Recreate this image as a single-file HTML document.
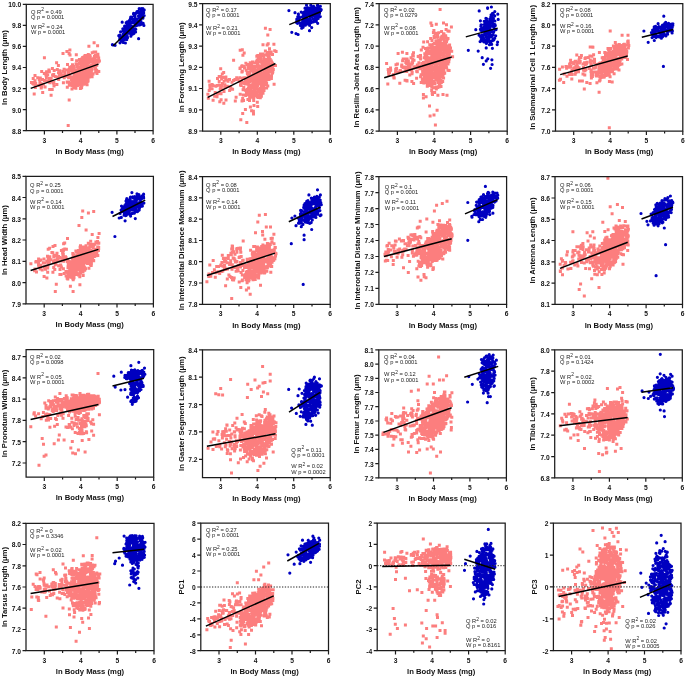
<!DOCTYPE html>
<html><head><meta charset="utf-8"><style>
html,body{margin:0;padding:0;background:#fff;}
svg{display:block;}
text{font-family:"Liberation Sans",sans-serif;}
svg{will-change:transform;}
.tk{font-size:6.7px;font-weight:bold;fill:#111;}
.tt{font-size:7.7px;font-weight:bold;fill:#111;}
.st{font-size:5.75px;fill:#222;}
</style></head><body>
<svg width="685" height="677" viewBox="0 0 685 677">
<path d="M82.3 58.8h0M82.5 73h0M74.8 75.7h0M87.5 55.6h0M84.2 67h0M88.5 62.4h0M79.3 62.8h0M81.3 75.8h0M79.8 79.1h0M79.3 74.7h0M86.1 73h0M72 89h0M96.8 65.2h0M79 66.8h0M91.6 69.9h0M77.8 79h0M87.9 76.6h0M95.2 58.1h0M84.1 67.1h0M82.4 77.2h0M81.5 78h0M74.1 87.7h0M71.8 80.8h0M84.4 65.8h0M84.2 56.8h0M91.8 59.6h0M74 73.1h0M84.9 71.8h0M93.2 62.8h0M93 73.9h0M93.2 61.3h0M95 68.7h0M91.3 71h0M86.8 66.7h0M74.8 81.7h0M85.3 72.3h0M84.7 66.1h0M76.9 66.7h0M75.4 84.7h0M95.8 69.6h0M78.5 69.3h0M76 63.9h0M82 65.8h0M75.7 79.9h0M90.3 57h0M75.9 88.2h0M72.4 72.2h0M86.3 82.1h0M73.9 84.5h0M91.9 64.7h0M83 60h0M81.2 72.7h0M71.5 79.6h0M78.7 70h0M88.5 71.7h0M81.9 58.9h0M72.2 77.7h0M83.1 80.1h0M72.4 85.5h0M95.6 66.3h0M83.2 69.3h0M78.5 72h0M75 70.8h0M83.4 61.1h0M84.1 62.6h0M81 60.7h0M82.1 83.6h0M88.7 55.6h0M93.3 66h0M88.1 81.1h0M90 72.2h0M71 76.9h0M94 52h0M75 85.5h0M84.9 74.1h0M92.9 61.5h0M81.3 66.8h0M92.8 60.8h0M82 83.2h0M88.9 61.8h0M96.5 63h0M91.6 66.4h0M95.4 55.2h0M72.8 79.7h0M74.8 85.4h0M81.9 85.4h0M85.1 55.6h0M90.9 60.8h0M76 69.9h0M67.2 82h0M81.1 77.3h0M94.7 61.9h0M88.1 58.9h0M80.1 85.2h0M81.6 71.2h0M74.3 79.2h0M82.7 57.4h0M81 73.2h0M85.8 79.1h0M74.7 70.2h0M87.1 64.8h0M84 74.6h0M86.9 61.4h0M86.8 59.1h0M94.4 62.6h0M84.9 82.6h0M87.3 63.7h0M81 78.5h0M82.4 71.3h0M94.6 64.7h0M81.2 65.4h0M84.3 60.3h0M77 82.7h0M76.7 72.7h0M81.2 66.7h0M89.3 59h0M91.1 72.8h0M91.6 65.4h0M83.4 74.8h0M95.6 63.4h0M89.1 58h0M67.4 82.3h0M69 75.6h0M78.8 80.4h0M85 63.5h0M72.3 83.1h0M85.5 61.6h0M69.8 74.9h0M88 59h0M85 65.6h0M73.8 77.9h0M86.8 78.4h0M89.9 55.5h0M93.1 73.7h0M76.8 83.9h0M80.9 59.8h0M74.1 75.4h0M87.3 81.5h0M83.1 80.9h0M80.8 59.5h0M78.9 77.1h0M67.3 87.3h0M85.3 68.4h0M80.9 60.7h0M90.7 74.3h0M92.1 76.8h0M80.5 61.4h0M89.7 68.6h0M90.2 65.8h0M90.2 72.2h0M86.1 71.9h0M80.3 71.1h0M78.4 79.1h0M70.7 68.6h0M83.9 66.8h0M88.1 78.3h0M77.4 85.1h0M81.5 84.3h0M79.1 85h0M69.4 84.1h0M94.2 64.6h0M77.3 65.7h0M79.9 63.5h0M92.2 61.5h0M84.4 68.9h0M96.5 55.5h0M93.9 62.9h0M83.7 82.2h0M73.4 79.3h0M79.4 67.4h0M73.3 78.8h0M84.4 84h0M74.8 85.1h0M85.9 74.5h0M80.3 82.2h0M83.1 74.3h0M84.1 57.9h0M95.7 71.2h0M71.8 70.4h0M80 67h0M75.2 84.8h0M89.3 57.3h0M87.3 57.8h0M85.5 76.5h0M85.9 71.2h0M76.7 80.1h0M74.8 73.8h0M89.2 71.6h0M89.3 77h0M78.9 78.7h0M83.4 67.8h0M73.7 86.4h0M94.2 66.6h0M82.2 69.6h0M77.7 77.6h0M84.4 77.2h0M80.4 88.6h0M81.6 79.5h0M89.3 55.9h0M82 58.7h0M69.3 70.8h0M82.4 72.8h0M98 56.5h0M81.6 80.8h0M86.2 71.3h0M85.7 57.7h0M81.3 65.4h0M88.3 71.4h0M84.5 64.3h0M83.7 61.1h0M77.3 64.5h0M87.4 70h0M89.2 61.9h0M80.9 72.8h0M90.6 73.1h0M83.4 84.3h0M94.3 62.1h0M80.7 75.3h0M89.1 61.3h0M73.5 71.7h0M69.3 84.4h0M89.4 77.1h0M91.7 59.3h0M94.3 60.6h0M87 56.5h0M93.8 58.3h0M71.7 66.4h0M88.8 74.2h0M91.8 69.9h0M73.8 68.5h0M83.1 83.5h0M77.6 81.9h0M94.5 56.6h0M82.5 68.2h0M91.7 69.6h0M96.1 72h0M90.4 68.1h0M82.7 70.5h0M84 67.6h0M99.4 61.1h0M84.4 60.8h0M89 70.6h0M82.3 79.1h0M81.1 70.9h0M77.8 81.6h0M81 78.3h0M72.4 84.1h0M88.3 54.6h0M84.6 72.4h0M92.2 52.7h0M81 80.1h0M84.1 82h0M90.8 72.1h0M85.7 74.9h0M76.5 77.1h0M80.3 70.2h0M73.7 66.4h0M88.1 65.7h0M90.8 66.2h0M72 59.4h0M82.9 73.6h0M98.6 59.4h0M77.5 73.1h0M68.5 82.1h0M88.9 59.8h0M81.7 62.6h0M81.4 65.9h0M75.8 80.2h0M76.3 54.8h0M98.3 61.9h0M93.1 60.5h0M97.9 54.3h0M83.2 71.2h0M83.7 75.8h0M82.8 76.9h0M83.2 65.5h0M71.6 78.7h0M75.2 80.2h0M95.7 52.1h0M70.7 70.1h0M97.6 45.8h0M79.4 59.5h0M85.3 64.6h0M73.1 69.3h0M83.8 76.3h0M76.1 75.4h0M86.8 72.6h0M79.2 79.9h0M83.1 68.7h0M71.7 85.2h0M77.3 85.4h0M82.3 76.8h0M81.6 74.9h0M70.4 83.1h0M77.3 74.4h0M62.3 75.3h0M72.5 64.8h0M79.3 68.2h0M74.1 74.1h0M79.3 78.9h0M81.6 87.8h0M92.1 75.3h0M74.3 73.8h0M77.7 72.4h0M96.7 70.5h0M97 73.6h0M98.8 71.6h0M96.4 60.3h0M87.1 84.8h0M79.6 73.8h0M80 70.6h0M79.7 67.5h0M80.1 75.5h0M80.4 78.2h0M87.1 65.6h0M64.3 76.7h0M83.5 71.7h0M82.9 76.7h0M86.5 75.5h0M85.2 73.9h0M80.4 81.9h0M81.1 77.2h0M80.3 84.4h0M87.4 74.6h0M84.9 80.5h0M76.6 60.8h0M98.7 58.1h0M42.7 92.4h0M58.7 79.4h0M66.4 69.9h0M44.3 80.6h0M62.9 71.2h0M49.7 89.6h0M69.7 67.2h0M49.4 71.8h0M41.7 86.7h0M50.1 80.5h0M66.7 76.3h0M40.3 77.9h0M46 75h0M51.2 78.3h0M53.8 82.5h0M35.7 83.6h0M59.5 75.8h0M37.7 77.8h0M68.5 72.7h0M57.3 69.4h0M47.7 75h0M64.8 72.6h0M63.4 82.8h0M45.1 86.9h0M35.1 84.7h0M64.2 77.8h0M40 83.4h0M53.3 83.1h0M40.2 83.5h0M42.5 79.6h0M34.4 82.4h0M66.9 51.5h0M52.6 74.9h0M46.8 80.7h0M54 85.9h0M69.4 85.3h0M32.6 83.2h0M63 53.6h0M34.2 93.9h0M48.9 82.1h0M56.9 84.4h0M35 80.7h0M31.5 82.6h0M58.5 72.7h0M39.9 82h0M69.1 69.5h0M41.2 88h0M63.6 76h0M54.2 70.4h0M61.2 73.8h0M65 73.5h0M39.3 79.6h0M68.4 72h0M40.6 84.1h0M53.7 74.4h0M46.4 77.5h0M48.9 69.9h0M52.4 68.4h0M67.5 64.6h0M59.7 70.7h0M69.1 53.6h0M33.4 84.1h0M56.6 62.8h0M33.2 78.5h0M51.1 95.3h0M49.5 78.4h0M38.8 85.5h0M41.7 71.4h0M47.7 81.3h0M58.4 65.4h0M46.2 73.1h0M49 70.6h0M44.3 73.6h0M46.6 71.8h0M55.2 76.5h0M43.4 84h0M61 75.6h0M53.7 75.5h0M58.1 76.9h0M52.2 89.6h0M49.9 82.8h0M70 54.9h0M69.9 50h0M35.4 87.6h0M68.8 72.2h0M68.6 77.8h0M35 75.4h0M64.1 69.2h0M50.3 81.3h0M45.9 74.9h0M68.2 125.6h0M69.2 100h0M44.4 57.8h0M94.1 42.8h0M88.9 46.2h0" stroke="#fc7e7e" stroke-width="3" stroke-linecap="square" fill="none"/>
<path d="M125.1 37.6h0M140.8 21.5h0M126.8 36.5h0M141.1 13h0M125.6 37.8h0M122.8 28.8h0M141 22.6h0M127.9 26.8h0M135.4 25.5h0M130.1 29.6h0M122.8 31h0M137 11.6h0M140.6 12.9h0M120 42.8h0M119.7 39.2h0M142 16.2h0M131.2 27.6h0M126.8 39.6h0M134.9 29.8h0M135 16.2h0M141.1 13.5h0M130.7 17.2h0M125.9 25.9h0M137.8 24.7h0M119.7 35h0M140.2 14.8h0M135.8 29.3h0M134.8 26.2h0M130.7 23h0M126.4 28.2h0M124.6 26.2h0M122.1 36.6h0M140.8 8.8h0M128.8 33.2h0M128.6 22.7h0M134.6 29.6h0M120.5 39.3h0M133.7 22.8h0M123.4 39.5h0M124.5 35.6h0M121.1 37.2h0M129.4 20.6h0M125.1 33.3h0M128.4 26.3h0M128.9 31.4h0M134 21.7h0M128.9 31.8h0M132.3 22.6h0M140.9 10.3h0M130.7 30.4h0M140.3 18.3h0M127.2 21.8h0M129.2 30h0M131.7 17h0M134.4 30.8h0M131.6 27.4h0M141.1 24.3h0M143.8 10.4h0M131.4 28.1h0M133.9 33.5h0M120.6 31.8h0M142 11.3h0M135.5 24.3h0M124.7 32.7h0M131.9 32.4h0M125.9 36.6h0M136.4 21.1h0M128.5 25.3h0M131 34.6h0M125.5 35.3h0M125.8 34.5h0M139.8 12h0M132.9 33.9h0M134.4 22.3h0M143.7 12.9h0M132.7 28.2h0M126.2 22.7h0M137 19.7h0M140.8 16.3h0M121.8 37.4h0M126.5 35.8h0M123.2 42.4h0M128.4 29.7h0M127.5 30.6h0M123.7 29.2h0M123 34.3h0M142.3 13.7h0M127.4 28.7h0M135.4 14.1h0M125 31.9h0M142.1 14.8h0M140.9 11.1h0M127.7 22.3h0M130.9 36.2h0M131.6 26h0M129.3 20.6h0M133.5 14h0M131.7 26.8h0M130.8 22.9h0M132.3 22.3h0M127.8 22.1h0M130.1 27.5h0M124.8 29.5h0M128.6 30h0M136 13.2h0M137.7 12.4h0M134.6 29.8h0M119.8 37.6h0M140.7 22.9h0M135.2 14.5h0M127.9 27.4h0M131.8 21.9h0M137.5 21.7h0M142.3 13.1h0M131.9 32.1h0M123.3 39.2h0M128.4 30.4h0M120.4 38.9h0M138.5 15.9h0M139.8 18.2h0M135.6 32h0M139.4 22.7h0M134.8 25.5h0M127.7 28.5h0M140.9 17.6h0M136 25.8h0M140 12.7h0M129.9 33h0M139.8 23.5h0M139.2 23.4h0M121.2 41h0M123.9 30.9h0M142.9 8.7h0M142.4 17.4h0M137.6 25.1h0M127.5 37.7h0M125.7 37h0M133.6 13.3h0M139 17.5h0M126.5 23h0M126.9 36.8h0M130 32.8h0M129.5 27.7h0M126.7 30.6h0M140.2 21.1h0M130 22.8h0M127.6 24h0M131.4 35h0M128 24.9h0M128.1 23h0M124.9 39h0M128 23.3h0M134.6 23h0M144.2 9.9h0M134.9 18.2h0M132.9 19.3h0M137 19h0M141 13.8h0M141.3 8.5h0M138.4 21.3h0M128.6 32.6h0M140.9 17.4h0M139.8 15.2h0M134.2 19.8h0M143 17.5h0M121.8 37.4h0M141.4 9.3h0M130.4 18.8h0M140.6 21.8h0M139.6 25h0M135 20.8h0M127.8 30.2h0M125.3 27.4h0M122.8 36.8h0M134.3 15.4h0M143.5 11.6h0M140.1 19.8h0M127.3 36.3h0M136.1 20.6h0M144.2 15.5h0M126.4 33.3h0M123.9 31.8h0M124 28.5h0M142.9 18.2h0M130.4 18.9h0M118.8 35.7h0M134.8 21.5h0M132.8 31.4h0M143.9 25.4h0M129.2 21h0M132.6 30.8h0M141.2 15.8h0M124.3 39.7h0M137.9 11.4h0M129.8 24.9h0M134.6 23.2h0M124.3 29.2h0M125.9 33.8h0M143.2 23.3h0M141 21.3h0M139.2 8.6h0M112.4 44.7h0M136.2 25.7h0M140.4 21.5h0M127 28.5h0M123 35.5h0M112.7 44.9h0M115.1 45.3h0M122.2 22.2h0M125.4 43h0M138.6 38.7h0" stroke="#0000c0" stroke-width="3.2" stroke-linecap="round" fill="none"/>
<line x1="30.7" y1="88.4" x2="98.5" y2="64.1" stroke="#000" stroke-width="1.5"/>
<line x1="113.1" y1="45.7" x2="143.7" y2="16.6" stroke="#000" stroke-width="1.5"/>
<path d="M26.3 4.3H153.1V130.7H26.3Z" fill="none" stroke="#1c1c1c" stroke-width="1.25"/>
<text x="21.3" y="133.6" text-anchor="end" class="tk">8.8</text>
<text x="21.3" y="112.5" text-anchor="end" class="tk">9.0</text>
<text x="21.3" y="91.5" text-anchor="end" class="tk">9.2</text>
<text x="21.3" y="70.4" text-anchor="end" class="tk">9.4</text>
<text x="21.3" y="49.3" text-anchor="end" class="tk">9.6</text>
<text x="21.3" y="28.3" text-anchor="end" class="tk">9.8</text>
<text x="21.3" y="7.2" text-anchor="end" class="tk">10.0</text>
<text x="44.4" y="142.6" text-anchor="middle" class="tk">3</text>
<text x="80.6" y="142.6" text-anchor="middle" class="tk">4</text>
<text x="116.9" y="142.6" text-anchor="middle" class="tk">5</text>
<text x="153.1" y="142.6" text-anchor="middle" class="tk">6</text>
<path d="M22.8 130.7H26.3M22.8 109.6H26.3M22.8 88.6H26.3M22.8 67.5H26.3M22.8 46.4H26.3M22.8 25.4H26.3M22.8 4.3H26.3M44.4 130.7V134.5M80.6 130.7V134.5M116.9 130.7V134.5M153.1 130.7V134.5M62.5 130.7V132.9M98.8 130.7V132.9M135 130.7V132.9" stroke="#1c1c1c" stroke-width="1.2" fill="none"/>
<text x="89.7" y="153.9" text-anchor="middle" class="tt">ln Body Mass (mg)</text>
<text transform="translate(7.2 67.5) rotate(-90)" text-anchor="middle" class="tt">ln Body Length (μm)</text>
<text x="30.9" y="13.5" class="st">Q R<tspan dy="-2.2" font-size="4.9">2</tspan><tspan dy="2.2"> = 0.49</tspan></text>
<text x="30.9" y="18.7" class="st">Q p = 0.0001</text>
<text x="30.9" y="29" class="st">W R<tspan dy="-2.2" font-size="4.9">2</tspan><tspan dy="2.2"> = 0.24</tspan></text>
<text x="30.9" y="34.2" class="st">W p = 0.0001</text>
<path d="M249.1 79.6h0M252.1 87.5h0M261.2 88.1h0M253.4 69h0M256.2 88.4h0M249.9 76.9h0M258.3 66.8h0M253.3 80.6h0M268.2 54.9h0M263.3 83.1h0M268.8 79.1h0M266.9 61.6h0M249.2 77.2h0M252.5 61.9h0M253.6 78.6h0M260.7 72.4h0M259.5 75.2h0M256 94h0M258 69.2h0M258.1 67.4h0M253.7 75.1h0M257.1 60.1h0M264.4 77.3h0M259.6 73.8h0M258.9 69.6h0M254.9 92.9h0M261.7 73.7h0M265.7 81h0M254.8 83.6h0M253.2 82.8h0M270.6 77.3h0M272.5 72.9h0M255.1 74.1h0M263.9 81h0M256.4 93.4h0M265.2 75.4h0M253.5 71.9h0M263 93.3h0M264.5 60.2h0M263.3 84.1h0M260.8 59.4h0M260.3 62.1h0M250.7 67h0M270.2 59.6h0M269.3 57.8h0M262.8 82.8h0M258.7 82.8h0M269.2 58.6h0M266.4 66.9h0M256.2 74.3h0M254.4 84.2h0M257.7 91.2h0M262.2 88.4h0M265.5 79.5h0M253 69h0M260.8 70.5h0M253.7 86.1h0M252.4 77.6h0M258.6 71.4h0M267.1 63.9h0M255.2 95.4h0M271.2 52.1h0M253.7 100.4h0M258.6 78.2h0M243.8 87.6h0M248.1 68.8h0M253 71h0M252.6 97h0M248.9 79.3h0M249.8 86.9h0M262.7 54h0M260.9 55.4h0M248.3 88.3h0M250 86.1h0M266.6 77.3h0M253.6 98.3h0M259.7 88.9h0M250.6 87.9h0M257.5 60.4h0M253.5 66.5h0M258.4 97.5h0M265.3 55.1h0M272.5 54.4h0M244.6 83.5h0M257.4 63.6h0M245.2 83.9h0M257.9 74.6h0M267.9 73.4h0M264.1 71.8h0M255.2 92.7h0M272.4 66.4h0M249.4 88.6h0M252.4 69.2h0M273 65.7h0M256.4 70.7h0M254.9 94.2h0M267.1 68.1h0M253.8 91.1h0M264.4 63.6h0M258.4 74.5h0M269.1 66.3h0M249.6 96.9h0M267.9 63.7h0M259.3 70.4h0M271.3 60.9h0M263.5 79.9h0M268.1 72.2h0M253.4 78.4h0M267.4 75.8h0M256 66.5h0M257.7 60.1h0M258.9 81.7h0M255.7 82.2h0M254.8 79.2h0M254.8 63h0M260.5 66.7h0M268.1 55.5h0M264.7 73.1h0M265.1 63.4h0M263.9 65.4h0M257 94.3h0M264.1 62.9h0M257.5 64.1h0M256 82.3h0M262.9 79.2h0M263.1 81.6h0M251.8 93h0M255.3 94.7h0M268.2 66.9h0M256.8 78.6h0M260.1 93.4h0M264 90.4h0M257.5 77.3h0M265.2 84.6h0M271.3 68.7h0M249.4 93h0M260.1 70.5h0M260.5 67.8h0M261.4 79.5h0M263.6 61.3h0M250.6 77.9h0M262 80.2h0M249.9 65.6h0M263.6 85.7h0M255.5 85.9h0M257.3 94.9h0M258.7 82.7h0M272.2 68.5h0M266.6 83h0M263.5 79.8h0M263.5 88.3h0M261.4 61.3h0M248.9 85.6h0M271.5 76h0M257.3 63h0M260.5 58.3h0M256.1 72.6h0M264 88h0M249.5 100.6h0M261.4 69.1h0M254.8 84.7h0M257 97h0M261.3 75.2h0M253.9 71.9h0M261 75.6h0M256.5 76.5h0M266.6 88.1h0M247.8 78.3h0M247.4 90.7h0M269.7 79.1h0M260.5 54h0M264.7 81.2h0M262.3 65h0M256.7 87.3h0M260.3 93.1h0M260.6 65.9h0M261.8 89.4h0M268.4 58.6h0M253.6 66.5h0M263.7 56.4h0M268.9 75.2h0M258.6 58.1h0M263.4 88h0M256.6 81.2h0M261.6 68.7h0M251.1 95.3h0M265.4 68.2h0M271.9 67.1h0M251.7 64.6h0M254.7 83.2h0M265 81.9h0M272 66.9h0M255.6 84.9h0M262.6 92.1h0M253.9 66.8h0M249.7 97.9h0M265.8 80h0M269 69.4h0M265.3 62.9h0M265.5 59.2h0M252.1 77.8h0M248.2 77.5h0M265.8 67.2h0M271.9 70.6h0M251.3 88.6h0M249.7 90h0M261.2 88.6h0M260.5 92.2h0M270.2 77.5h0M261.2 68.7h0M267.8 68.7h0M266 79.4h0M245.9 95.4h0M270.3 66.5h0M260 95.6h0M246.1 81.8h0M265.1 62.6h0M252.2 77.4h0M271.8 66.9h0M267.1 69.8h0M273.3 69.4h0M256.1 91.7h0M263.3 64h0M268.6 62h0M272.1 71.1h0M247.3 89.4h0M267.8 85.9h0M271.5 65.2h0M266.2 54.7h0M262.1 68.1h0M262.7 92.8h0M245.8 79.6h0M260.3 57.2h0M268.4 71h0M263.5 86.4h0M258.4 58.5h0M263.6 64.9h0M269 55.9h0M271.9 62.4h0M261.5 69.3h0M256.8 56.3h0M254.5 90h0M247.3 72.9h0M264.1 81.4h0M247 81.6h0M269.2 55.7h0M252.8 91h0M260.1 89.2h0M250.7 92.3h0M251.6 78.5h0M248.6 79.4h0M260.6 83.9h0M249.4 82.1h0M252.5 69.3h0M248.1 84.2h0M252.3 84.7h0M252.9 75.7h0M247.3 79.1h0M272.4 63.4h0M267.9 60.4h0M247.5 73.7h0M265.1 82.3h0M262.6 66.3h0M251.6 78.3h0M263.3 90.6h0M249.5 90.6h0M254.4 68h0M261.5 85h0M261.5 81.5h0M258 65.6h0M248.8 94.4h0M250.2 77.2h0M248.5 74.3h0M262.9 76.7h0M275.5 65.6h0M250.2 62.8h0M254.9 94.2h0M243.5 100.5h0M267.9 76.1h0M248.2 74.2h0M240.8 119.8h0M269.6 72h0M262.5 62.7h0M250.8 85.6h0M261.4 61.3h0M259.5 82.3h0M253.8 83.3h0M248.5 72.5h0M271.4 78.4h0M257.1 79.2h0M257.9 70.3h0M257.3 84h0M255.6 86.3h0M262.1 65.4h0M266.1 77.2h0M268.6 78.8h0M250.7 91.5h0M271.5 70.8h0M245.9 63.2h0M254.3 69.3h0M265.5 69.6h0M249.6 88.3h0M248.9 77.5h0M267 61.3h0M263 44.7h0M256.1 87.8h0M251.3 70.8h0M257.7 85.5h0M254 105.6h0M254.1 74.4h0M242.3 71.3h0M267.2 44.9h0M254.6 87.2h0M261.6 62.2h0M250.4 107h0M271.4 67.6h0M253.6 77.4h0M253.5 114.1h0M268 64.9h0M267.7 55.3h0M254.1 70.3h0M252.2 87.4h0M257.8 55.4h0M253.5 82.2h0M260.2 79.5h0M254.5 75.4h0M257.7 106.4h0M242.7 98.5h0M257.8 89.8h0M251.6 110.8h0M261.4 96.2h0M261.6 92.2h0M269.8 66.2h0M235.3 100.9h0M254.3 83.5h0M257 69.9h0M254.6 79.5h0M257.3 102.3h0M262.6 73.1h0M260.2 62h0M248.4 83.6h0M267.3 52.4h0M266 63.7h0M250.3 96h0M246.2 70.3h0M260.5 96.2h0M243.3 94.9h0M254.5 88h0M257.3 76.6h0M250.6 85.4h0M256 78.9h0M265.4 51.1h0M247.9 99.4h0M254.4 82.1h0M260.8 75.9h0M274.7 50.8h0M250.1 97.7h0M260 81.4h0M269.5 51.9h0M258.3 65.9h0M272.8 71.7h0M263.8 75.6h0M252.1 81.3h0M274.1 84.3h0M249.9 73.6h0M252 95.9h0M246.4 92.7h0M255 74.9h0M249.9 69.3h0M254.7 67.6h0M263.9 59.4h0M267.8 35h0M265.1 72.6h0M265.7 65.7h0M260.3 97.7h0M268.9 67.8h0M253.6 78h0M264.5 70.8h0M266.3 67.9h0M261.7 67.1h0M250.1 78.7h0M260 88.4h0M251.5 86.4h0M257.8 74.1h0M259.2 76.6h0M259.9 89.7h0M247.3 64.5h0M253.4 93h0M265.8 82.8h0M265.4 76.3h0M260.8 79.1h0M257.7 75.7h0M255.2 82.5h0M244.7 77.8h0M270.7 64.5h0M266.7 73.8h0M268.6 79.5h0M276.1 51.6h0M248 66.5h0M265.2 69.8h0M270 53.7h0M269.5 48.8h0M269 75.3h0M253.9 84.2h0M263.8 78.1h0M256.1 61.8h0M262 74.1h0M248.6 75.6h0M209.1 81.2h0M223.8 103.2h0M242 101.1h0M226.7 80h0M243.1 89.8h0M230.6 86.9h0M229.6 90.4h0M221.4 88.7h0M238.1 79.2h0M228 81.3h0M209.2 90.5h0M225.7 79.4h0M219.2 81.4h0M213.1 100.2h0M224.8 87.6h0M240.2 94.3h0M240.5 81.7h0M220.7 68.7h0M242.9 55.2h0M217.6 93.8h0M221.1 85.7h0M234.8 79.7h0M221.1 99.7h0M227.4 86.3h0M241.3 81.6h0M215.2 92.6h0M239.9 77.7h0M232 82.3h0M243 82.4h0M241.7 66.6h0M222.3 73.9h0M221.7 85.5h0M241.5 82.5h0M223.6 77.6h0M240 68.5h0M240.5 85.1h0M220.7 85.9h0M229.5 79.5h0M208.3 98.3h0M244.2 66.6h0M242.1 65.7h0M245.4 109.6h0M217 96.7h0M212.1 84.6h0M225.9 77.1h0M240.2 68h0M207.9 94.3h0M243.3 77.9h0M212.1 88.8h0M224.9 84.7h0M209.8 84.9h0M219.3 84.9h0M222.5 83.4h0M224 91.4h0M230.9 88.2h0M225.2 87.5h0M241.2 85.5h0M217.5 78.4h0M245.4 90.3h0M245.5 81.4h0M233.5 80.6h0M240.2 50.2h0M221 93.7h0M220.7 76.8h0M214.7 96.3h0M239.2 81.5h0M242.2 78.4h0M210 87.7h0M223.7 72.5h0M224.1 81.3h0M242 82.7h0M236.7 77.7h0M226 100h0M232.6 89.2h0M236.1 97.3h0M242.3 49.7h0M219.9 93.6h0M215.9 86.2h0M244.5 68.1h0M244.2 52.9h0M221.6 79h0M235.5 79.4h0M231 88.9h0M233.6 60.3h0M213 85.6h0M217.1 85.4h0M241.9 72h0M219.2 76.5h0M220.2 89.1h0M219.8 101.8h0M265.4 28.2h0M270.1 29.5h0M246.8 122.5h0M242.7 113.6h0M253.4 111.2h0M268.2 43.7h0M273.9 44.2h0" stroke="#fc7e7e" stroke-width="3" stroke-linecap="square" fill="none"/>
<path d="M298.3 14.1h0M303.4 19.9h0M313.2 19h0M297.8 16.7h0M305.4 25.2h0M316.7 8.2h0M304.3 23.5h0M310.8 5.2h0M305.1 8.4h0M309 23.3h0M303.2 22.7h0M305 12.3h0M319.5 13.2h0M313.3 6.8h0M310.7 21.2h0M319.4 13.7h0M316.4 9.2h0M304.8 23.8h0M310.4 19h0M317.8 14.7h0M317.7 9.4h0M317.7 5.2h0M306.6 18.2h0M305.9 17.7h0M296.7 22.7h0M313 10h0M310.2 20h0M317.8 17.1h0M306.6 10.4h0M296.7 21.2h0M312.9 7.9h0M315.2 12.1h0M307.9 20.5h0M308.1 14.1h0M309.7 19.9h0M307.8 7.9h0M303.1 27.3h0M320.5 9.9h0M313.3 6.5h0M307 8.7h0M320.4 6.3h0M313.6 15.7h0M309.5 19.4h0M317.6 8h0M302.5 22.8h0M314.9 9.4h0M306.2 11.6h0M302.3 25.7h0M304 14.7h0M306.8 14.2h0M302.3 23.5h0M304.1 12.1h0M298.9 18.7h0M304.6 15.9h0M317.2 11.4h0M298.4 17h0M304.9 21.1h0M312.3 12.9h0M316.9 14.2h0M319.9 6.5h0M304.1 16h0M320.3 16.6h0M315.3 15.6h0M315.5 8.3h0M303.5 24.7h0M304.2 25.3h0M310.4 16.7h0M304.3 18.9h0M299.9 22.9h0M316 9.3h0M298.8 19.8h0M316.4 19.9h0M313.2 12.6h0M312.1 9.6h0M318.2 18.5h0M298.6 17.7h0M311.3 22.3h0M309.5 25.3h0M315.7 12.1h0M310.7 17h0M307.3 9.4h0M318.3 14.2h0M302.4 24.9h0M311.4 22.6h0M300.4 25.5h0M312.2 10.1h0M307.4 11.1h0M304.7 16.3h0M302.7 21.4h0M300.2 17.5h0M299.2 16.8h0M319 7.5h0M309.4 24.5h0M313.6 21.8h0M319.9 9.5h0M313.1 21.7h0M319.2 7.5h0M318.6 13h0M311.1 22.4h0M314.9 7.8h0M307.4 11.5h0M304.9 18.5h0M316.4 20h0M311.6 7.4h0M319 15.5h0M317.1 15.5h0M305.9 22h0M320.7 10.7h0M313.7 13.9h0M312.3 16.5h0M308.8 22.4h0M316.2 17h0M311.6 22.3h0M309.3 22.8h0M315.5 12.3h0M302.5 16.8h0M313.2 6.7h0M317.5 13.1h0M310.7 12.7h0M319.1 8.7h0M305.7 9.8h0M303.3 15h0M300.1 23.2h0M303.9 18.2h0M315.8 11.5h0M299.4 22.8h0M314.6 10.8h0M306.9 12.6h0M306.6 13.1h0M313.6 6.4h0M307.9 21.5h0M309.2 20.9h0M298.4 14.2h0M309.1 23.5h0M305 12.5h0M309.4 20.9h0M296.8 21.4h0M321.2 9.7h0M306.9 24h0M310.5 8.4h0M306 17.5h0M298.4 17.3h0M308.6 14.9h0M307.6 8.2h0M305.3 19.4h0M309.7 9.8h0M311.4 14.3h0M304.4 21.1h0M307.2 23.1h0M306.3 16h0M304 22h0M306.7 10.4h0M315.4 18h0M308.3 22.6h0M302.6 23.3h0M313.3 21.7h0M319.5 10.7h0M316.3 21.6h0M307.7 8.5h0M313.2 9.7h0M296.8 19.2h0M302.6 21h0M298.4 16.5h0M306 14.5h0M318 9.8h0M310.4 9.3h0M308.2 8.4h0M301.2 12.1h0M308.7 24.2h0M317.4 5.3h0M298.3 20.6h0M308 10h0M309.5 30.7h0M297.5 23.3h0M311.1 12.2h0M295 12.7h0M307 19.6h0M318.9 14h0M310 12.1h0M305 8.2h0M315.2 19.6h0M309 14.5h0M316.3 12.5h0M304.3 20.8h0M306.5 5.1h0M317.7 23.3h0M309.4 10.5h0M311.6 14.9h0M310.7 15.5h0M311.2 11h0M303 12.9h0M309.4 18.9h0M298.1 34.5h0M309.8 20.7h0M310.1 9.8h0M314.4 7.8h0M309 8.1h0M288.9 10.6h0M291.8 32.3h0M296 33.6h0M301.7 28.2h0M311.7 27.6h0" stroke="#0000c0" stroke-width="3.2" stroke-linecap="round" fill="none"/>
<line x1="207.7" y1="97.4" x2="275.4" y2="63.5" stroke="#000" stroke-width="1.5"/>
<line x1="289.3" y1="24.6" x2="320.6" y2="11.8" stroke="#000" stroke-width="1.5"/>
<path d="M202.6 3.6H330.3V131H202.6Z" fill="none" stroke="#1c1c1c" stroke-width="1.25"/>
<text x="197.6" y="133.9" text-anchor="end" class="tk">8.9</text>
<text x="197.6" y="112.7" text-anchor="end" class="tk">9.0</text>
<text x="197.6" y="91.4" text-anchor="end" class="tk">9.1</text>
<text x="197.6" y="70.2" text-anchor="end" class="tk">9.2</text>
<text x="197.6" y="49" text-anchor="end" class="tk">9.3</text>
<text x="197.6" y="27.7" text-anchor="end" class="tk">9.4</text>
<text x="197.6" y="6.5" text-anchor="end" class="tk">9.5</text>
<text x="220.8" y="142.9" text-anchor="middle" class="tk">3</text>
<text x="257.3" y="142.9" text-anchor="middle" class="tk">4</text>
<text x="293.8" y="142.9" text-anchor="middle" class="tk">5</text>
<text x="330.3" y="142.9" text-anchor="middle" class="tk">6</text>
<path d="M199.1 131H202.6M199.1 109.8H202.6M199.1 88.5H202.6M199.1 67.3H202.6M199.1 46.1H202.6M199.1 24.8H202.6M199.1 3.6H202.6M220.8 131V134.8M257.3 131V134.8M293.8 131V134.8M330.3 131V134.8M239.1 131V133.2M275.6 131V133.2M312.1 131V133.2" stroke="#1c1c1c" stroke-width="1.2" fill="none"/>
<text x="266.4" y="154.2" text-anchor="middle" class="tt">ln Body Mass (mg)</text>
<text transform="translate(183.8 67.3) rotate(-90)" text-anchor="middle" class="tt">ln Forewing Length (μm)</text>
<text x="206.1" y="12" class="st">Q R<tspan dy="-2.2" font-size="4.9">2</tspan><tspan dy="2.2"> = 0.17</tspan></text>
<text x="206.1" y="17.2" class="st">Q p = 0.0001</text>
<text x="206.1" y="29.8" class="st">W R<tspan dy="-2.2" font-size="4.9">2</tspan><tspan dy="2.2"> = 0.21</tspan></text>
<text x="206.1" y="35" class="st">W p = 0.0001</text>
<path d="M431.3 64.1h0M437 76.6h0M428.8 76.9h0M425.4 69.4h0M427.5 84.6h0M443.3 73.8h0M443.4 65.4h0M431.6 48.5h0M447.9 70.2h0M426.5 59.9h0M435 50.1h0M431.7 69.4h0M423.9 62.7h0M424 68.7h0M441.7 45.6h0M437.6 54.5h0M444.8 62.5h0M427.5 72.1h0M449.4 54.3h0M440.8 60h0M424.8 53.7h0M446.6 67.8h0M439.5 62.1h0M448.6 45.9h0M445.2 62.7h0M424.1 78h0M443 73.9h0M439.9 67.5h0M449.3 59h0M430.9 71.2h0M443.4 53.7h0M445.5 48.1h0M434.5 77.4h0M447 48.2h0M439.7 84h0M435.6 53.7h0M424.4 66.9h0M431 57.9h0M428.1 47.9h0M442.7 76.4h0M441 70.2h0M434.6 75.8h0M444.4 66.4h0M439.4 84.6h0M432.1 72.4h0M441 86.5h0M435.8 80.1h0M439.8 63.3h0M434.7 36.8h0M439.1 86.7h0M440.9 37.8h0M429.4 70.1h0M436.3 73.8h0M427.6 62.7h0M430.7 38.6h0M438.7 54.8h0M422.6 70.9h0M437.4 63.4h0M432 40.5h0M432.3 51.4h0M441.2 48.1h0M427.3 52.5h0M443.2 73.3h0M427.5 67.5h0M440.7 50.8h0M430.7 83.4h0M442.4 74.1h0M433.4 87.7h0M438.9 51h0M436.5 80.3h0M429 59.6h0M443.2 58.7h0M435.3 58.7h0M439.8 41.3h0M439.1 74.7h0M441 58.4h0M436.8 72.8h0M437.2 44.2h0M443.1 43.4h0M426.7 55.2h0M428.1 49.3h0M437.3 59.9h0M437.4 61.8h0M424.2 57.7h0M440.1 69.3h0M427.9 80.1h0M437.7 42h0M433 44.3h0M439 53.6h0M445.1 50.8h0M434.1 36.2h0M425.2 65.4h0M427.8 77.1h0M445.7 35.7h0M425.8 54.6h0M434.6 54.4h0M443.9 48.8h0M430.3 58h0M428.2 67h0M425.7 55.2h0M439.6 86.7h0M432.1 76.5h0M428.2 49.8h0M422.3 79.6h0M444.6 63.3h0M439.6 55.6h0M429.5 78.5h0M427.1 81.8h0M432.5 48.9h0M450.5 47.9h0M443.5 73.7h0M440.2 60.4h0M441.4 76.6h0M451.7 51.3h0M436.7 70.7h0M444.4 56.7h0M442.8 66.2h0M444 57.4h0M436.8 45.5h0M436.4 74.4h0M434.1 37.8h0M440.9 80h0M443.8 52.1h0M433.9 83.3h0M439.9 72.6h0M443.7 53.7h0M444.6 58.2h0M433.4 73.4h0M430.5 77.1h0M443 46.4h0M440.6 47.9h0M440.5 39.7h0M425 69.9h0M440.5 47.1h0M427.6 41.8h0M437.7 71.4h0M434 51.1h0M437.3 44.9h0M449 48.1h0M425 75.1h0M439.9 83.1h0M439.9 68.2h0M431.8 52.2h0M440.4 49.6h0M438.4 78.3h0M436.8 63.6h0M440.6 43.4h0M436.4 78.2h0M441 73.4h0M428.8 63.6h0M438.8 40.3h0M439 79.6h0M447.1 54.9h0M435.3 33.2h0M439.5 63.4h0M445.9 43.8h0M430.5 74.7h0M437.7 87.4h0M441.7 76.7h0M441.9 36.3h0M431.8 52.9h0M443.6 57.2h0M440.1 76.7h0M437.8 63.5h0M431.6 84.8h0M423.4 62.4h0M426.4 51.9h0M437.3 52.2h0M440.7 52.6h0M427.3 76h0M447.5 54.8h0M442.2 37.2h0M431.9 45.8h0M444.1 63.4h0M430.8 70.8h0M439.6 57.6h0M440.7 82.7h0M443.5 38.4h0M425.3 66.7h0M431.4 80.8h0M447.1 39.7h0M432.4 52.3h0M424.8 76.3h0M432.8 60.6h0M434.4 43.4h0M428.4 75.4h0M438.9 47.5h0M432.3 64h0M429.1 53.7h0M437.2 46.4h0M435.2 62.4h0M428.9 77.8h0M435.1 53.8h0M427.6 73.6h0M426 72.6h0M446.5 63.6h0M434.2 63.6h0M437.2 37.3h0M448.7 48.8h0M431.1 52.3h0M431 53.3h0M448.2 61.4h0M441.8 59.1h0M424 74.7h0M444 39.9h0M430.5 52.6h0M430.9 57.8h0M430.3 84.8h0M448.8 61.7h0M441.3 82.5h0M430.2 52.2h0M423.9 83h0M438.3 42.5h0M448.9 51.7h0M438.7 45.5h0M440.2 51.6h0M425.7 63.9h0M448.9 52.1h0M428.7 52.7h0M437 66.3h0M432.4 62.1h0M424.3 74.4h0M439.4 82.1h0M437.2 40.8h0M441 73h0M444.5 53h0M437.5 40.7h0M436.4 64h0M427.3 57.6h0M440.6 45.8h0M435.7 66.1h0M425.4 65.1h0M448.2 47.7h0M440.7 48.7h0M436.8 68.2h0M433.8 62.5h0M424.9 67h0M444.4 41.8h0M448.9 58h0M430.9 66.7h0M437.6 62h0M441.1 59.3h0M437.2 33.5h0M440.2 71.6h0M428 67.9h0M421.8 67.8h0M444 34.1h0M435.9 41.3h0M442.2 68h0M434.5 61.4h0M434.4 48.3h0M433.8 82.2h0M442.7 57.5h0M438.7 57.7h0M426.9 58.5h0M443.8 55.9h0M439.2 74.7h0M433.1 50.5h0M430 73.4h0M432.3 56.9h0M449.8 50.5h0M438.7 45h0M424.2 78.5h0M423.2 65.2h0M440.2 41.7h0M432.1 69.2h0M431.1 68.4h0M440.5 66.4h0M441.9 73.7h0M425.9 78.1h0M449.1 70.6h0M437.5 71.6h0M431.2 45.5h0M436.6 41h0M423.6 66.7h0M431.6 74.8h0M444 72.2h0M444.8 38h0M427 67.3h0M436.3 73.4h0M437.8 76.4h0M448.4 57.2h0M439.9 49.7h0M431.3 71.6h0M442 73.2h0M437.1 67.5h0M429 60.6h0M441.4 50.1h0M427 50.4h0M430.6 73.3h0M440 76.6h0M445.3 44.2h0M425.5 48.5h0M448 64h0M434.9 73.1h0M427.5 50.5h0M442.8 60.3h0M432.4 92.5h0M431.8 54.8h0M435.8 86.9h0M440.8 62.2h0M428.2 72.6h0M443.7 36.4h0M440 58.6h0M424.1 69.7h0M437.9 54.9h0M435.3 48.3h0M436.8 49.4h0M439.4 73.8h0M436.4 87.7h0M427.1 67.7h0M425 78.8h0M445.8 44.6h0M440.3 63h0M443.8 38.9h0M431.8 87.2h0M440.7 49.8h0M438.6 73.9h0M442.7 70.8h0M425.1 56.2h0M426.5 53.7h0M448.1 47.1h0M446.6 50.1h0M432.2 70.1h0M424.1 63.6h0M448.2 61.4h0M442.7 76.8h0M436.3 61.4h0M426.7 81.8h0M445.3 44h0M431.6 58.1h0M429.9 82.8h0M429 58.2h0M440.7 40.1h0M444.9 61h0M424.2 73.7h0M427.3 86.2h0M433.6 81.6h0M436.7 37.3h0M426.3 79.3h0M430 74.9h0M437.7 72.8h0M446.1 65.7h0M437.4 65.2h0M445.1 44.6h0M445.3 49.3h0M445.4 46h0M437.4 44.6h0M444.7 73.2h0M443.8 70h0M428 81.8h0M429.8 44.8h0M444.4 66.6h0M424.5 76h0M436.1 72.2h0M425.8 58.7h0M448 38.5h0M433.8 57.3h0M440.5 59.3h0M436.3 48.7h0M447.5 59.3h0M430.3 85.6h0M432.2 52.8h0M441.6 61.8h0M440.4 53.5h0M443 53.9h0M422.8 82.3h0M438.5 51.7h0M420.6 76.8h0M434.2 47.6h0M423.7 42h0M441.2 63.5h0M422.8 78.9h0M442.6 54.5h0M434 115.1h0M447.1 59.3h0M439 45.9h0M440.4 54.5h0M440.1 9.6h0M441.4 44.4h0M445.5 61h0M446.5 41.6h0M436.9 64h0M441.2 47.4h0M435.3 71.1h0M436.2 53.1h0M436.3 89.1h0M443.8 51.9h0M429.3 77.1h0M430.9 47.9h0M426.1 96.7h0M435.2 63.5h0M428.6 64.7h0M431.9 81.3h0M438.6 62.4h0M442.7 81.6h0M435.6 74.9h0M426.2 60.3h0M444.4 63.9h0M425.9 54.8h0M438.2 86.9h0M423.4 94.4h0M435.2 66.4h0M428.3 67.3h0M426.5 56.3h0M442.1 37.9h0M434.4 69.5h0M441.1 43.9h0M431.7 78.7h0M430 75.8h0M440.8 71.7h0M439 86.3h0M449.6 45.1h0M444.6 60h0M444.3 57.7h0M439.4 78.5h0M438.2 82.4h0M442 70.9h0M438.7 32.8h0M422.7 71.7h0M445.3 50.3h0M439.5 60h0M439.8 54.7h0M439.4 69.4h0M426.5 82.8h0M427.7 69.3h0M438.9 60.6h0M437.7 53.8h0M433.9 72.9h0M440.5 71.4h0M421.2 82.4h0M447.6 57.4h0M438.6 74.2h0M446.4 51.8h0M439.3 48.8h0M446.5 24.8h0M426.8 73.9h0M440.5 76.8h0M429.7 70.2h0M443.7 65h0M443.5 23.1h0M430 63.8h0M434.9 83.4h0M432.2 93.3h0M438.5 68.4h0M438.5 57h0M426 72.4h0M421.1 74.8h0M426.7 58.1h0M432.7 80.9h0M423 47.2h0M424.3 79.7h0M439.5 60.9h0M429.2 85h0M429.3 70.4h0M428.4 82.5h0M437.8 56h0M437.9 95.2h0M432.8 67.3h0M433.4 32.5h0M437.7 36.6h0M430.9 22.9h0M444.9 52.1h0M440.3 69.4h0M451.4 27h0M424.8 81.4h0M445.1 56.3h0M435.4 68.3h0M417.3 71.7h0M430.6 72.9h0M432.9 52.3h0M425.5 72.5h0M431.1 70.3h0M433.7 58.4h0M447.9 31h0M432.5 94.4h0M431.6 66.9h0M442.2 49.1h0M435.5 53.8h0M441.6 31.5h0M443 94.4h0M445.9 37.5h0M436 79.8h0M416.7 71.3h0M430.9 79.8h0M424.4 62.3h0M447 95.2h0M432.2 85.3h0M441.4 69.6h0M430.5 53.2h0M431.8 25.6h0M446 37.9h0M439 48h0M449.1 31.3h0M430.6 51.5h0M442.5 47.8h0M436.7 77.8h0M428.8 77.4h0M434 62.9h0M435.4 74.1h0M431.7 90.4h0M436.4 65.2h0M443.6 78h0M428.7 63.5h0M430.7 60.9h0M433.1 58.4h0M437.6 69.1h0M437.1 79.6h0M428.6 65.4h0M427.3 59.8h0M436.3 24.3h0M427.1 77.5h0M425.3 55.8h0M425.6 77.3h0M445 65.7h0M452.6 56.7h0M443.4 33.8h0M434.7 92.4h0M434.5 68.5h0M444.4 67.3h0M435.8 57.2h0M430.9 68.3h0M438.3 56.1h0M437.5 34.2h0M411.9 81.5h0M402.6 60.7h0M403.2 58.9h0M418.2 56.6h0M409.8 69.7h0M390.7 70.3h0M406.7 63.4h0M403.5 67.5h0M408.4 61h0M400.2 70.5h0M398.4 72.2h0M388.8 74.5h0M393.2 75.7h0M387.8 83.9h0M399.8 83.3h0M419.9 56.7h0M406.9 53.5h0M402.3 67h0M411.5 69.9h0M417.3 64.9h0M407.3 68.6h0M395.6 71.8h0M405.8 62.6h0M420.4 68.2h0M405 67.4h0M396 64.7h0M413.5 52.7h0M410.2 66.9h0M393.6 74.6h0M422.1 63.4h0M404.9 70.9h0M386.6 63.5h0M388.2 69.4h0M406.8 80.4h0M388.5 72h0M416.6 78.3h0M404.5 66.9h0M402.4 52.3h0M418.9 62.8h0M419.9 68.8h0M413.8 67.9h0M421.3 49.9h0M393.9 77.8h0M405.1 80.2h0M401.6 66.3h0M409.8 74.9h0M406.7 67.7h0M395.7 69.3h0M420.5 67.3h0M407.8 66.7h0M401 71.6h0M412.6 63.1h0M395.8 69.3h0M412.7 54.8h0M412 73.8h0M415 66.8h0M407.1 58.9h0M404.5 58.9h0M414 66.9h0M411 57.8h0M413.3 56.1h0M420.5 55.4h0M400.5 71h0M417.3 67.7h0M405.9 59h0M414 60.2h0M401.8 65.1h0M409.6 68.3h0M396.6 68.6h0M420.6 58.9h0M406.4 60.1h0M406.7 71.6h0M419 56.3h0M397.4 64.1h0M398.2 72.1h0M407 81h0M419.5 66.1h0M390.5 68.1h0M413.6 83.6h0M412.2 72.3h0M408.6 63.9h0M389.6 72.5h0M420.3 57.6h0M398.1 53.5h0M412.7 59.4h0M420.9 67.2h0M412.1 62.6h0M411.6 64h0M394.2 78h0M406 68.3h0M435.4 125h0M430.1 116.1h0M437.1 110.2h0M429.5 106.1h0M423.4 98.1h0M433.9 30.4h0M446.1 29.5h0" stroke="#fc7e7e" stroke-width="3" stroke-linecap="square" fill="none"/>
<path d="M489.6 23.3h0M488.7 38.3h0M490.6 30.4h0M490 21.9h0M486.3 41.4h0M481.8 40.2h0M488.6 40.5h0M482.1 34.9h0M494.7 38.2h0M480.8 30.3h0M494.1 28h0M487 40.6h0M484 24.5h0M486.5 25.9h0M486.9 32.4h0M494.9 21h0M490.3 19.9h0M480.7 37h0M489.5 40.8h0M492.4 40.8h0M492.2 35.7h0M484.2 21.3h0M486.6 20.4h0M493.2 39.3h0M488.3 41.3h0M486.2 33.4h0M484.1 40.7h0M496.1 29.6h0M486.8 42.2h0M489.1 26h0M485.2 22.6h0M493.2 31.9h0M483.1 28.4h0M491.9 40.9h0M485.4 29h0M488 21.6h0M485.3 34.2h0M481.9 39.8h0M486.7 33.9h0M488.7 39.4h0M491.8 17.9h0M480.4 29.3h0M484.7 32h0M483.4 30.5h0M489.4 27.1h0M490.5 42.9h0M493 24.6h0M486.2 40.4h0M486.3 32.2h0M493.9 27.2h0M485.1 34.1h0M487.3 22.4h0M488.9 36.1h0M489.6 34.3h0M489.1 37.1h0M483.9 27.3h0M487.4 29.4h0M486.1 36.9h0M493.8 39.9h0M485.1 24.8h0M481.7 29.4h0M486.3 37.3h0M488.7 29.2h0M493.3 24.6h0M493.6 32.2h0M488.5 33.5h0M485.9 18.3h0M491.9 25.8h0M491.6 35.3h0M487.2 32h0M493.4 18.5h0M488.4 38h0M489.3 30h0M492 25.4h0M487.6 31.5h0M486.4 43.5h0M489.7 19.1h0M493.3 19.6h0M484.3 27.6h0M491.5 37h0M492.4 23.1h0M488.1 39.1h0M480.9 26.2h0M486.6 41.6h0M493.4 24.5h0M479.1 35.2h0M484.1 42h0M494.2 24.9h0M490 27.4h0M487.8 24h0M485.8 31.1h0M489.6 25.7h0M485.5 26.8h0M483.8 38.5h0M483.7 40h0M490.5 20.5h0M482.1 39.2h0M481.4 35.7h0M484.3 34.4h0M486.2 29.4h0M484.1 28.8h0M491.5 31.5h0M491.5 30.5h0M488.3 31.4h0M484.1 39.6h0M481.3 30.5h0M482.9 28h0M488.3 24.8h0M495.7 35.8h0M484.9 29.7h0M482.1 28.3h0M488.2 24.2h0M481.9 37.2h0M485.9 35.3h0M485.2 32.8h0M486.5 28.8h0M491.1 14.8h0M486.5 18.6h0M493 34.5h0M495 24.6h0M491.4 7h0M482.4 40.1h0M475.8 29.7h0M486.2 23.9h0M491.9 59.8h0M495.3 25.6h0M493.9 39.1h0M490.8 16.9h0M489 40.9h0M486.2 60.9h0M480.1 41.6h0M485.1 35.1h0M489.2 34.2h0M486.7 37.1h0M495 29.9h0M491.7 44.3h0M493.7 27.2h0M493.1 13.9h0M484.7 28.4h0M487.6 8.3h0M483.4 64.3h0M478.2 51.1h0M488.1 32h0M482.2 40.8h0M489.5 44.7h0M489.8 33.3h0M497.6 42h0M491.7 22h0M494.7 15.9h0M480.4 20.8h0M492.3 21.7h0M494.8 11.6h0M486.2 47.9h0M491.4 20.8h0M490.1 22.1h0M487.6 7.8h0M497.8 14.2h0M491.5 25.9h0M483 36h0M490.9 30h0M482.2 57.7h0M491.8 15.9h0M488.2 27.9h0M492.4 48.3h0M498.2 19.4h0M490.8 18.3h0M486.9 25.6h0M481.1 24.8h0M486.9 31.9h0M481.3 39.6h0M492.5 13.4h0M468.3 50.3h0M490.6 68.3h0M492.1 64.5h0M487.8 58.8h0M479.2 10.9h0M497.2 44.6h0" stroke="#0000c0" stroke-width="3.2" stroke-linecap="round" fill="none"/>
<line x1="384.2" y1="77.8" x2="451.7" y2="57" stroke="#000" stroke-width="1.5"/>
<line x1="465.8" y1="36.9" x2="497.7" y2="28.1" stroke="#000" stroke-width="1.5"/>
<path d="M379.1 3.6H507.2V131.1H379.1Z" fill="none" stroke="#1c1c1c" stroke-width="1.25"/>
<text x="374.1" y="134" text-anchor="end" class="tk">6.2</text>
<text x="374.1" y="112.8" text-anchor="end" class="tk">6.4</text>
<text x="374.1" y="91.5" text-anchor="end" class="tk">6.6</text>
<text x="374.1" y="70.3" text-anchor="end" class="tk">6.8</text>
<text x="374.1" y="49" text-anchor="end" class="tk">7.0</text>
<text x="374.1" y="27.8" text-anchor="end" class="tk">7.2</text>
<text x="374.1" y="6.5" text-anchor="end" class="tk">7.4</text>
<text x="397.4" y="143" text-anchor="middle" class="tk">3</text>
<text x="434" y="143" text-anchor="middle" class="tk">4</text>
<text x="470.6" y="143" text-anchor="middle" class="tk">5</text>
<text x="507.2" y="143" text-anchor="middle" class="tk">6</text>
<path d="M375.6 131.1H379.1M375.6 109.8H379.1M375.6 88.6H379.1M375.6 67.3H379.1M375.6 46.1H379.1M375.6 24.9H379.1M375.6 3.6H379.1M397.4 131.1V134.9M434 131.1V134.9M470.6 131.1V134.9M507.2 131.1V134.9M415.7 131.1V133.3M452.3 131.1V133.3M488.9 131.1V133.3" stroke="#1c1c1c" stroke-width="1.2" fill="none"/>
<text x="443.1" y="154.3" text-anchor="middle" class="tt">ln Body Mass (mg)</text>
<text transform="translate(358.9 67.3) rotate(-90)" text-anchor="middle" class="tt">ln Resilin Joint Area Length (μm)</text>
<text x="384.1" y="12.2" class="st">Q R<tspan dy="-2.2" font-size="4.9">2</tspan><tspan dy="2.2"> = 0.02</tspan></text>
<text x="384.1" y="17.4" class="st">Q p = 0.0279</text>
<text x="384.1" y="29.6" class="st">W R<tspan dy="-2.2" font-size="4.9">2</tspan><tspan dy="2.2"> = 0.08</tspan></text>
<text x="384.1" y="34.8" class="st">W p = 0.0001</text>
<path d="M609.3 64.4h0M609.1 61.2h0M607.8 58.1h0M621.1 48.3h0M616.1 49h0M599.7 76.7h0M606.2 61.2h0M599.1 67.6h0M610 70.2h0M626.4 51.4h0M619.9 45.7h0M616.1 53.5h0M608.4 59.9h0M599.8 66.6h0M609.5 52.3h0M625.2 45.6h0M597.4 74.8h0M606.5 75h0M604.3 77.1h0M599.9 76.8h0M608.6 49.4h0M600 72.6h0M613 51.3h0M613.9 61.3h0M613.1 57h0M609.5 48.5h0M616.4 68.4h0M621.5 48.3h0M604.1 67.3h0M624.8 49.2h0M616.1 57.7h0M626.8 51.8h0M616.2 45h0M614.4 69h0M615.5 50h0M620 58.5h0M613.2 56h0M596.6 71.9h0M610.6 48.6h0M610.6 57.3h0M624.5 50.7h0M601.7 72.7h0M619.7 60.9h0M606.8 55.2h0M603.7 70.2h0M624 54.4h0M620.9 46.7h0M608 71.5h0M603.4 57.5h0M616.6 46.4h0M618.9 52.9h0M603.1 65.7h0M622 49.7h0M607.9 75.3h0M608 48.5h0M627.7 41.8h0M622.6 51.6h0M608.4 48.8h0M622.7 49.7h0M611.4 58.4h0M601.2 69.2h0M620.7 58.6h0M626 49.3h0M621.2 46.8h0M605.7 75.4h0M616.7 46.8h0M610.4 59.3h0M621.5 56.9h0M614.3 52.3h0M600.2 63h0M625.1 54.4h0M616.3 53.6h0M611.7 59.2h0M608.5 73.6h0M621.4 45.4h0M605.5 54.6h0M621.9 64h0M626.3 52h0M613 52.6h0M610.8 54.8h0M602.3 66.9h0M601.9 74h0M619.5 64.1h0M604.4 58.2h0M609.8 65.9h0M606.3 72.3h0M604 58.7h0M619.2 54.6h0M605.5 72.4h0M613.6 54.8h0M607.3 74.6h0M597.1 64.6h0M611.5 58.3h0M614.1 47.8h0M616 58.6h0M612.5 71.8h0M608.2 55.1h0M620 64.4h0M619.7 48.5h0M610.3 71.5h0M616.1 55.8h0M624.8 57.4h0M604.9 60.6h0M615.9 46h0M614.3 63.1h0M608.8 64.9h0M614.6 48.6h0M619.8 52.8h0M624.4 47.8h0M620.5 49.7h0M596.6 75.9h0M615.7 63.4h0M609.8 70.2h0M609.5 66.6h0M623.7 44.5h0M606.6 70.8h0M620.9 59h0M625 57.2h0M624.2 54.9h0M609.6 70.1h0M609.5 54.8h0M604.7 70.6h0M617.7 67.7h0M598.9 70.1h0M600.4 71.1h0M614.6 57.5h0M601.7 68.2h0M596.3 75.7h0M611 67.2h0M624.5 48.1h0M613 66h0M616.9 46.1h0M603.4 71.4h0M615.6 66.5h0M622.2 47.6h0M606.5 73.9h0M616.7 64.8h0M613.7 62.6h0M626.8 52h0M606 56.3h0M624.8 47.4h0M614.4 51.9h0M599.4 67.6h0M600.2 66.2h0M616.9 64.9h0M607.1 66.7h0M605.4 66.9h0M605.2 66.3h0M614.7 47.1h0M615.5 64.3h0M606.8 66.2h0M605.6 75h0M608.4 63.9h0M603.3 77.2h0M608.8 52.7h0M604.1 77h0M599.6 71.4h0M620.2 55.4h0M626.5 54.7h0M601.6 68.9h0M622.2 55.2h0M601.3 75.7h0M600.5 65h0M607.1 53h0M616.6 52.9h0M625.7 49.2h0M601 71.5h0M610.8 58.1h0M608.5 53.5h0M609.5 54h0M624.4 44.2h0M602.1 70.2h0M614.2 66.1h0M618.9 62.6h0M598.2 74.3h0M604.8 52.4h0M621.8 51.4h0M625.7 53h0M618.5 65.2h0M599 65.1h0M619.3 44.6h0M621.4 47.4h0M603.3 60.9h0M609.6 68.2h0M608.8 69.2h0M615.3 65.2h0M600.2 76h0M608.5 53.8h0M624.1 56.1h0M609.3 49h0M625.9 57.3h0M618.3 54.5h0M600.9 77.6h0M614.5 65.5h0M602.5 62.6h0M596.4 74.3h0M618.7 47.5h0M603.9 64.7h0M601.8 64.5h0M615.5 56.3h0M608.4 68.1h0M602.4 76.2h0M625.4 51.3h0M609.3 73.8h0M617.1 49.9h0M610.6 52.3h0M600 69.5h0M608.4 55.1h0M621.7 53.2h0M608.8 63.6h0M611.6 63.4h0M612.7 53h0M626.1 50.1h0M619.3 46.6h0M611.5 62.9h0M601.1 69.3h0M620.1 60.6h0M617.5 52.6h0M609.6 70.2h0M628 35.2h0M606.6 66h0M602.6 75h0M607 66h0M612.9 66.1h0M618.1 62.8h0M617.4 61.9h0M619.9 52.9h0M607.3 62.4h0M620.8 58.5h0M596.6 75.5h0M627.5 59.5h0M624.5 49h0M607.7 66.4h0M609.7 59h0M612.3 63.4h0M613.4 45.9h0M627.7 44.4h0M609.4 81.6h0M628.3 43.2h0M590.1 83.4h0M619.8 50.9h0M606.5 59.8h0M612 61.8h0M612.7 55.5h0M613 69.6h0M615.3 42.5h0M611.3 67.2h0M610.1 76.7h0M604.2 59.7h0M614.8 59.8h0M617.5 66.4h0M628.2 41h0M609.9 52.1h0M617.6 58.6h0M610.2 60.3h0M612.2 54.6h0M608 65.7h0M602.2 57.8h0M591.3 75h0M609.8 65.6h0M592.8 74.4h0M621.8 59h0M603.2 60h0M601.8 70.1h0M596.9 82.8h0M611.9 63.9h0M615.1 52.7h0M617 61.5h0M617.1 51.8h0M614.1 73.8h0M585.7 63.8h0M600.1 80.1h0M615.7 54.4h0M606.3 67.8h0M612.4 58h0M625.5 50.1h0M605.2 63.4h0M602.1 72.5h0M628.4 47.9h0M614.7 64.5h0M606.4 54.1h0M628.8 45.4h0M607.4 69.9h0M591.4 78.1h0M605.3 60.2h0M605.2 64.3h0M594.1 72.1h0M612.8 62.3h0M619 70.1h0M612.2 81.9h0M613.9 54.9h0M618.9 64.9h0M607.8 67.6h0M593.4 68.3h0M625.3 53.1h0M599 69.1h0M599.3 64.1h0M612.2 60h0M591.5 73.1h0M604.7 71.4h0M599.4 80.9h0M595 67.9h0M599.4 52.6h0M599.1 63.7h0M594.5 59.6h0M616.6 68.9h0M610.4 54.9h0M609.8 67.8h0M611.6 63.4h0M608.2 67.2h0M610.5 67h0M574.9 68.7h0M590.2 46.9h0M570.1 63.6h0M591.1 70.2h0M582.4 81.1h0M559.4 80.3h0M593.2 61.3h0M594.2 62.4h0M585.7 69.5h0M563.7 82.4h0M587 62.2h0M571.8 79h0M577.5 66.7h0M575.9 66.9h0M566.3 66.6h0M576 66.2h0M578.9 68.8h0M576.3 62.1h0M567 76.2h0M560.5 79.3h0M591 71.7h0M586.6 63.7h0M585 58.4h0M583.4 67.6h0M592.9 47.3h0M586.8 82.5h0M581.4 55.6h0M576.5 67.4h0M573.8 68.8h0M575.2 74.3h0M583.6 70.2h0M564.2 74.1h0M573.6 63.8h0M594.2 59.2h0M576.9 64.1h0M570.9 66.6h0M579.5 57.5h0M588.4 57.4h0M592.4 76.6h0M591.2 70h0M594.6 61.4h0M590.3 61.9h0M584.6 62.7h0M578.5 71.7h0M562.4 67.1h0M580.2 61.3h0M571.2 62.5h0M592.7 74.8h0M572 62.8h0M569.2 67.2h0M572 74.4h0M584.8 75.1h0M571.3 72.1h0M575.5 61.2h0M575.5 68.5h0M591.9 56.2h0M580.8 57.6h0M578.7 62.6h0M574.7 62.1h0M586 69.3h0M579.5 81.1h0M592.2 47h0M583 74.1h0M589.9 55.9h0M585 70.8h0M575.8 72.4h0M589.4 68.5h0M593.4 68h0M579.4 63.1h0M570.6 60.2h0M591.4 65.5h0M569.6 64.4h0M576.8 55.1h0M582.9 64.1h0M566.6 68.2h0M569.2 74.5h0M577.9 71.5h0M559.6 69.3h0M590.3 60h0M574.6 67.8h0M566 66.6h0M585.7 57.8h0M595.7 67.2h0M579 67.7h0M585.3 64.6h0M591 64.6h0M576.8 66.2h0M572 69.7h0M579 59.9h0M593.6 54.8h0M609.3 127.8h0M610.2 31h0M599.1 92.3h0M584.3 89h0M622.1 35.2h0" stroke="#fc7e7e" stroke-width="3" stroke-linecap="square" fill="none"/>
<path d="M668.6 23.4h0M662.6 25.6h0M654.4 36.6h0M672.2 27.4h0M662.4 27.5h0M664.6 23.7h0M662.2 30.2h0M668.3 31h0M658 30.6h0M654.1 28.8h0M660.7 27.1h0M652.6 30h0M653.7 31.2h0M657.2 27.6h0M660.6 33.9h0M667.6 32.2h0M669 28.8h0M663.9 29.7h0M663.9 27.7h0M660.2 32.7h0M672.2 31.4h0M659.5 36.3h0M670 29.5h0M663.6 33.8h0M670.4 30.1h0M659.3 36.1h0M658.2 31.4h0M668.2 31.5h0M654.2 26.9h0M671.4 24.2h0M672.1 33h0M665.9 35.9h0M669.9 27h0M659 26.6h0M653.5 36.3h0M666.6 27h0M659.7 35.3h0M671.6 26.8h0M663.9 28.4h0M662.5 25.2h0M670.6 30.8h0M653.1 35.2h0M655.3 28.8h0M661.4 29.2h0M665.1 29.6h0M655.3 28.4h0M665 24.8h0M672.9 23.8h0M663.4 33.4h0M662.3 26.5h0M667.6 34.2h0M662.5 36.8h0M656 35.8h0M655.5 33.5h0M654.4 28.1h0M656.4 36.9h0M669.6 29.2h0M669.7 30.4h0M655 31.9h0M661.4 38.2h0M669.8 29.3h0M671.2 31.1h0M667.8 25.8h0M670.7 26.2h0M658.4 29.2h0M663.5 26.5h0M653.9 32.7h0M656.2 37.6h0M660.7 35h0M659.6 32.5h0M661.9 32.4h0M656.5 29.3h0M659.4 36.7h0M655.8 36h0M670.2 27.3h0M658.7 36.1h0M664.6 24.1h0M658.7 28.5h0M672.8 25.5h0M657.4 36h0M664.9 35.3h0M662.2 30.6h0M662.9 27.2h0M653.8 31.5h0M663.9 31.3h0M652.1 37.6h0M672.4 30.9h0M672.1 30.7h0M669.4 27.9h0M663.6 30.2h0M653.6 36.6h0M656.5 30h0M655.3 32.6h0M668.5 23.6h0M666.4 24.6h0M651.4 32.6h0M655.1 33.2h0M665.5 34.8h0M667.9 24h0M657.8 29.2h0M663 34.6h0M655.3 32.1h0M655.5 29.2h0M667.4 30.2h0M660.5 37.3h0M655.9 35.5h0M653.8 36.3h0M654.4 35.1h0M655.6 26.4h0M667.6 24.5h0M656.2 35.8h0M655.9 34.9h0M659 36.8h0M658.3 36.5h0M666.5 34.5h0M656 34.9h0M669.4 24.2h0M663.9 27h0M667.5 25.4h0M661.2 30.6h0M659 31.4h0M666.5 30.9h0M663.3 31.1h0M667.5 34h0M663.9 29.3h0M660.6 31.6h0M665.7 22.3h0M658.1 23.7h0M652.3 34.2h0M656 28.9h0M663.2 30.9h0M662.2 30.7h0M663.8 16.2h0M663.4 66.4h0M643.9 31h0M648.2 42.3h0M654.3 40.5h0" stroke="#0000c0" stroke-width="3.2" stroke-linecap="round" fill="none"/>
<line x1="560.2" y1="74.6" x2="627.7" y2="56" stroke="#000" stroke-width="1.5"/>
<line x1="641.8" y1="37.2" x2="673.2" y2="29.4" stroke="#000" stroke-width="1.5"/>
<path d="M555.5 3.6H682.8V131.2H555.5Z" fill="none" stroke="#1c1c1c" stroke-width="1.25"/>
<text x="550.5" y="134.1" text-anchor="end" class="tk">7.0</text>
<text x="550.5" y="112.8" text-anchor="end" class="tk">7.2</text>
<text x="550.5" y="91.6" text-anchor="end" class="tk">7.4</text>
<text x="550.5" y="70.3" text-anchor="end" class="tk">7.6</text>
<text x="550.5" y="49" text-anchor="end" class="tk">7.8</text>
<text x="550.5" y="27.8" text-anchor="end" class="tk">8.0</text>
<text x="550.5" y="6.5" text-anchor="end" class="tk">8.2</text>
<text x="573.7" y="143.1" text-anchor="middle" class="tk">3</text>
<text x="610.1" y="143.1" text-anchor="middle" class="tk">4</text>
<text x="646.4" y="143.1" text-anchor="middle" class="tk">5</text>
<text x="682.8" y="143.1" text-anchor="middle" class="tk">6</text>
<path d="M552 131.2H555.5M552 109.9H555.5M552 88.7H555.5M552 67.4H555.5M552 46.1H555.5M552 24.9H555.5M552 3.6H555.5M573.7 131.2V135M610.1 131.2V135M646.4 131.2V135M682.8 131.2V135M591.9 131.2V133.4M628.2 131.2V133.4M664.6 131.2V133.4" stroke="#1c1c1c" stroke-width="1.2" fill="none"/>
<text x="619.1" y="154.4" text-anchor="middle" class="tt">ln Body Mass (mg)</text>
<text transform="translate(535.4 67.4) rotate(-90)" text-anchor="middle" class="tt">ln Submarginal Cell 1 Length (μm)</text>
<text x="559.9" y="12.2" class="st">Q R<tspan dy="-2.2" font-size="4.9">2</tspan><tspan dy="2.2"> = 0.08</tspan></text>
<text x="559.9" y="17.4" class="st">Q p = 0.0001</text>
<text x="559.9" y="27.8" class="st">W R<tspan dy="-2.2" font-size="4.9">2</tspan><tspan dy="2.2"> = 0.16</tspan></text>
<text x="559.9" y="33" class="st">W p = 0.0001</text>
<path d="M88.6 253h0M72.7 278.2h0M72.9 264h0M81.8 248.5h0M69.1 271.6h0M75.8 274.5h0M86.5 260.4h0M71.3 267.2h0M74.7 256.6h0M75.5 269.2h0M80 273.2h0M75.6 264h0M97 251h0M94.9 253.1h0M94.1 256.5h0M95.9 242h0M74.1 256.8h0M78.2 265.7h0M89.9 244.6h0M91.4 263.7h0M93.2 247.9h0M80.2 258.1h0M67.8 279.1h0M69.7 268.8h0M84.2 260.8h0M93.7 245.2h0M70.2 272.6h0M89.7 246.9h0M68.1 266h0M83.2 263.1h0M68 273.3h0M94.9 255h0M76.3 256.7h0M93.2 251.5h0M85.3 247.2h0M93.5 260.8h0M81 264.2h0M77.6 255.9h0M80.6 248.4h0M73.3 256.3h0M88.2 256h0M84.8 263.1h0M94 254.5h0M80 269.1h0M90.7 241.2h0M92.2 255.4h0M73.8 264.4h0M81.9 252.3h0M79.6 268h0M93.2 244.8h0M73.9 271.1h0M85.9 253.1h0M71 270.2h0M85.9 252.1h0M80.8 257.3h0M94.4 252.1h0M74.7 272.9h0M68 267.7h0M88.7 251.4h0M98.7 247.4h0M69 261.3h0M64.2 273.5h0M89.5 255.9h0M88 260.2h0M83.5 269.6h0M94 251.9h0M90.8 264.7h0M71.7 265.7h0M88.5 257.5h0M83.4 247.9h0M92.6 253.3h0M70.7 269.1h0M70.2 269.4h0M84.9 262.3h0M78.6 269.5h0M70.1 270.5h0M83.1 259.6h0M81.9 255.8h0M83.8 254.5h0M97.7 247.1h0M70 275.2h0M78.9 266.7h0M79.5 251.8h0M76.1 258.4h0M74.6 263.5h0M83.1 265.1h0M85.1 246.9h0M67.9 276.1h0M80.1 247.3h0M79.6 260.8h0M84.9 267.9h0M68.4 264.1h0M79.2 273.7h0M74.9 271.9h0M88.5 256.1h0M89.2 248.3h0M89.8 255.4h0M79.1 266.2h0M89 263.6h0M91.2 265.5h0M92.4 253.1h0M73.7 276.8h0M82.9 254.7h0M88.5 255.7h0M80 267.3h0M92.1 259.7h0M87.6 259.7h0M72.8 274.8h0M78.5 257.8h0M86 245.8h0M82.6 250h0M79.9 252.3h0M78.9 268.4h0M74.9 257.1h0M72.9 273.9h0M93.7 260.7h0M87.8 254.3h0M81.7 256.4h0M67.7 272.4h0M74.1 254.7h0M70.9 270.1h0M80.6 272.9h0M82.4 269.1h0M75.9 251.1h0M73.3 259.6h0M91.3 262.6h0M78.1 263.1h0M82.1 267.6h0M72.7 258.8h0M83.5 265.9h0M82.4 266.1h0M90.8 257.1h0M69.6 276.9h0M74.9 257.8h0M96 255.7h0M73.1 255h0M77.4 263h0M67.1 271.8h0M72 261.7h0M95.1 249.3h0M72.6 261.7h0M78.5 275h0M88.3 243.2h0M78.7 263.1h0M81.5 248.3h0M77.3 267.9h0M71.5 277.2h0M84.7 270.2h0M88.1 251.8h0M77.7 254.1h0M77.4 266.5h0M93.4 255.3h0M95.8 252h0M81.8 263.4h0M88.9 268.2h0M94.4 256.6h0M84.4 249.4h0M74.7 268h0M91.5 246.8h0M76.5 272.8h0M92.3 245.9h0M74 277.5h0M83 272.1h0M77.4 268.5h0M75.8 265.1h0M88.4 259.4h0M89.3 251.9h0M85.2 247.4h0M84 251.5h0M85.5 268.7h0M71.1 268.2h0M83.5 248.7h0M79.7 265.8h0M77.7 264.8h0M87.2 257.1h0M93.5 260.4h0M92 258.6h0M77.6 262.6h0M79.9 272.9h0M96.5 249.7h0M81.2 254.8h0M98.8 242.9h0M70.8 269.6h0M73.8 259.6h0M88.8 248.1h0M87.3 258.2h0M86 248.4h0M96 254h0M97.8 255.6h0M91 250.7h0M76.6 251.7h0M82.9 259.3h0M89.9 251.1h0M84.1 247h0M69.4 266h0M87.6 263.5h0M66.1 275.9h0M83.6 249.1h0M92.6 257.4h0M90 246.3h0M76.2 256.7h0M88.6 254.9h0M98.7 248.4h0M81.9 259.5h0M84.3 263h0M76 269.9h0M82.6 256.8h0M92.1 254.7h0M73.7 278.3h0M85.9 261.8h0M95.9 243h0M91.1 244.6h0M72 268.7h0M79.9 270.4h0M93.8 244.3h0M74.7 261.7h0M90 258.4h0M94.7 244.2h0M82 271.1h0M73.4 261.6h0M83.9 252.1h0M83.3 246.9h0M84.6 261.6h0M80.7 250.9h0M97.9 247.1h0M74.9 258.8h0M80.5 245.8h0M76.1 264.7h0M91.3 253.1h0M77.8 253.8h0M82.6 264.8h0M77.3 262.8h0M72.4 258.3h0M81.1 248.7h0M71.8 261.8h0M90.4 261.4h0M98.5 250.6h0M80.5 267.2h0M84.8 261h0M99.1 233.6h0M66.3 272.2h0M73 267h0M80.9 262.4h0M82 270.7h0M81.8 263h0M72.7 266.5h0M85 251.9h0M84.8 256.1h0M75.7 260.3h0M78.4 250.4h0M73.8 257.5h0M81 262.6h0M72.8 276.4h0M81.8 250.3h0M87.4 251.8h0M88.9 255h0M73.1 291.5h0M87.5 250.3h0M96.5 249.5h0M83.9 258.7h0M67.1 278.2h0M71.2 265.6h0M72.8 253.4h0M65.9 271.4h0M81.3 258.2h0M89.3 250.7h0M84.3 259.3h0M82.5 256.2h0M90.4 264.3h0M82 261.1h0M77.4 261.4h0M74.4 256.9h0M75.4 270.3h0M80.5 252.7h0M86.5 262.2h0M82.7 263h0M77.7 263.5h0M73.2 279.7h0M79.4 259.6h0M89.5 262.7h0M85.4 254.6h0M85.1 253.1h0M97.5 241.5h0M83.2 263.9h0M89 257.7h0M88.1 251.6h0M96.8 253.8h0M94.3 251.8h0M71 271.6h0M91.4 257.8h0M83.5 264h0M83.2 275.5h0M79.8 258.5h0M77.5 266.8h0M70.1 264h0M77.3 255.7h0M84.7 247.4h0M71.2 271.9h0M79.8 276.8h0M92.6 246.5h0M78.5 259.5h0M86 258.5h0M77.5 268h0M98.6 243.2h0M80.5 258.9h0M83.1 251.6h0M85.8 250.2h0M85.4 261.4h0M91 250.5h0M82.5 265h0M84.3 266.9h0M81 265.4h0M67.4 261.7h0M75.9 256.9h0M46.9 278.1h0M42.2 270.1h0M55 245.6h0M56.1 260.6h0M47.7 272.2h0M47.9 265.9h0M57.2 259.8h0M59.7 257.4h0M38.6 258.9h0M64.9 258.5h0M45.4 269.2h0M63.6 243.7h0M49.3 262.2h0M60.7 265.1h0M49.6 248.2h0M51.9 252.5h0M38.8 265.9h0M48.2 249.2h0M66.1 257.7h0M40.1 269h0M53.8 256.5h0M35.8 261.9h0M63.3 254.4h0M63.4 268.7h0M66.4 249.2h0M63.8 261.2h0M60.6 261h0M67.5 259.9h0M52.9 272.3h0M53.7 267.6h0M40.8 260.1h0M35 269.1h0M53 246.6h0M57.3 260.7h0M59.9 274.5h0M46.9 261.3h0M67.5 238.4h0M61 274.4h0M44 258.9h0M65.5 256.8h0M63.2 249.8h0M48.2 259.3h0M54.7 259.9h0M55.2 264.7h0M56.6 255.9h0M47.7 268h0M44.1 276.4h0M53.4 261.4h0M64.7 259.2h0M47.8 262.8h0M34.6 270.7h0M58.5 256.4h0M59.9 266.1h0M60 269.5h0M54.1 261.5h0M36.4 261.5h0M62.6 253.2h0M43.3 262.8h0M57.3 261.3h0M46.4 267.2h0M57.9 259.5h0M55.9 264h0M61.4 250.6h0M44.5 263h0M38.5 264.4h0M54.1 255.3h0M57.6 257.2h0M40.3 268.3h0M47.5 256.2h0M62.9 256.4h0M38.6 264.1h0M61.4 267.1h0M54.8 269.5h0M57 253.2h0M36.5 271.9h0M44.5 266.8h0M39.4 260.6h0M62.2 258.4h0M64.8 248.9h0M38.6 263h0M63.4 250.9h0M45 267.3h0M51.2 259.7h0M30.9 263.8h0M62.4 260.2h0M58.6 265.7h0M52.8 252.7h0M64.7 243h0M49.8 256.7h0M41 265.3h0M82.7 211h0M88.4 212.9h0M93.7 211.4h0M81.8 217.6h0M79 225.6h0M86.1 229.9h0M55.3 291.4h0M56.3 284.2h0M70.4 286.3h0M79.9 284.8h0M92.2 234.6h0M97.9 237.5h0" stroke="#fc7e7e" stroke-width="3" stroke-linecap="square" fill="none"/>
<path d="M142.7 203.5h0M134.4 198.3h0M130.5 207.2h0M121.1 210.1h0M138.1 198.2h0M130.6 216.1h0M143.9 203.1h0M127.6 211.6h0M120.1 213.4h0M132.2 205.1h0M130.3 208.6h0M127.4 202.6h0M124.2 212.7h0M129.2 200.5h0M133.2 197.9h0M126.9 214.5h0M139.5 208.3h0M136.3 208.2h0M133 206.7h0M128 207h0M127.3 201.3h0M127 200.8h0M128.1 201.9h0M136.1 209.4h0M132.7 213.3h0M136.5 204.2h0M134.8 196.5h0M129.4 211.1h0M140.8 205.4h0M132.8 201.5h0M141.1 204.9h0M136.6 199.8h0M128.9 208.5h0M130.8 204.4h0M135.8 209.4h0M140.1 201.6h0M130.6 203.8h0M124.7 205.6h0M125.6 215.6h0M136.1 196.9h0M139.2 209.9h0M125.9 204h0M135.1 198.6h0M134.9 198.4h0M142.2 202.9h0M142.4 202.6h0M135 203.9h0M140.9 199.4h0M126.5 209.7h0M132.1 203.6h0M134.1 203.9h0M135.8 211.4h0M130.5 206.8h0M132.5 208h0M138.3 197h0M128.9 212.8h0M137.4 206h0M133.7 205.6h0M135.5 206.5h0M124.8 213.8h0M123.4 209.2h0M128.2 205h0M122.2 208.3h0M130.2 198.1h0M129.2 205.8h0M136.8 198.1h0M122.6 208.5h0M143.7 198h0M125.5 207.9h0M143.5 196.3h0M136 206.8h0M134 197.1h0M136.2 201.4h0M124.5 210.7h0M140.1 206.7h0M127.4 207.1h0M138.1 199h0M130 205.8h0M142.4 206.1h0M124 208h0M129.4 210.8h0M124.8 211.3h0M136.3 203.7h0M137.5 206.4h0M134.9 199.6h0M126.3 209.1h0M126.3 214.1h0M126 201h0M132.9 210h0M133 204.9h0M133.3 197h0M126.9 203.9h0M134 202.3h0M121.5 206.1h0M141 202.5h0M136.2 199.1h0M142.2 195.9h0M126.1 215.5h0M127 210h0M128.9 205h0M141.4 196.7h0M139.8 197.9h0M136 203h0M127.7 210.1h0M126.5 207.9h0M129.4 200h0M126.5 202.9h0M133 205.8h0M137.7 203.5h0M126.9 202.3h0M142 198.5h0M124.4 208.1h0M132.8 196.9h0M127.8 213.7h0M127.1 208.9h0M135.5 197.8h0M130.3 200h0M128.4 206.5h0M124.3 209.4h0M126.1 207.2h0M128.5 207.5h0M134.7 202.7h0M137.4 211.7h0M133.4 206.8h0M140.9 199.2h0M138.9 194.7h0M134.8 212.3h0M133.4 202h0M137.1 198.4h0M127.3 212.3h0M133 206.1h0M137.3 206.2h0M132.6 197h0M129.2 213.9h0M123.5 209.8h0M140.2 204.6h0M121.4 210.6h0M124.9 206.7h0M136.2 200.4h0M127 204.2h0M135.1 211.6h0M130.1 203.4h0M137 193.8h0M126.5 199.9h0M131.4 210h0M123.1 207.5h0M141.7 206.2h0M124.1 215.2h0M127.7 204.3h0M139.9 197.2h0M121.8 211.4h0M132.5 203.5h0M126.3 206.9h0M139.2 202.5h0M137.7 194.5h0M134.3 213.2h0M139.3 204.8h0M125.8 210.9h0M130.1 201.8h0M136.1 198.8h0M138.2 205.8h0M130.8 206.8h0M143.6 194.2h0M134.6 202.8h0M134.7 197.3h0M121.3 217.4h0M130.5 197.1h0M138.5 210.6h0M131.5 213.5h0M130.5 203.3h0M134.8 208.7h0M136.4 202.1h0M126.8 198.5h0M137 196.5h0M132.3 204.1h0M114.9 236.5h0M112.1 212.3h0M119.2 218h0M125.1 220.8h0M135.3 218.6h0M131.9 192.6h0M143.6 194.3h0" stroke="#0000c0" stroke-width="3.2" stroke-linecap="round" fill="none"/>
<line x1="30.6" y1="270.5" x2="98.4" y2="249.4" stroke="#000" stroke-width="1.5"/>
<line x1="112.5" y1="216.5" x2="145.2" y2="200.1" stroke="#000" stroke-width="1.5"/>
<path d="M26 176.3H153.4V303.8H26Z" fill="none" stroke="#1c1c1c" stroke-width="1.25"/>
<text x="21" y="306.7" text-anchor="end" class="tk">7.9</text>
<text x="21" y="285.5" text-anchor="end" class="tk">8.0</text>
<text x="21" y="264.2" text-anchor="end" class="tk">8.1</text>
<text x="21" y="243" text-anchor="end" class="tk">8.2</text>
<text x="21" y="221.7" text-anchor="end" class="tk">8.3</text>
<text x="21" y="200.5" text-anchor="end" class="tk">8.4</text>
<text x="21" y="179.2" text-anchor="end" class="tk">8.5</text>
<text x="44.2" y="315.7" text-anchor="middle" class="tk">3</text>
<text x="80.6" y="315.7" text-anchor="middle" class="tk">4</text>
<text x="117" y="315.7" text-anchor="middle" class="tk">5</text>
<text x="153.4" y="315.7" text-anchor="middle" class="tk">6</text>
<path d="M22.5 303.8H26M22.5 282.6H26M22.5 261.3H26M22.5 240H26M22.5 218.8H26M22.5 197.5H26M22.5 176.3H26M44.2 303.8V307.6M80.6 303.8V307.6M117 303.8V307.6M153.4 303.8V307.6M62.4 303.8V306M98.8 303.8V306M135.2 303.8V306" stroke="#1c1c1c" stroke-width="1.2" fill="none"/>
<text x="89.7" y="327" text-anchor="middle" class="tt">ln Body Mass (mg)</text>
<text transform="translate(7.2 240.1) rotate(-90)" text-anchor="middle" class="tt">ln Head Width (μm)</text>
<text x="30.1" y="187.4" class="st">Q R<tspan dy="-2.2" font-size="4.9">2</tspan><tspan dy="2.2"> = 0.25</tspan></text>
<text x="30.1" y="192.6" class="st">Q p = 0.0001</text>
<text x="30.1" y="203.6" class="st">W R<tspan dy="-2.2" font-size="4.9">2</tspan><tspan dy="2.2"> = 0.14</tspan></text>
<text x="30.1" y="208.8" class="st">W p = 0.0001</text>
<path d="M255.1 270.8h0M247.3 265.8h0M268.8 256h0M256.6 271.2h0M245.6 274.3h0M261.6 250h0M251.2 275h0M251 276h0M268.4 266.1h0M269 252.9h0M267.8 247h0M270.3 244.6h0M257 267.2h0M262.5 249.6h0M271.2 261.1h0M259.6 259.5h0M251.4 275.5h0M274.3 249.8h0M270.5 254h0M255.2 279.5h0M253.9 263.7h0M250.5 259.2h0M252.4 278.2h0M270.4 258.4h0M255.2 271.6h0M252.2 264h0M259.7 263.9h0M256.5 266.9h0M258.6 266.5h0M273.8 260.1h0M261.7 268.3h0M262.9 247.7h0M253.9 254.3h0M269.5 259.7h0M263.8 262.2h0M249 274.6h0M252.4 271.3h0M258.7 254.8h0M259.6 268.1h0M254.6 261.3h0M263.1 253.4h0M260.5 263.7h0M268.4 245.4h0M252.2 276.2h0M249.9 270.3h0M251.2 264.2h0M261.5 253.5h0M258.5 254h0M271.4 261.6h0M252.9 276.6h0M246.2 267.6h0M260.9 254.1h0M252 258.6h0M269.1 257.9h0M264.8 272.5h0M258.6 250h0M264.8 246.1h0M248.6 267.4h0M257.6 261.6h0M254.9 271.5h0M248.8 280.9h0M267.9 262.7h0M273.2 259.5h0M255.1 270.7h0M258 257.5h0M248.7 275.9h0M268 247.7h0M261.5 254.3h0M262.2 267.3h0M273.2 260.6h0M253.7 269.4h0M265.2 250.9h0M261.3 268.1h0M248.7 263.1h0M270.1 256.4h0M268.9 250.3h0M262.4 266.8h0M249.2 279.4h0M260.3 260.8h0M262.9 245h0M263.7 248.9h0M263.6 256.6h0M250.3 262.1h0M269.8 261.7h0M248.9 268.6h0M256.3 260.4h0M254.2 257.5h0M254.9 253h0M250 267.6h0M264.6 247.8h0M268.2 264h0M270.3 259.3h0M263.1 247.2h0M258.9 265.9h0M267 254.5h0M275.3 247.5h0M248.4 265.3h0M259.9 269.9h0M242.2 280.8h0M263.6 265.4h0M265.4 267.1h0M253.5 264.7h0M262.7 266.8h0M271.8 258.3h0M265.5 254.2h0M272 241.7h0M259.7 248.8h0M254.9 266h0M269.5 263.9h0M263.4 257.8h0M248.8 279h0M254.1 265.8h0M269.5 245h0M258.8 275.1h0M265.7 267.5h0M266.3 250.9h0M267.4 248.5h0M253.9 273.6h0M256.3 270.9h0M256.7 258.6h0M263.8 246.1h0M263.2 265.2h0M254.4 277.1h0M250.5 272h0M262.7 268.1h0M251.8 261.8h0M267.9 254.7h0M263.6 271.7h0M272.1 262.2h0M268.7 262.3h0M266.9 266.4h0M252.9 274.7h0M271.7 256.7h0M272.9 251h0M266.7 246.1h0M256.8 268.2h0M271.3 266.6h0M249.6 277.4h0M255 257.7h0M274.9 258.8h0M250.8 272.3h0M257.8 254.4h0M261.7 256.5h0M261.4 259.1h0M258.8 267.9h0M266.2 267.2h0M267.6 246.2h0M266.9 259h0M255 252h0M254 265.9h0M274.2 251h0M271.5 250.7h0M247.5 276.7h0M244.5 267.6h0M254.2 263.1h0M274.2 251.9h0M253.8 274h0M246.5 272.5h0M269.1 256.6h0M252.3 254h0M251.9 264.9h0M261.9 260.7h0M262.3 246.8h0M258.5 248.9h0M261.4 257.6h0M264.1 269.3h0M259.2 258.7h0M252.2 263.1h0M246 279.7h0M258 263.4h0M263.7 254.6h0M252.6 266.3h0M259.8 263.9h0M263.3 252.6h0M256.8 269.3h0M256.6 269.1h0M260.5 259.1h0M264.8 247.8h0M267.2 267.2h0M272.2 251.3h0M254.7 268.4h0M256.7 276.9h0M253 267.4h0M259 265.9h0M266.8 271.2h0M263.8 250.1h0M267.4 267.8h0M270.7 263.9h0M254.9 252h0M270.3 251.8h0M258.9 262.7h0M258.5 271.8h0M246.8 277.4h0M262.8 261.2h0M254.4 257.3h0M250.1 258.7h0M269.4 247.7h0M256.6 249.5h0M263.6 261.5h0M248 274.1h0M249.5 277h0M264.4 253.3h0M262.8 258.2h0M257.4 247.1h0M262 260.8h0M259.2 260.6h0M253.2 252h0M252.5 253.5h0M257.5 256.2h0M263.4 264.7h0M256.6 255.7h0M272.6 257.7h0M251.2 273.9h0M275 247.8h0M260.2 266.2h0M250.8 273.2h0M256.2 271.5h0M247 271.5h0M258.4 270.9h0M269.7 251.1h0M261.1 273h0M257.1 269.3h0M260.5 251.9h0M250 265h0M261.6 251.9h0M269.4 263h0M261 270.7h0M249.2 274.7h0M266.7 253.2h0M254.3 254.8h0M259.1 247.9h0M267.2 247.7h0M275.5 253.3h0M244.6 277.6h0M255.1 264.5h0M255.3 276.5h0M268.1 248.8h0M265.7 248.6h0M250.6 250.2h0M254.9 270.7h0M263.2 260.1h0M242.6 260.8h0M267.4 243.4h0M263.3 246h0M271.5 252.3h0M257.6 258.7h0M256.3 262.7h0M275.5 255.9h0M269.1 265h0M258 251h0M253.7 246.6h0M258.8 273.2h0M251.9 265.7h0M266.7 248.8h0M247.2 260.8h0M266.6 261.7h0M262.8 264.5h0M256.3 263.3h0M253.6 275.7h0M256.3 265h0M259.5 262.4h0M240.5 266.9h0M260.9 254.2h0M258.6 278.1h0M247.1 282.7h0M253 279.7h0M255.2 269.3h0M250.7 276.2h0M250.3 270.1h0M256 261.4h0M265.3 258.9h0M274 243.8h0M254.6 246.5h0M261.8 257.3h0M261.7 246.5h0M245.6 267.1h0M265.2 246.9h0M257.2 268.8h0M234.2 278h0M252.8 255.6h0M260.5 285.3h0M261.7 256.6h0M240.8 287.6h0M252.9 276.7h0M257.8 275.6h0M251.2 271.8h0M255.7 262.3h0M262.8 249.9h0M262.1 262.8h0M260.4 272.4h0M264.1 249.1h0M261.6 261.8h0M264 272.2h0M232.5 279.7h0M264.9 239.3h0M244.9 275.8h0M255 273.6h0M258.7 268.3h0M276 253.7h0M260.9 269.6h0M254.3 278.5h0M262.7 234.9h0M249.3 269.8h0M257.2 263.5h0M250.2 269.3h0M248.6 288.1h0M262.8 253.2h0M251.5 263.1h0M251.2 265h0M257.1 262.6h0M271.1 238.4h0M250 273.3h0M264.4 249h0M267.9 258.4h0M266.1 268.1h0M247.2 259.2h0M254.4 259.4h0M249.4 271.2h0M248.6 274.3h0M259.7 270.2h0M267.7 253h0M271.7 266.6h0M256.6 271.6h0M261.9 270.4h0M261.1 273h0M271.9 242.2h0M259.6 254.1h0M272.3 238.3h0M262.8 254h0M242.4 279.9h0M270 244.1h0M270.8 272.2h0M258.8 274.7h0M259.6 255.5h0M271.5 250.3h0M250.9 266.3h0M246 265.3h0M257.3 254.8h0M264.4 273h0M247.3 281.1h0M255.9 272.2h0M257.9 269.9h0M242.3 275.1h0M243.3 265.4h0M239.2 281.9h0M230 263.6h0M236.7 249.2h0M216 272.8h0M231.7 249h0M216.7 266.6h0M230.6 263.8h0M213.2 260.4h0M242.9 270.5h0M210.8 276.2h0M224.5 265.2h0M230.9 253.3h0M230.7 260.8h0M209.8 265h0M232.5 246.5h0M212.5 272.6h0M208.9 274h0M240.4 262.5h0M232.2 245.9h0M225.3 258.3h0M230 276.6h0M239.7 257h0M221 265.1h0M231.4 277.4h0M233.7 267.1h0M224.7 260.1h0M233.2 258.1h0M222.8 271h0M236.9 261.4h0M232.2 252.2h0M231.9 277.7h0M235.2 267.4h0M240.3 249.2h0M228.3 255.4h0M238.1 270.7h0M243.2 241.1h0M237.6 270.1h0M237.1 271.1h0M219.3 272.3h0M206.9 281.7h0M238.3 266.7h0M240.7 265.6h0M232.3 264.7h0M236.9 252.3h0M224.4 261.7h0M241.2 256.6h0M220.8 265.6h0M234.1 258.6h0M234.9 260.1h0M222.9 266.3h0M238.2 265.3h0M239.1 257.6h0M233.6 279.9h0M227.2 262.8h0M241.3 263.9h0M238.8 248.2h0M235 254.2h0M218.7 266.5h0M233.5 251.8h0M227.5 268.9h0M224.4 269h0M208.8 276.4h0M223.4 258.4h0M238.2 267.1h0M241.3 264.5h0M237.1 248.5h0M225.7 269.6h0M241.1 272.6h0M240.8 252.3h0M224.7 267.2h0M224.9 267.8h0M230.1 263.8h0M228.3 258.5h0M235.5 262h0M215.3 277.2h0M229.6 264.4h0M222.3 255.2h0M231.3 254.8h0M232 269.3h0M214.4 269.7h0M243.2 260.3h0M232.7 248.8h0M228.9 274.9h0M227.3 279h0M240.5 247.9h0M219.7 273.5h0M225.8 261.4h0M236.1 271.3h0M221.9 262.5h0M221.6 271.5h0M218 271.7h0M259.3 215.2h0M265.4 214.4h0M257.8 222h0M255.5 232.7h0M262.5 231.4h0M266.3 227h0M270.5 227h0M273.9 234.3h0M231.7 298.6h0M225.6 285.7h0M250.2 294.2h0M246.4 290h0" stroke="#fc7e7e" stroke-width="3" stroke-linecap="square" fill="none"/>
<path d="M319.3 205.3h0M306.2 204.3h0M308.9 203.2h0M316.5 202.9h0M301.2 222.1h0M313.5 216.8h0M301.8 213.9h0M315.4 217.2h0M309.3 218.7h0M319.9 210.6h0M320.8 202.6h0M303.7 207.6h0M317.6 211.4h0M308.9 202.5h0M311.7 201.3h0M312.4 212.8h0M311.7 208.3h0M311.2 209.4h0M305.2 214.9h0M310.9 212.7h0M316.7 199.1h0M318.4 204.5h0M299.3 219.3h0M308.8 205.7h0M305.1 207.5h0M312.3 212.9h0M317.1 200.7h0M318 204h0M311.9 200.1h0M318.8 206.5h0M315.7 202.3h0M307.7 203.5h0M304.8 206.4h0M304.1 205.1h0M317.1 213.3h0M304.5 215.5h0M315.4 201.7h0M314.7 201.3h0M305 215.1h0M308.1 222.6h0M316.3 204.9h0M307 204.4h0M304 206.6h0M315.7 213.1h0M315.2 210.5h0M317.6 214.2h0M310.1 209h0M315 208.2h0M319.3 197.2h0M315.9 217.4h0M300.6 217.4h0M319.6 204.6h0M311.3 198.1h0M300.4 221.8h0M318.4 204.1h0M310.9 203.9h0M300.5 215.7h0M312.4 203.9h0M305.1 205.2h0M319.5 207.6h0M301.7 218.7h0M317.1 202.8h0M317.8 212.9h0M313.8 214.1h0M310.3 202.7h0M305.2 221.7h0M309.3 208.7h0M315.8 204.1h0M315.3 208.2h0M315.2 215.8h0M314.7 216h0M312.3 220h0M315.9 197.5h0M308.5 218.6h0M316.2 204.6h0M308.8 204.7h0M308.5 220.3h0M304.2 211.7h0M312.6 213.5h0M312 210.6h0M300.2 223.1h0M298.5 223.2h0M301.9 217.7h0M312.4 209.9h0M304.7 209h0M307.5 203.5h0M307.7 213.2h0M310.9 211.7h0M311.3 213.6h0M311 205.9h0M300.4 213.9h0M308.9 218.3h0M304.4 215.7h0M319.3 205.8h0M317.2 196.9h0M317.7 210.6h0M309.5 218.1h0M305.4 214.5h0M308 214.6h0M306.8 216.5h0M303.4 214.2h0M318.8 210.6h0M311.2 222.6h0M314.2 215.3h0M307.4 208.7h0M318.2 205.3h0M302.9 215.8h0M314.1 213.9h0M318.7 202h0M312.6 198.6h0M315.7 213.6h0M313.6 202.5h0M301.2 216.3h0M300 218h0M316.9 196.3h0M304.9 212.5h0M304.7 205.8h0M317.8 202.4h0M307.3 215.7h0M300.9 214.6h0M305.5 206.6h0M306.7 211.4h0M306 219.2h0M301.3 211.6h0M301.5 216h0M318.5 206.1h0M317.6 200.6h0M314.4 212.4h0M316 213.3h0M314.2 201.6h0M309.9 209.4h0M299.9 220.8h0M305 207.7h0M313.9 212.5h0M314.6 200.6h0M301.5 218.9h0M314.9 215.4h0M317.8 199.3h0M306.8 203.8h0M314.8 197.9h0M319.9 205h0M310.8 210.4h0M308 200.7h0M312.4 199.6h0M314.2 213.3h0M306.2 209.6h0M311.8 214.4h0M306.1 219.7h0M302.5 220h0M304.9 203.6h0M300.6 210.4h0M310.1 204.8h0M304.9 215.1h0M320.5 203.5h0M306.2 222.2h0M313.5 210.1h0M309.2 213h0M310.4 207.5h0M312.9 208.9h0M302.9 224.1h0M312.8 210.7h0M301.7 210.5h0M304.5 220.7h0M314.2 214.5h0M310 204.9h0M309.8 209.7h0M315.7 206.7h0M306 214.3h0M302.7 214.6h0M300.7 216.3h0M306.7 201.4h0M310.5 212.2h0M315.5 208.1h0M311.1 217.9h0M321.3 204.7h0M314.8 203.7h0M306.3 207.6h0M307.1 222.3h0M309 211.8h0M314 200.7h0M308.8 217.5h0M305 219.4h0M299.3 220.9h0M304.9 217.9h0M312.8 198.6h0M300.8 213.5h0M314.4 197.1h0M300.7 213.5h0M320.4 194.9h0M321 214.9h0M317.3 203.1h0M312 211.8h0M309.4 217.1h0M319.1 201.1h0M312.8 201.7h0M314.6 210.3h0M316.8 210.1h0M308.8 217.2h0M318.8 201.5h0M304.1 235.2h0M308.4 212.9h0M309.8 223.3h0M317.5 189.8h0M310.9 216h0M307.8 219.8h0M302.9 224.4h0M309.9 209.1h0M307.9 214h0M294.9 216.1h0M298 218h0M306.6 212.4h0M307.9 206.2h0M303.2 284.4h0M291.3 243.7h0M304.1 239.7h0M296 225.7h0M301.3 226.7h0M311.7 229.5h0M308.9 194.9h0M291.9 218h0M320.2 200h0M320.2 215.7h0" stroke="#0000c0" stroke-width="3.2" stroke-linecap="round" fill="none"/>
<line x1="206.9" y1="275.5" x2="275" y2="253.1" stroke="#000" stroke-width="1.5"/>
<line x1="288.8" y1="221.7" x2="320.1" y2="207.2" stroke="#000" stroke-width="1.5"/>
<path d="M202.5 176.6H330.2V304.3H202.5Z" fill="none" stroke="#1c1c1c" stroke-width="1.25"/>
<text x="197.5" y="307.2" text-anchor="end" class="tk">7.8</text>
<text x="197.5" y="285.9" text-anchor="end" class="tk">7.9</text>
<text x="197.5" y="264.6" text-anchor="end" class="tk">8.0</text>
<text x="197.5" y="243.4" text-anchor="end" class="tk">8.1</text>
<text x="197.5" y="222.1" text-anchor="end" class="tk">8.2</text>
<text x="197.5" y="200.8" text-anchor="end" class="tk">8.3</text>
<text x="197.5" y="179.5" text-anchor="end" class="tk">8.4</text>
<text x="220.7" y="316.2" text-anchor="middle" class="tk">3</text>
<text x="257.2" y="316.2" text-anchor="middle" class="tk">4</text>
<text x="293.7" y="316.2" text-anchor="middle" class="tk">5</text>
<text x="330.2" y="316.2" text-anchor="middle" class="tk">6</text>
<path d="M199 304.3H202.5M199 283H202.5M199 261.7H202.5M199 240.5H202.5M199 219.2H202.5M199 197.9H202.5M199 176.6H202.5M220.7 304.3V308.1M257.2 304.3V308.1M293.7 304.3V308.1M330.2 304.3V308.1M239 304.3V306.5M275.5 304.3V306.5M312 304.3V306.5" stroke="#1c1c1c" stroke-width="1.2" fill="none"/>
<text x="266.4" y="327.5" text-anchor="middle" class="tt">ln Body Mass (mg)</text>
<text transform="translate(183.6 240.4) rotate(-90)" text-anchor="middle" class="tt">ln Interorbital Distance Maximum (μm)</text>
<text x="206.1" y="186.5" class="st">Q R<tspan dy="-2.2" font-size="4.9">2</tspan><tspan dy="2.2"> = 0.08</tspan></text>
<text x="206.1" y="191.7" class="st">Q p = 0.0001</text>
<text x="206.1" y="204.1" class="st">W R<tspan dy="-2.2" font-size="4.9">2</tspan><tspan dy="2.2"> = 0.14</tspan></text>
<text x="206.1" y="209.3" class="st">W p = 0.0001</text>
<path d="M437.3 239.2h0M449.9 241h0M447.6 241.9h0M434.4 253.5h0M425.3 247.2h0M447.1 226.4h0M427.3 261.2h0M434.1 240.4h0M445.9 232.7h0M434.3 244.9h0M421.2 257.2h0M424.5 255.7h0M426.1 242.1h0M446.1 228.7h0M424.3 250.6h0M449.6 224.6h0M445.2 248.2h0M427.5 253.5h0M447.1 248h0M428.6 255.5h0M447.2 226.4h0M422.2 261.5h0M421.8 263.2h0M443.9 248.1h0M451 236.2h0M428.6 265h0M450.2 229.1h0M439.3 252.4h0M434.9 238.8h0M431.1 259.7h0M430.1 247.2h0M439.8 234.2h0M440.8 250.6h0M420.4 253.8h0M451.4 229.2h0M418.2 261.2h0M423.1 254.6h0M447.5 222.5h0M434.8 260.2h0M429 243.9h0M445.6 232.3h0M433.1 244.6h0M437.2 258.6h0M428.8 259.1h0M437.6 234h0M427.6 267.3h0M446.7 234.1h0M422.9 254h0M451.7 237h0M443.9 231h0M433 245.1h0M425.9 246.5h0M449 241h0M433.4 242.4h0M430.2 249.6h0M427.5 242.6h0M449.1 235.4h0M440.8 225.1h0M438.5 241.8h0M441.6 245.1h0M431.4 249.5h0M423.4 260.2h0M447.3 228h0M425.4 244h0M447.2 246.2h0M436.2 260.4h0M443 227.4h0M421.6 256.3h0M440.3 252.1h0M426.4 243.4h0M430.5 243.8h0M442.2 235.9h0M449.3 227.8h0M436.7 231.6h0M419.5 262.4h0M424 250.8h0M426.1 262.6h0M439.5 233.1h0M450.8 237h0M447.3 230.8h0M451.5 234.7h0M452.1 235.6h0M424.8 262.7h0M433.8 259.7h0M433.1 241h0M429.9 255.3h0M437.7 253.3h0M425.7 245.8h0M437 247.8h0M443.7 228.2h0M440.1 258.1h0M429 250.3h0M432.4 257.1h0M445.6 252.3h0M444.3 252h0M441.1 251.8h0M451.2 237.1h0M431.2 248.7h0M433.7 242.8h0M433.3 251.7h0M421.7 255.8h0M427 262h0M428.7 244.1h0M433.1 233.4h0M425.1 260.6h0M428.1 240.3h0M442.6 244.1h0M439.3 231.1h0M427.2 264.5h0M432 243.4h0M437.5 255.8h0M445.3 248.9h0M434.2 233.5h0M445.2 228.6h0M430.6 247.4h0M424.6 257.9h0M431.4 251.1h0M437.1 230.2h0M445 240.3h0M436.8 237.3h0M433.2 245.1h0M430.9 256.9h0M438.8 257.3h0M449.4 224.8h0M427.8 254.9h0M423.9 254.8h0M429.3 260.1h0M446.8 228.8h0M451.3 228.8h0M422 259.4h0M423.9 248.6h0M438.7 232.7h0M436.2 237.2h0M426.9 246.6h0M437.5 246.2h0M429 241.4h0M434.5 255.1h0M447.8 235.4h0M444.5 235h0M446.4 239.4h0M427.1 242.5h0M440 232.1h0M439.8 238.4h0M447.9 233.1h0M433.2 235.7h0M449.9 234.2h0M429.2 239.3h0M443.9 253.5h0M450.7 228.8h0M423.4 251.6h0M446.2 238.2h0M434.6 233.6h0M437.6 247.2h0M449.2 230.9h0M450.3 232.2h0M436.5 247.1h0M432.4 256.3h0M436.1 243.7h0M426 257.3h0M448.9 241.3h0M446 243.9h0M449.3 231.9h0M441.5 255.4h0M446.4 240.5h0M449.1 226.3h0M429.8 251.6h0M426.1 247h0M436.2 256.5h0M424.2 255.5h0M444.4 238.9h0M428.3 262.8h0M437.2 238.7h0M426.8 263.2h0M442.6 242.4h0M429.9 242.6h0M434.4 243.5h0M435.6 233.6h0M424.7 250.2h0M441.3 227.6h0M436.2 247h0M445.9 229h0M445 232.1h0M429 250.5h0M449.5 230h0M440.5 247.2h0M421.6 265.6h0M436.3 250.1h0M428.7 248.9h0M451.9 234.2h0M421.1 257.5h0M427.9 247.2h0M438.6 258.1h0M436.3 235.1h0M424.4 246.5h0M432.2 261.5h0M448.8 242.6h0M431.3 259.7h0M436.7 259.9h0M430.8 253h0M437.9 256.2h0M430.3 250.6h0M441 251.8h0M432.6 231.9h0M424.3 248.8h0M442.1 228.3h0M438.5 258.4h0M434.8 234.3h0M440.1 243.7h0M443.2 231.6h0M430.9 264.6h0M443.6 235.3h0M443.3 240.7h0M423.1 254.6h0M428.9 244.4h0M431.1 241.2h0M445.5 238.6h0M430.5 249.9h0M449.9 240.2h0M451 233.6h0M446.6 228.4h0M435 251h0M438.1 232h0M450.7 227.4h0M436 257.8h0M440.5 250.9h0M448.6 228.4h0M429.1 249.7h0M444.4 242.9h0M448.5 230.1h0M428.6 238.4h0M436.7 238.5h0M441.3 246.2h0M438.9 229.7h0M432.8 257h0M439 250.2h0M426.8 261.5h0M445.4 229.8h0M438.8 242.8h0M422.9 259h0M443.6 225.3h0M443.9 231.4h0M450 225.7h0M431.7 246.2h0M428.9 256.7h0M423.4 252.3h0M450.7 228.1h0M433.1 258.5h0M442.7 241.5h0M427.8 243.8h0M441.9 230.9h0M433.5 257.1h0M436.1 253.3h0M447.8 228.8h0M444.4 245.6h0M426.2 260.2h0M443.2 253.8h0M422.3 252.6h0M445.4 241.5h0M448 234.4h0M436.4 250.5h0M444.1 227h0M438.8 227.5h0M446.7 237.9h0M451 240.3h0M429 247h0M450.8 233.9h0M425.6 247.1h0M444.6 236.2h0M429.9 264.1h0M438.9 254.9h0M427.8 258.8h0M429.3 244.5h0M435.4 242.7h0M418.6 252.5h0M421.2 257.5h0M442 253.5h0M437.1 243.4h0M445.7 231.2h0M432.5 254.9h0M435.1 248.7h0M432.9 269.5h0M436.5 233.2h0M430.7 265.7h0M439.1 248.4h0M436.1 246.5h0M432.7 257h0M433.3 260.6h0M443.3 234.5h0M451.6 237.1h0M448.5 249.4h0M450.1 231.9h0M441.1 232.4h0M437.4 257.9h0M423.6 245.5h0M434.3 255.1h0M430.7 251.3h0M427.3 262.1h0M445.3 249.5h0M432.7 231.6h0M434.2 255.2h0M432.6 249.5h0M449.7 250.3h0M441.5 247.1h0M436.1 243h0M436 242.6h0M432.1 237.2h0M436.3 245.7h0M428.4 258.3h0M433 243h0M438.8 257.4h0M424.2 276.7h0M428.7 252.7h0M430.9 242h0M416.9 250.1h0M445.1 237.4h0M442.3 235.4h0M437.2 259.9h0M418.2 247.7h0M426.1 243.3h0M418.9 266.1h0M434 254.2h0M427.2 244.3h0M442.8 258.9h0M449.1 244.7h0M443.8 231.7h0M427.9 242.2h0M423.5 248.9h0M434.5 253.8h0M439.9 237.9h0M434.2 252.4h0M429.9 250.4h0M439 236.6h0M433.6 249.6h0M439.8 240.1h0M416.8 268.7h0M435.5 249.5h0M441.6 233.9h0M437.2 245h0M440.5 241.3h0M438.1 242.3h0M449 234h0M450.3 235.9h0M437.9 246.2h0M442.6 242h0M430.7 248h0M426 277.8h0M436.9 234.1h0M438.6 249.5h0M450.6 242.5h0M426.1 231.9h0M445.7 225.5h0M420.9 280.2h0M428 258.3h0M428 248.5h0M446.7 233.3h0M432.9 253h0M431.9 238.8h0M435.6 244.9h0M424.9 260.2h0M435.5 253h0M448.1 235.1h0M420.4 249.2h0M430.5 242.2h0M437.1 235.5h0M443.1 246h0M443 243h0M433.5 246.2h0M444.5 234.1h0M426.4 243h0M436.6 255h0M434 246.7h0M428.7 260.1h0M427.7 238.6h0M418 243.9h0M437.5 250.2h0M447.6 239.4h0M432.9 253.5h0M450.2 243.4h0M422.2 251.5h0M431.6 248.4h0M433.2 235h0M419.6 265.3h0M439.6 234.6h0M437.9 224.4h0M440.6 234.3h0M431.8 259.5h0M446.2 247.8h0M441.8 243.7h0M434.4 247.4h0M436.8 256.1h0M449.7 220h0M427.3 241.5h0M424.9 252.8h0M436.9 239.6h0M435.7 235.2h0M435.3 243.9h0M418 277h0M436.4 246.5h0M437.8 237.6h0M433.3 268.4h0M432.3 259.1h0M429.4 258.2h0M424 274.4h0M449.1 243.3h0M420.5 266.5h0M422.5 246.2h0M447.5 229.4h0M449.6 247.3h0M444.4 225.6h0M407.4 245.4h0M412.8 246h0M413.5 239.3h0M416.1 255.2h0M403.1 251.2h0M401.9 257.3h0M388.7 251.8h0M406 243.8h0M408.1 255.4h0M395.4 241h0M395.1 245.1h0M419.3 243.7h0M419.3 251.2h0M385 254.3h0M388.2 249.6h0M389.1 243.2h0M420.2 221.3h0M393.3 245.9h0M417.3 228h0M408.5 238.6h0M388.1 252.9h0M412 234.8h0M418 248.4h0M402.6 250.8h0M410.9 235h0M385.8 252.1h0M402.7 254.8h0M401.4 240.9h0M412.3 253h0M415.4 245.4h0M397.1 257.3h0M399.4 239.1h0M410.5 241.2h0M396.1 241.2h0M409.2 244.1h0M415.8 252.9h0M418.2 227.3h0M394.2 251.3h0M402.3 240.7h0M393.3 260.6h0M409.6 261.6h0M414.1 240h0M403.5 240.6h0M385.3 260.9h0M398.9 251.9h0M419.1 226.9h0M395.3 253.1h0M412.9 235.7h0M412.4 250.2h0M419.8 253.4h0M409 241.7h0M390.6 250.1h0M409.2 245.7h0M397.9 249.9h0M408 237.2h0M398 253.8h0M421.4 254.3h0M386.5 260.2h0M412 239.4h0M386.9 246h0M403.6 250h0M416.9 255h0M406.1 249.1h0M414.6 237.6h0M413.4 256.2h0M405 243.8h0M399.7 248.9h0M386.2 255.8h0M393.8 248.1h0M410.2 242.5h0M417.5 238.9h0M414.9 234.6h0M417.2 237.2h0M414.7 254.3h0M389.1 250.1h0M393.2 264.4h0M387.7 260.6h0M420.8 245.6h0M419.9 236.5h0M391.4 256.7h0M387.6 245.5h0M386.1 252.7h0M420.8 237.7h0M394.8 251.6h0M404.8 249.1h0M415.6 238.4h0M409.8 238.9h0M418.8 241.6h0M404.6 249.5h0M391.8 245.7h0M436.6 205.3h0M442.3 203.4h0M447 201.2h0M434.4 211h0M426.8 219.1h0M439.5 220.8h0M432.9 222.3h0M408.3 272.5h0M403.5 267.7h0M433.4 267.7h0" stroke="#fc7e7e" stroke-width="3" stroke-linecap="square" fill="none"/>
<path d="M476.2 205.3h0M484.3 201.1h0M491.2 208.2h0M485.5 204.4h0M489.1 199.1h0M479.4 202h0M487.9 204.9h0M483.8 213.3h0M476.6 202.1h0M491.7 204.9h0M485 204.3h0M480.4 207.6h0M482.1 212.9h0M485.7 213.5h0M475.6 214.7h0M489.3 196.2h0M483 200.3h0M481.8 206.7h0M481 213.3h0M484.1 211.5h0M487.5 193.6h0M474.2 214.5h0M489.7 205.8h0M481.8 215.8h0M492.9 206h0M480.4 212.6h0M489.7 197.6h0M487.4 202.4h0M479.6 209.7h0M489 196.3h0M492.3 200.9h0M491.1 199.7h0M486.1 215.7h0M487.5 195.4h0M480.8 207.4h0M487.8 203.5h0M487.2 207.6h0M482.4 198h0M479.2 199.5h0M481.1 198.3h0M492.8 196.8h0M479.7 213.2h0M495.4 197.7h0M478.9 211.7h0M486.8 210.5h0M487.8 195.4h0M481.8 196.8h0M490.5 198.2h0M482.5 211.9h0M490.6 196.3h0M477.6 209.1h0M487.7 211.1h0M489.3 206.8h0M480 209.3h0M475.3 213.2h0M488.4 201.7h0M481.7 199.4h0M483 214.4h0M488 195.4h0M483.5 194.6h0M482.1 199.6h0M492.8 207.5h0M488.8 210.6h0M492.8 192.1h0M485.2 205.4h0M490.3 205.9h0M486.7 210.2h0M491.3 195.4h0M484.9 196.3h0M478.6 213.4h0M488.3 200.4h0M478 215.1h0M484.8 200.6h0M486.8 204.5h0M485.6 200.3h0M479.8 212.3h0M484.7 212.3h0M480.4 199.3h0M479.8 211.8h0M481.7 207.5h0M494.5 202.1h0M481.2 207.7h0M486.8 202.7h0M485.6 211.1h0M488.1 192.4h0M486.2 206.5h0M478.2 212.4h0M481 198.6h0M490.7 199.4h0M488 193.6h0M491.3 202.9h0M494.1 193h0M483.5 214.6h0M478.9 203.2h0M484.2 214.1h0M485.6 206.2h0M493.5 193.2h0M483.9 216.3h0M483.1 205.4h0M490 203.7h0M489.1 203.4h0M479.6 213.8h0M484.5 215h0M484.7 202.9h0M479.1 216.7h0M490.4 198.3h0M488 197.9h0M487.3 204.5h0M486.9 213.8h0M497.1 193.2h0M493.4 193h0M488 210.1h0M474 214.5h0M474.5 211.1h0M486.4 207.7h0M491.4 201.8h0M491.1 205.9h0M480.2 216.2h0M479.4 205.6h0M494.6 196.1h0M476 210.3h0M494.7 197h0M485.8 217.3h0M481.8 199.3h0M492.3 194.8h0M488.9 192.9h0M488.2 208.4h0M492.9 198.9h0M479.7 202.2h0M488.4 192.9h0M474.9 209.6h0M487.5 203.5h0M478.4 201.7h0M495 193.2h0M490.9 199.4h0M486.7 202.5h0M497.7 198.2h0M485.9 209.3h0M493 205.3h0M493.8 201.6h0M490.9 195.6h0M483.4 199.7h0M488.5 211.7h0M490.7 200.6h0M482.3 201.8h0M491.7 199.3h0M482 202.2h0M488.9 208.4h0M490.8 196.4h0M485.4 201h0M484.4 202.5h0M489.2 207.8h0M488.5 198.8h0M491 206.7h0M484.1 201.2h0M488.4 207.7h0M475.7 214.5h0M484.4 202.4h0M481.5 202.5h0M479.3 204.5h0M490.4 195.9h0M480.7 216h0M484.2 200.2h0M479.5 207.9h0M486.3 210.1h0M484.2 214.7h0M490.4 206.6h0M482.9 198.7h0M484.7 207.4h0M496 200.9h0M479.1 216.1h0M480.6 201.8h0M483.8 200.4h0M478.5 210.3h0M485.9 206.6h0M486.6 205.6h0M494.2 201.1h0M484.3 208.3h0M484.1 198.7h0M483.3 213.9h0M484.9 211.6h0M471.8 216.3h0M489.5 211.4h0M492.9 213.2h0M489.8 214.6h0M483.9 214.4h0M485.2 210.1h0M497.8 195.2h0M477.1 207h0M487 211h0M490.5 200.5h0M480.2 219.4h0M479.9 208.2h0M478.8 221.7h0M485.4 198.1h0M482.9 201.8h0M483.5 202.4h0M478.2 210.1h0M480.9 197.1h0M479.6 206.9h0M482.7 216h0M495.8 196.5h0M489.4 210.4h0M467.8 240.3h0M467.8 202.5h0M485.4 186.4h0M472 217.2h0M482.6 219.5h0" stroke="#0000c0" stroke-width="3.2" stroke-linecap="round" fill="none"/>
<line x1="383.9" y1="256.6" x2="451.7" y2="238.8" stroke="#000" stroke-width="1.5"/>
<line x1="465" y1="213.9" x2="497.7" y2="199.6" stroke="#000" stroke-width="1.5"/>
<path d="M378.9 176.7H506.6V304.3H378.9Z" fill="none" stroke="#1c1c1c" stroke-width="1.25"/>
<text x="373.9" y="307.2" text-anchor="end" class="tk">7.0</text>
<text x="373.9" y="291.3" text-anchor="end" class="tk">7.1</text>
<text x="373.9" y="275.3" text-anchor="end" class="tk">7.2</text>
<text x="373.9" y="259.4" text-anchor="end" class="tk">7.3</text>
<text x="373.9" y="243.4" text-anchor="end" class="tk">7.4</text>
<text x="373.9" y="227.5" text-anchor="end" class="tk">7.5</text>
<text x="373.9" y="211.5" text-anchor="end" class="tk">7.6</text>
<text x="373.9" y="195.6" text-anchor="end" class="tk">7.7</text>
<text x="373.9" y="179.6" text-anchor="end" class="tk">7.8</text>
<text x="397.1" y="316.2" text-anchor="middle" class="tk">3</text>
<text x="433.6" y="316.2" text-anchor="middle" class="tk">4</text>
<text x="470.1" y="316.2" text-anchor="middle" class="tk">5</text>
<text x="506.6" y="316.2" text-anchor="middle" class="tk">6</text>
<path d="M375.4 304.3H378.9M375.4 288.4H378.9M375.4 272.4H378.9M375.4 256.5H378.9M375.4 240.5H378.9M375.4 224.5H378.9M375.4 208.6H378.9M375.4 192.6H378.9M375.4 176.7H378.9M397.1 304.3V308.1M433.6 304.3V308.1M470.1 304.3V308.1M506.6 304.3V308.1M415.4 304.3V306.5M451.9 304.3V306.5M488.4 304.3V306.5" stroke="#1c1c1c" stroke-width="1.2" fill="none"/>
<text x="442.8" y="327.5" text-anchor="middle" class="tt">ln Body Mass (mg)</text>
<text transform="translate(359.6 240.5) rotate(-90)" text-anchor="middle" class="tt">ln Interorbital Distance Minimum (μm)</text>
<text x="384.8" y="188.8" class="st">Q R<tspan dy="-2.2" font-size="4.9">2</tspan><tspan dy="2.2"> = 0.1</tspan></text>
<text x="384.8" y="194" class="st">Q p = 0.0001</text>
<text x="384.8" y="204.3" class="st">W R<tspan dy="-2.2" font-size="4.9">2</tspan><tspan dy="2.2"> = 0.11</tspan></text>
<text x="384.8" y="209.5" class="st">W p = 0.0001</text>
<path d="M605.1 249.8h0M627.1 233.2h0M618.5 246.2h0M627.8 241h0M595.9 256.9h0M624.5 247.8h0M598.6 259.3h0M611.9 248.5h0M620.8 242.1h0M621.2 245.2h0M617.2 242.1h0M605.8 247.3h0M620.9 232.4h0M594.8 262h0M601.8 263.2h0M611.6 262.1h0M606.6 264.3h0M615.7 235.9h0M602.1 255.5h0M595.6 255.4h0M620.8 253.7h0M627.8 237.3h0M605.8 250.2h0M603.5 260.4h0M622.3 235.7h0M612.4 238.9h0M608.6 250.5h0M612.5 256.9h0M612.4 255.9h0M601.2 252.7h0M611.1 264.2h0M608.7 248.3h0M622 245.2h0M624.9 239.6h0M606.5 261.7h0M613.2 243.6h0M622.9 248.7h0M609.1 253.1h0M603.6 253h0M609.4 245.3h0M608.8 253.7h0M609.9 265.3h0M616.5 251.5h0M613 252.9h0M610 256.1h0M607.9 259.3h0M622.3 254.4h0M614.6 258.1h0M609.5 268.8h0M623.6 241.3h0M614.7 252.9h0M617.3 230.9h0M617.2 242.8h0M606.2 238.6h0M615 229h0M621.1 248.7h0M600.1 258.5h0M607.5 243.4h0M598.5 252.6h0M623.2 244.2h0M597 262h0M620 240.1h0M613 249h0M615.5 242.7h0M604.2 267.4h0M618.1 239.9h0M613.7 259.7h0M617 232.4h0M608.7 253.5h0M626.5 244.8h0M604.8 248.8h0M597 266.7h0M616.1 231.2h0M613.2 250.5h0M612.9 236.1h0M606.2 266.6h0M603.1 266.1h0M621.1 234.9h0M623.7 247.2h0M607 237.2h0M622.5 240.7h0M609.1 248h0M621.4 231.4h0M602.3 243.6h0M603.5 257.6h0M598.6 251.9h0M620.4 248.6h0M609.4 239.7h0M601.5 256.5h0M606.7 238.1h0M616.1 245.1h0M596.2 258.8h0M626.8 237.8h0M604.7 251.8h0M605.6 258h0M609.7 263.9h0M610.5 242.1h0M616.7 251.4h0M610.2 265.9h0M608.1 252.8h0M613.1 250.6h0M620.8 248.7h0M618 236.8h0M604.5 269.7h0M609.2 240.5h0M611.6 240.5h0M623.9 240.4h0M626 240.3h0M624.6 235.2h0M611.4 255.2h0M619.8 232.8h0M613 234.6h0M614.4 236.5h0M594.7 261.9h0M612.2 241.3h0M610.2 258.8h0M616.5 234h0M601.3 264.2h0M614 241.5h0M601.7 257h0M621.4 249.7h0M615.5 234.8h0M611.1 248.3h0M627.7 235.2h0M611.1 243.3h0M614 260.7h0M601.5 269.4h0M613.4 255h0M603.6 250h0M614 228h0M595.6 267.2h0M622.2 237.6h0M614.2 262h0M615 253.8h0M603.5 243.2h0M608.6 241.6h0M604.7 240h0M612.1 241.1h0M598.5 267.8h0M619.8 240.2h0M619.8 242.4h0M603.2 257.8h0M608.7 256.3h0M615.6 248.8h0M618.2 251.9h0M619 235.2h0M627.6 237.1h0M617.2 227h0M615.9 243.1h0M624.3 246.4h0M612.9 246.8h0M617.4 244.3h0M602.2 247.7h0M601.7 255.2h0M613.3 236.4h0M623.7 231.7h0M620 247.1h0M596.7 258.6h0M627 240.5h0M621.1 230.9h0M619.3 227.4h0M617.6 239.2h0M606.6 257.4h0M610.4 241.2h0M604.3 257.5h0M610.2 266.4h0M612.8 245.4h0M612.6 254h0M609.4 262.2h0M620.1 232.9h0M610.1 250.8h0M611.3 253.2h0M623.8 245.1h0M622.6 227.6h0M616.1 253.5h0M603.7 249.3h0M611.1 249.9h0M624.4 241.1h0M615.6 261.6h0M595.4 261.8h0M625.4 229.7h0M599.1 262.9h0M616.6 256.3h0M611.5 245.1h0M605 241.9h0M607.4 259.4h0M608.7 244.6h0M609.7 254.2h0M604.8 258.2h0M622.7 245.8h0M613.4 240.4h0M609 261.6h0M614 262.8h0M612.8 235.6h0M608.9 254.8h0M602.1 259.5h0M617.4 237.5h0M605 258.1h0M615.8 246.5h0M622.6 245.5h0M597.8 260.8h0M606.7 258.2h0M605.7 245.7h0M602.7 262.7h0M622.3 243h0M605.4 258.5h0M606.3 254.4h0M624.2 234.4h0M614.8 235.4h0M605.4 266.7h0M622.3 235.4h0M608.1 240h0M621.4 244.3h0M599.6 252.2h0M613.3 262.4h0M624.8 225.9h0M605.4 261.3h0M615.2 256.9h0M611.3 246.6h0M599.8 246.1h0M605.4 249h0M603.3 262.1h0M600.5 250.5h0M620.5 237.3h0M605.7 238h0M611.6 243.8h0M617.8 257.2h0M597.3 269h0M598.7 251.9h0M620.6 226.1h0M619.2 249.9h0M601.5 265.5h0M623.3 245h0M592.8 265h0M603.1 259.6h0M605.8 257.8h0M620.1 246h0M612.1 246.2h0M613.9 253.2h0M612.3 235.6h0M601.5 251.1h0M623.4 244.3h0M624.3 238.9h0M599.8 252.8h0M607.8 254h0M597.7 252.4h0M613.1 264.9h0M601.3 257.3h0M607.6 241.5h0M605.8 257.4h0M603.1 259.4h0M605.4 256.2h0M600.3 252.2h0M612 253h0M616.6 229.6h0M622.1 232.2h0M598.2 251h0M604.6 257.1h0M605.9 268.2h0M625.2 234.8h0M605.9 261.1h0M613.6 247.1h0M617.1 253.3h0M618.4 239.6h0M606 246.6h0M607.5 255.1h0M624.6 234.2h0M616.2 258.6h0M608.2 246.2h0M618.7 228.9h0M601.8 268.9h0M605.4 245h0M627.1 233.2h0M618.9 242.1h0M616.9 240.7h0M617.5 253.8h0M621.5 243.5h0M606.5 265.6h0M601.5 265.3h0M591.7 278.7h0M615.9 237.4h0M607.1 257.9h0M607.2 248.8h0M613.5 245.2h0M626.7 230.7h0M623.9 241.1h0M596.8 253.7h0M597.9 248.9h0M619.2 247.1h0M622.1 242.4h0M607.2 243.3h0M597.2 266.9h0M612.4 244.5h0M612.4 255.9h0M619.6 235.4h0M614.9 240.7h0M580.6 284.1h0M606.5 254.7h0M627.7 243.2h0M616.2 239.4h0M628.3 235.9h0M612 250.8h0M614.5 256.3h0M599.3 250h0M598.8 257.7h0M617.6 229.7h0M614.7 262.2h0M599.8 253.1h0M616.5 251.1h0M602.6 257h0M613.5 239.4h0M607.4 253.1h0M603.7 257.7h0M621.8 227.5h0M622.7 241.8h0M603.3 255.5h0M628.4 229.2h0M613.5 246.8h0M603.3 264.7h0M603.3 247.5h0M596.6 258.1h0M610.6 254.4h0M611.4 253.1h0M613 255.3h0M609.3 245.6h0M615.3 241.5h0M615.4 249.9h0M622.9 240.1h0M607.4 247.8h0M613.1 254.8h0M608.5 250.1h0M603.2 257h0M620.4 249.2h0M599.2 271.7h0M623.7 225.7h0M613.3 249.1h0M604.7 247.3h0M604.8 231.5h0M611.4 235.8h0M616 225.9h0M598.1 257.7h0M603.6 247.2h0M607.3 261.7h0M608.9 248.7h0M610.8 264.1h0M623 264.2h0M589.7 258.6h0M600.1 250h0M594.9 260.6h0M615.9 252.2h0M589.5 268.8h0M592.7 262.3h0M601.2 260.3h0M611 244.1h0M622.6 236.3h0M627.8 230.8h0M601.4 255.7h0M616.5 235.5h0M610.9 253.6h0M626.2 234.7h0M602.4 252.4h0M604.3 244.5h0M622.3 234.2h0M618.1 250.3h0M584.6 252.4h0M615.5 234.6h0M615.8 256.6h0M627.5 226.6h0M609.8 266.9h0M597.3 274.7h0M625.5 233.1h0M604.2 257.9h0M606.1 246.4h0M613 239.6h0M618.8 230.6h0M622.6 246.9h0M603.5 256.2h0M607.1 255.4h0M615.7 237.6h0M607.3 256.1h0M626.6 236.9h0M608.1 229.7h0M607.2 264.5h0M610.5 250.8h0M617.7 237.8h0M599.8 261.5h0M596.1 264.1h0M628.2 244.9h0M627.9 226.1h0M609.1 255.5h0M603.1 260.1h0M609.4 251.8h0M623.5 254.7h0M602.5 257.2h0M617.8 246.8h0M614.3 253h0M614.1 240.7h0M604.2 246.1h0M601.9 274.5h0M606.7 247.5h0M627.7 250.4h0M623.2 231.9h0M604.2 273h0M615.5 239.9h0M615 251.5h0M625.3 221.6h0M607.7 254.4h0M604.7 257h0M610.5 244.7h0M610.8 241.9h0M616.7 252.7h0M620.2 243h0M616.9 235.3h0M594.8 274.3h0M604.8 261.2h0M581.4 262.3h0M579 255.2h0M577.9 265.9h0M583.2 246.8h0M588 240.9h0M589.2 248.1h0M574.7 265.1h0M589 250.2h0M590.2 256.5h0M562.4 267.9h0M590.3 235.9h0M595.1 253.4h0M573 260.8h0M572.9 252h0M584.3 262.9h0M573 255.9h0M574.2 254.9h0M562.5 274.7h0M580 256.3h0M584.1 256.3h0M564.1 265.2h0M586.6 260.6h0M560.3 271.1h0M591.6 253.1h0M588.5 251.9h0M586.9 261.7h0M566.8 255h0M580.7 248.6h0M578.9 246.8h0M593.9 248.4h0M590.7 245.1h0M591.7 247.1h0M593.7 250.5h0M560.2 264.2h0M588.4 259.7h0M587.4 260.1h0M591.5 256.6h0M580.2 255.7h0M579 252.1h0M590.9 259.1h0M584.7 253.7h0M575.2 250.4h0M573.2 250.6h0M561.4 258.7h0M562.4 261.3h0M572.1 262.5h0M581.3 245.4h0M591.7 262.6h0M593.7 247.3h0M593 254.5h0M574.4 250.4h0M594 245h0M595.4 259h0M582.9 243.5h0M567.9 268.9h0M590.3 262.7h0M577.1 263.5h0M593.4 266.2h0M594.1 248.6h0M585.2 254.8h0M585.7 268.4h0M593 257.8h0M594.3 237.9h0M565.5 262.5h0M584.2 255h0M582.2 257h0M592.6 255.3h0M578.7 259h0M560.4 271.4h0M582.7 256h0M583 249.5h0M576.9 246.7h0M572.3 256.9h0M593.4 266.1h0M567.4 251.7h0M562.6 260.5h0M581.6 256.4h0M570.6 262.2h0M565.7 263.3h0M577.7 252.8h0M581.6 262.5h0M586.5 249.7h0M582.8 257.5h0M572.6 261.5h0M570.9 268.5h0M594.5 270.5h0M582.1 245h0M580.5 258.8h0M594.4 251.3h0M594.5 250.4h0M607.9 178.3h0M610.2 206.8h0M617.4 204.4h0M622.5 207.6h0M612.1 213.8h0M602.8 222.3h0M619.3 220.4h0M584.3 296.1h0M579.2 289.5h0M599 287.6h0M572.9 231.8h0M592.8 231.8h0M587.1 232.7h0" stroke="#fc7e7e" stroke-width="3" stroke-linecap="square" fill="none"/>
<path d="M654.3 219.3h0M663.3 212.7h0M662.1 218.9h0M663.5 214.1h0M659.6 218.1h0M671.5 206.5h0M652.8 213.6h0M656.2 206.4h0M653.7 222.6h0M661.5 210.4h0M666 215h0M662 200.5h0M664.7 209.2h0M665.9 217.7h0M653.4 217h0M656.7 208.9h0M659.2 205.1h0M657.3 209.8h0M666 213.9h0M665.1 216.2h0M664.1 209.7h0M660.7 213.9h0M657.8 221h0M657.8 214.1h0M660.8 218.3h0M659.9 210h0M666.4 199.7h0M661.5 213.5h0M666.9 206.5h0M660.3 219.9h0M655.4 222.9h0M662.4 210.9h0M666 211.2h0M656.9 222.7h0M661.9 215.6h0M657.1 209.4h0M669.2 207.5h0M665.7 215.8h0M659 213.3h0M658.1 225.8h0M667.8 203.5h0M658.2 209.5h0M657.6 210.6h0M656.6 212.8h0M661.7 210.3h0M667.8 197.7h0M655.2 215.9h0M655.7 216.1h0M658 211.6h0M659.4 209.3h0M667.9 213.6h0M667.1 211.9h0M660.8 211.6h0M656.6 219.7h0M655.8 204.8h0M660.3 212.9h0M661.7 206.8h0M653.8 213h0M663.3 208.4h0M656.7 218h0M654.5 216.6h0M661.9 215.4h0M663.5 218.8h0M668.7 200.5h0M661.5 203.5h0M660.9 208.9h0M663.5 215.4h0M655.2 211.9h0M657.2 203.4h0M661.9 215.6h0M660.2 203h0M665.6 205h0M657.1 213.9h0M664.5 205.2h0M659.2 204.5h0M665.8 218.3h0M664.6 212.6h0M659.6 222h0M661.1 206.1h0M659 205.2h0M664.7 212.7h0M656.8 209.2h0M660.5 205.7h0M656.6 218.6h0M656.2 220.6h0M666.7 215.8h0M652.5 218.1h0M659.8 206.3h0M664.7 205h0M662.9 208.7h0M666.4 210.3h0M664.9 198.7h0M671.8 205.1h0M665.7 209.2h0M665.8 200h0M658.1 210.8h0M661.2 203.1h0M658 213.7h0M660.6 218.8h0M668.4 215.3h0M668.3 215.5h0M671.8 200.7h0M658.8 207.1h0M657.8 213.2h0M659.3 223.6h0M661.4 215h0M653.8 218.3h0M656.7 207.5h0M670.4 196h0M670.9 203.7h0M662.3 211.9h0M671.5 209.4h0M669.9 203.1h0M668.2 208h0M659.7 211.7h0M664.3 216.3h0M664.8 213.5h0M652 218.2h0M657.8 220.9h0M655.7 215.8h0M662.3 222.8h0M656.5 213.5h0M658.6 207.6h0M664.7 214.4h0M664.8 199.8h0M671.2 209.3h0M662.1 221.7h0M668.4 201h0M663.3 205.1h0M652.9 220.4h0M664.4 217.4h0M657.4 222.4h0M658.4 218.1h0M654.5 209.5h0M655.3 213.1h0M660.2 212.1h0M665.6 216.5h0M658 207.4h0M653.2 223.2h0M658.9 216.7h0M669.9 210.9h0M663.8 207.6h0M667.9 204.3h0M656.6 224h0M653.4 220.4h0M666.3 200h0M670.9 206.1h0M655 209.2h0M657.8 212.4h0M668.5 213.1h0M671.2 212.6h0M663.7 202.9h0M655.1 223.8h0M665.4 199.3h0M661.5 203.7h0M660.1 209.1h0M659 218.1h0M653.7 220.4h0M661.5 218.5h0M671.1 205.5h0M657.4 210.8h0M672.9 202.7h0M669.3 206.5h0M661.2 205.5h0M668.6 217.1h0M667.6 208.1h0M652 220.1h0M659.7 213.3h0M662.5 207.5h0M672.7 202.1h0M662.9 222.2h0M666.7 217.6h0M669.9 206.2h0M662 210.8h0M663.5 212.3h0M660.2 217.5h0M669.9 203.9h0M661 218.7h0M661.2 217.2h0M651.1 214h0M646.9 221.3h0M660.2 215.6h0M664.6 203.7h0M662.4 211.1h0M657 213.3h0M671.4 209.1h0M670.3 205.1h0M660.2 210.7h0M653.2 212.7h0M668.5 201.3h0M660.2 207.5h0M671.3 202.5h0M651.6 214.9h0M662.1 203.8h0M658.1 214.1h0M655.2 214.5h0M650.5 220.9h0M667.1 208.5h0M654.1 225.2h0M665.7 219.5h0M670.9 200.9h0M662.4 219.2h0M667.2 207.7h0M656.1 275.7h0M665.6 244.7h0M641 213.5h0M648 224.8h0M664.3 228h0M672.8 202.5h0" stroke="#0000c0" stroke-width="3.2" stroke-linecap="round" fill="none"/>
<line x1="560" y1="268.4" x2="627.7" y2="242.3" stroke="#000" stroke-width="1.5"/>
<line x1="641.5" y1="219" x2="673" y2="207.2" stroke="#000" stroke-width="1.5"/>
<path d="M555 176.7H682.5V304.4H555Z" fill="none" stroke="#1c1c1c" stroke-width="1.25"/>
<text x="550" y="307.3" text-anchor="end" class="tk">8.1</text>
<text x="550" y="286" text-anchor="end" class="tk">8.2</text>
<text x="550" y="264.7" text-anchor="end" class="tk">8.3</text>
<text x="550" y="243.5" text-anchor="end" class="tk">8.4</text>
<text x="550" y="222.2" text-anchor="end" class="tk">8.5</text>
<text x="550" y="200.9" text-anchor="end" class="tk">8.6</text>
<text x="550" y="179.6" text-anchor="end" class="tk">8.7</text>
<text x="573.2" y="316.3" text-anchor="middle" class="tk">3</text>
<text x="609.6" y="316.3" text-anchor="middle" class="tk">4</text>
<text x="646.1" y="316.3" text-anchor="middle" class="tk">5</text>
<text x="682.5" y="316.3" text-anchor="middle" class="tk">6</text>
<path d="M551.5 304.4H555M551.5 283.1H555M551.5 261.8H555M551.5 240.5H555M551.5 219.3H555M551.5 198H555M551.5 176.7H555M573.2 304.4V308.2M609.6 304.4V308.2M646.1 304.4V308.2M682.5 304.4V308.2M591.4 304.4V306.6M627.9 304.4V306.6M664.3 304.4V306.6" stroke="#1c1c1c" stroke-width="1.2" fill="none"/>
<text x="618.8" y="327.6" text-anchor="middle" class="tt">ln Body Mass (mg)</text>
<text transform="translate(535.4 240.5) rotate(-90)" text-anchor="middle" class="tt">ln Antenna Length (μm)</text>
<text x="560.1" y="186.7" class="st">Q R<tspan dy="-2.2" font-size="4.9">2</tspan><tspan dy="2.2"> = 0.06</tspan></text>
<text x="560.1" y="191.9" class="st">Q p = 0.0001</text>
<text x="560.1" y="204.1" class="st">W R<tspan dy="-2.2" font-size="4.9">2</tspan><tspan dy="2.2"> = 0.15</tspan></text>
<text x="560.1" y="209.3" class="st">W p = 0.0001</text>
<path d="M84.2 400.9h0M92.6 400.3h0M81.2 404.6h0M79.6 405.8h0M81.8 409.9h0M85.3 409.6h0M71.7 408.9h0M73.7 402.9h0M81.4 402.6h0M76.6 404.7h0M68.3 408.3h0M87.4 400.4h0M73.4 409.8h0M87.8 406.8h0M93.6 401.4h0M71.6 406.4h0M69.5 402h0M92.5 400.3h0M87.2 398.3h0M89.7 404.8h0M83.8 402.1h0M92.3 404.8h0M94.5 401.8h0M98.2 396.2h0M72.8 404.2h0M73.8 396.4h0M72.8 404.5h0M94.8 399h0M75.5 407.3h0M89.6 399h0M74.3 397.5h0M80.6 405.8h0M84.9 400.2h0M93.4 401.6h0M99.3 399.2h0M76.1 409.3h0M77.7 411.4h0M76 395.5h0M93 404.1h0M97.9 398.8h0M76.2 408.1h0M87 395.5h0M97.8 404h0M99 399.8h0M76.2 398.1h0M94.8 398.1h0M72.8 411.3h0M91.2 398.5h0M94.5 405h0M85.2 404.9h0M90.5 407.4h0M77.7 398.2h0M76.9 396h0M76.9 406.8h0M94.8 396.3h0M81 396.9h0M80.6 404h0M76.3 401.6h0M91.8 409h0M90.7 405.8h0M92.8 399.3h0M90.8 403.2h0M94.5 402.8h0M69.4 407.7h0M80.6 405.6h0M84.3 407.1h0M74.8 405.1h0M92.8 403.5h0M90.3 401.5h0M67.9 402.9h0M78.5 403h0M97.7 402h0M75.5 399.3h0M93.7 401h0M97.9 399.7h0M81.5 402.2h0M92.9 397.5h0M85.6 404.9h0M88.6 408.3h0M85.6 400.2h0M75.8 409.8h0M75.8 404.1h0M95.7 401.1h0M96.1 400.6h0M90.5 403.1h0M76.8 400.4h0M69.2 403.8h0M73.4 410.6h0M68.4 404.9h0M96 403h0M97.3 398.3h0M92.3 404.3h0M85.4 408.9h0M88.7 394.2h0M89.4 402.6h0M72.5 399h0M93.3 403.8h0M78.8 400.1h0M79.4 397.8h0M95.8 405.1h0M69.9 404.1h0M87.4 396.4h0M90.7 395.8h0M70.6 403.4h0M95.3 405.5h0M81.4 403.6h0M78.1 402.8h0M84.3 400h0M93.5 406.9h0M73.5 400.8h0M79.9 400h0M80.7 400.8h0M80.9 402h0M96.3 399.4h0M88.7 395.9h0M95.7 397.1h0M69.3 408.9h0M75.5 409.4h0M90.5 399.2h0M75.8 410.9h0M66.4 407.2h0M99.5 402.1h0M87.2 403.4h0M95.1 401.2h0M72.9 398.7h0M83.8 395.3h0M69.6 402.2h0M88.7 409.3h0M92.5 406.2h0M90.3 400.2h0M92.1 404.9h0M92.4 402.2h0M97.9 402.8h0M69.2 406.2h0M82 403.7h0M82 404.3h0M71.8 399.8h0M80 393.6h0M90.9 406.8h0M76.3 396.6h0M94.6 396.2h0M79.3 409.6h0M71.4 405.6h0M91.8 408.1h0M89 401.8h0M96.5 402.1h0M71.9 407.6h0M80.4 411.3h0M73.1 404.8h0M80.4 395.8h0M93.2 399.9h0M78.7 402.9h0M92.1 397.1h0M73.9 402.8h0M88.1 406h0M72.7 409.6h0M80.7 398.2h0M80.8 403h0M85.5 407.8h0M79.6 410.6h0M83.4 407.8h0M82.6 395.2h0M72.8 410h0M96.7 398.6h0M82.5 409.6h0M96 397.8h0M70.4 400.9h0M99.2 402.5h0M93.7 395.8h0M75.9 408.2h0M80.8 400h0M94.4 401.7h0M98.9 402.7h0M86.5 402h0M87.4 394.5h0M71.3 398.7h0M78.9 413.6h0M92.5 406.2h0M73.4 398.6h0M76.6 403.8h0M93.8 401.2h0M77.8 400.9h0M76 402.6h0M73 395h0M85.2 397.9h0M64 405.5h0M81.3 406.4h0M78.3 407.8h0M72.2 410.1h0M74.4 407.3h0M81.9 404.9h0M84.7 408h0M84.8 410.3h0M84.6 396.2h0M85.7 399h0M83.6 410.5h0M69.5 412h0M80.4 412.6h0M93.5 408.2h0M72.1 394.9h0M71.7 403.4h0M81.5 399.1h0M81.3 400.9h0M75.9 408h0M72.6 407.7h0M86.8 413.8h0M73.2 402.6h0M83.2 407.1h0M88 409.2h0M73.8 402.6h0M90.9 400.8h0M78.4 404.4h0M69 401.7h0M75.8 406.4h0M67.6 401.9h0M88.2 394.3h0M73.1 400.3h0M81.6 404.7h0M84.6 403.5h0M80.1 407.3h0M83.8 397.1h0M93.1 406.7h0M84.6 400.9h0M79.5 401.7h0M76.3 408.6h0M77.5 412.4h0M83.8 415.6h0M84.7 407.9h0M61 407.7h0M68.4 404h0M64.4 398.6h0M67.8 401.4h0M54.3 406.3h0M67.2 397.8h0M46 405.5h0M59.8 399.4h0M50.9 406.9h0M54.5 409.8h0M52.6 401.7h0M67.1 402.7h0M70.7 404.9h0M65.7 400.1h0M63.9 403.4h0M50 406.4h0M52.7 408.9h0M54.1 409h0M63.7 405.6h0M61 408h0M55.5 406.9h0M61.6 399.5h0M66.1 402.3h0M64.3 405.6h0M60.7 405.1h0M65.7 399.5h0M66.8 406.1h0M56.4 407.5h0M54.8 406.4h0M67.2 403.8h0M53.2 400.8h0M63.4 403.7h0M46 408.2h0M48.3 408.9h0M67.3 399.3h0M62.2 401.9h0M66.2 406.9h0M55.6 409.6h0M63.1 407.1h0M57.4 398.4h0M48.7 407.8h0M48.7 400.8h0M58.6 400.5h0M55.8 400.6h0M63.9 401.9h0M62.1 399.7h0M56.8 402.3h0M57.8 405.9h0M50.3 401.4h0M63.3 404.5h0M53.7 404.8h0M60.3 400.9h0M63.2 402.5h0M55.3 396.9h0M56.4 401.5h0M66.2 395.7h0M58 403.4h0M51.6 404.2h0M60.2 407h0M83.6 433.4h0M87.1 416.5h0M81.6 431.1h0M83.8 421.6h0M83.2 424.2h0M86.3 431.8h0M76.7 423.8h0M71.9 422.2h0M75.2 416.2h0M79.4 428.4h0M81.9 426.4h0M76.1 419.6h0M74.9 424.3h0M82.2 432.6h0M81.4 426.6h0M83.9 422.7h0M74 425.5h0M81.9 418.8h0M87.7 419h0M79.3 432.3h0M69.2 424.6h0M92.8 419.7h0M72.4 428.7h0M83.2 425.7h0M84.9 422h0M80.2 431.2h0M85.9 424.3h0M82.2 433.7h0M70.6 427.2h0M82.3 420.5h0M74.3 422.9h0M85.3 417.5h0M78.1 417.6h0M85.6 415.9h0M88.1 418.5h0M90.7 422h0M80.7 433.7h0M75.1 413.7h0M71.8 418.3h0M86 421h0M87.8 420.4h0M80.9 423.4h0M80.8 420.2h0M78.8 420.2h0M81.3 429.4h0M84.9 426.7h0M82.9 425.8h0M78 433.6h0M88.4 413.8h0M86.3 425.7h0M75.2 432.4h0M80 423.6h0M91.6 423.7h0M74.1 424.1h0M84.1 416.5h0M77.5 427h0M82 429.7h0M57.8 415.6h0M47.3 414.6h0M47.1 420h0M49.9 427.2h0M59.9 409h0M61.4 415.3h0M56.5 410.4h0M53.6 409.7h0M49.9 414.5h0M46.3 420.2h0M60.3 413.7h0M60.2 413.1h0M48.5 420h0M45.6 415.1h0M42.8 416.6h0M53.2 411.6h0M52.2 410.4h0M63.2 413.7h0M63 418.3h0M46.8 413.9h0M35.6 416h0M61.5 409.6h0M61.9 410.8h0M59.3 435h0M68.6 415.5h0M34.3 412.7h0M33.9 414.1h0M67.5 410.3h0M44.8 402.9h0M50.7 418.6h0M66.5 405.3h0M43.4 412.5h0M41.2 418.7h0M50.7 404h0M47.9 417.5h0M55.4 410.5h0M56.4 419.6h0M47.2 415.9h0M38.6 413.8h0M64.3 405.9h0M69.8 406.9h0M55.5 418.5h0M57.3 424.4h0M67.6 427.6h0M69.7 424.6h0M98 373.4h0M99.4 414.7h0M30.8 426.7h0M39 465.2h0M44.1 456.3h0M46 455h0M42.2 438.6h0M43.5 444.3h0M54.2 443.7h0M58.4 440.1h0M64.1 440.1h0M70.8 448.1h0M72.7 452.9h0M75.5 453.8h0M78.4 450h0M85.1 451.9h0M72.3 441.4h0M82.2 440.5h0M88.9 439.5h0M93.6 435.3h0M91.7 430.9h0M86.6 432.8h0M93.6 424.3h0M54.6 426.2h0M66 427.1h0M59.9 393.4h0" stroke="#fc7e7e" stroke-width="3" stroke-linecap="square" fill="none"/>
<path d="M132.9 376.5h0M133.3 371.4h0M136.7 377.3h0M134.4 375.7h0M130.5 379.3h0M137.7 375.6h0M128.9 377.2h0M138.4 371.1h0M136.3 373.8h0M128.6 373.8h0M135.3 379.1h0M136.3 379.5h0M131.9 375.6h0M143.8 372.1h0M134.8 369.8h0M141.1 378.4h0M135.3 374.3h0M126.4 378.7h0M138.4 376.4h0M127.5 376h0M141.9 377.6h0M137 371.7h0M143.7 374.2h0M125 375.4h0M135.9 375.1h0M142.5 375h0M137 371.7h0M140.2 372.2h0M135.1 377h0M135.3 375.3h0M130.8 377.4h0M128.5 373.1h0M138.6 379.7h0M131.1 375.8h0M129.8 375h0M129.7 372.5h0M129.2 377.8h0M135 375.2h0M125.9 375.8h0M140 378.5h0M137.9 375.4h0M134.4 373.9h0M136.6 375.4h0M138.1 375.2h0M134.7 373.7h0M143.4 376.3h0M126.6 375.4h0M128.3 372.7h0M130.9 373.2h0M127.2 378.7h0M139.1 374h0M142.3 371.6h0M132.6 372.6h0M137.5 371.2h0M131 380.5h0M134.2 372h0M132.9 370.6h0M131.5 372.5h0M139.7 377.6h0M132.8 370.8h0M141.8 372.5h0M130.9 373.5h0M130.6 379.3h0M133.1 374.6h0M133.4 370.5h0M142.9 374.7h0M133.4 380h0M124.8 377.4h0M139.1 373.4h0M128.2 378.1h0M142.2 370.3h0M136.6 379.4h0M136.7 374h0M132.4 373.3h0M136.6 378.4h0M139.4 377.9h0M130.8 377.4h0M130.2 373.4h0M144.9 374.3h0M128.9 376.2h0M129.1 373.7h0M137 371.3h0M131.4 372.2h0M143.7 376.3h0M137.3 377.8h0M138.4 373.4h0M135.9 372.2h0M144.6 374.2h0M141.2 378.3h0M132 372.9h0M140.6 371.4h0M133.6 375.2h0M131.4 370.1h0M142.1 373.5h0M142.8 373.5h0M134.1 377.4h0M137.9 370.7h0M138.1 377.4h0M137 377.6h0M136.6 373.4h0M142.5 376.9h0M136.9 381.3h0M137.8 371.4h0M141.9 373.7h0M130.9 365.7h0M132.2 377.4h0M135.6 379.5h0M141 389.5h0M138.9 383.6h0M133.6 377.9h0M142.9 385.1h0M134.8 391.6h0M131.8 379.1h0M137.7 378h0M140.6 383h0M131.5 390.1h0M131.4 385.3h0M132.7 391.1h0M134 377.6h0M141.1 384.2h0M130.6 382h0M136.2 377.2h0M131.2 381.8h0M133.6 388.9h0M137.1 390.7h0M139 378h0M131.1 386.2h0M132.3 383.2h0M135 387.8h0M136.5 383h0M137.9 384.9h0M132.6 384.2h0M139.8 385.2h0M136.8 378h0M141.4 383.8h0M141.9 382.5h0M141.8 384.6h0M140.8 378.7h0M130.6 389.2h0M132.7 384h0M139.3 388.6h0M135.8 388.8h0M140.7 389.3h0M133.2 386.1h0M139.1 390.2h0M136.9 381.2h0M133.3 379.3h0M143.2 386.4h0M134.8 383.2h0M134.5 385.5h0M140.3 384.7h0M136.8 381.5h0M141.5 384.6h0M139.3 377.2h0M140.9 382.6h0M135.6 382.9h0M132.4 381.9h0M137.3 379.4h0M140.8 380.2h0M139.7 390.6h0M130.9 379h0M140.8 386.6h0M133.8 379.1h0M135.2 390.2h0M135.4 377.6h0M141.5 381.9h0M138.5 385.8h0M134.2 392h0M132.5 389.6h0M135.1 379.3h0M143.2 385.8h0M138.6 380.2h0M137.6 380.5h0M139.4 390.8h0M132.9 389.6h0M136.6 377h0M132.4 379h0M134 391.9h0M133.5 387.5h0M138.3 385.8h0M131.1 385.3h0M133.2 380.1h0M135.4 384.3h0M138 379.1h0M135.8 392.5h0M130.6 394.3h0M132.5 386.7h0M129.6 383.5h0M139.1 387.1h0M134 383h0M134.9 385.4h0M137.3 390.6h0M134.8 390.8h0M135.9 391.2h0M131.4 400.5h0M135.1 397.7h0M131.3 401.4h0M134.3 397.8h0M130.8 401.4h0M133.1 392.2h0M134.8 391.1h0M133.3 401.5h0M134.8 399.6h0M136.3 389h0M138.5 397.7h0M137.4 392.8h0M132.7 393.4h0M137.5 396.2h0M133.6 388.9h0M131.3 394.6h0M136.6 398.2h0M135.2 401.5h0M133.5 394.9h0M133.2 401.1h0M133.5 398.1h0M136.2 400.8h0M132.5 400.9h0M136 401.2h0M132.3 403h0M133.6 399.3h0M130.9 392.8h0M133.4 401.9h0M135.3 390.5h0M133.3 398.1h0M137.1 398.8h0M134.2 393.4h0M133.2 399h0M138.8 362.3h0M113.8 376.2h0M115.2 387.1h0M120.9 390h0M125 389.6h0M127.6 397.2h0M132.3 404.3h0M121.3 372.2h0M144.5 368.1h0" stroke="#0000c0" stroke-width="3.2" stroke-linecap="round" fill="none"/>
<line x1="30.6" y1="419.6" x2="98.4" y2="404.6" stroke="#000" stroke-width="1.5"/>
<line x1="112.5" y1="386" x2="144" y2="378.2" stroke="#000" stroke-width="1.5"/>
<path d="M26.1 349.5H153.7V477.2H26.1Z" fill="none" stroke="#1c1c1c" stroke-width="1.25"/>
<text x="21.1" y="465.9" text-anchor="end" class="tk">7.2</text>
<text x="21.1" y="444.6" text-anchor="end" class="tk">7.5</text>
<text x="21.1" y="423.4" text-anchor="end" class="tk">7.8</text>
<text x="21.1" y="402.1" text-anchor="end" class="tk">8.1</text>
<text x="21.1" y="380.8" text-anchor="end" class="tk">8.4</text>
<text x="21.1" y="359.5" text-anchor="end" class="tk">8.7</text>
<text x="44.3" y="489.1" text-anchor="middle" class="tk">3</text>
<text x="80.8" y="489.1" text-anchor="middle" class="tk">4</text>
<text x="117.2" y="489.1" text-anchor="middle" class="tk">5</text>
<text x="153.7" y="489.1" text-anchor="middle" class="tk">6</text>
<path d="M22.6 463H26.1M22.6 441.7H26.1M22.6 420.4H26.1M22.6 399.2H26.1M22.6 377.9H26.1M22.6 356.6H26.1M44.3 477.2V481M80.8 477.2V481M117.2 477.2V481M153.7 477.2V481M62.6 477.2V479.4M99 477.2V479.4M135.5 477.2V479.4" stroke="#1c1c1c" stroke-width="1.2" fill="none"/>
<text x="89.9" y="500.4" text-anchor="middle" class="tt">ln Body Mass (mg)</text>
<text transform="translate(7.2 413.4) rotate(-90)" text-anchor="middle" class="tt">ln Pronotum Width (μm)</text>
<text x="30.1" y="358.9" class="st">Q R<tspan dy="-2.2" font-size="4.9">2</tspan><tspan dy="2.2"> = 0.02</tspan></text>
<text x="30.1" y="364.1" class="st">Q p = 0.0098</text>
<text x="30.1" y="378.6" class="st">W R<tspan dy="-2.2" font-size="4.9">2</tspan><tspan dy="2.2"> = 0.05</tspan></text>
<text x="30.1" y="383.8" class="st">W p = 0.0001</text>
<path d="M254.6 441.2h0M254.4 429.2h0M248 434.6h0M244.6 451.5h0M245 444.9h0M249.2 433.1h0M250.2 436h0M251.1 434.4h0M255.1 442.1h0M260.6 420.7h0M258.7 448.2h0M265 450h0M258.4 443.3h0M250.9 453.6h0M268.5 442.8h0M250.9 427.8h0M247.2 436.7h0M259.2 433.7h0M260.9 442.5h0M263.2 429.5h0M271.5 444.3h0M272.6 439.6h0M265.7 431.7h0M263 437.3h0M253.5 445.3h0M252.1 437.5h0M259.3 430.8h0M260.5 431.6h0M256.5 441h0M258.5 450h0M270.4 420.1h0M267.3 443.8h0M269.3 429.8h0M266.6 429.3h0M263.5 450.6h0M262.4 431.8h0M265.1 425.3h0M256.7 445.2h0M249.5 440h0M269.1 424.2h0M253.8 433.2h0M270.8 440.4h0M254.3 450h0M273.4 428h0M267.7 445.9h0M272 427.2h0M257.1 421.5h0M255.4 429.2h0M266.2 443h0M261.8 446.3h0M254 427.6h0M259.5 441.2h0M249 433.1h0M248.1 434.3h0M244.8 450.5h0M247.4 453.8h0M250.9 446.6h0M252.3 442.1h0M271.4 443.9h0M249.9 433.6h0M264.9 447.1h0M261.1 449h0M268.2 428.9h0M271.2 427.6h0M248 436.2h0M246.4 437.8h0M258.8 447h0M269 432.5h0M252.1 438.4h0M245.9 435.6h0M267.8 430.1h0M257.2 431.7h0M248.4 443.7h0M266.4 442.8h0M249.4 430.8h0M264.5 449.6h0M270.6 437h0M261.2 443.2h0M259.5 456.5h0M256.6 450.4h0M250.5 432.1h0M255.3 442.7h0M271.2 428.3h0M266.2 436.7h0M249.8 449h0M249 437.3h0M247.6 433.2h0M271.8 421h0M268.1 418.6h0M265.5 428.1h0M258.2 433.7h0M271.8 417.1h0M253.7 430h0M254.1 454.5h0M260 438.8h0M266.5 418.8h0M273.9 421.7h0M272.4 430.9h0M247.5 434.6h0M260.5 430.1h0M262.4 436.9h0M264.7 450.5h0M256.6 429h0M259.9 450.2h0M256.3 446.7h0M248.7 454.2h0M269.9 428.1h0M244.4 439.3h0M256 424.2h0M268.4 430.6h0M273.3 432h0M250.3 453.9h0M269.4 419.2h0M270.4 436.7h0M257.9 451.4h0M249.9 448.7h0M265.4 423.1h0M256.2 424h0M264.9 420.3h0M249.4 433.8h0M258.2 437.6h0M263.5 436h0M250.1 448.6h0M261.2 426.2h0M261.4 433h0M249.2 444.3h0M244.5 439h0M263.1 432.7h0M246.1 438h0M271.2 432.1h0M256.9 450.2h0M264.4 433.8h0M268.1 424.9h0M252.4 447.4h0M244.3 449.1h0M261.5 427.7h0M260.7 450.1h0M263.7 444.5h0M255.9 433.4h0M258.3 425h0M248.5 434.3h0M255.9 454h0M250 435.4h0M269.1 430.4h0M247.8 440.7h0M254.2 453.5h0M263.8 451.8h0M252.7 451.2h0M243.9 438.5h0M246.6 442.4h0M250.2 443.9h0M250.1 431.4h0M252.5 427.3h0M270.5 423.9h0M251 451.4h0M260.3 425.6h0M273.7 435h0M261 427.4h0M256.2 423.7h0M257.4 452.5h0M261.3 439.5h0M259.6 425.5h0M273.7 422.7h0M261.7 446.2h0M252.5 444.3h0M260.4 426h0M257.6 427.2h0M266.2 419.8h0M268.3 439.8h0M263.6 426.7h0M269.8 438.9h0M256.9 434.2h0M271 419.9h0M247.7 448.6h0M264.6 447.3h0M248.6 448h0M266.3 425.6h0M250.6 456.1h0M259.9 449.5h0M273.5 431.1h0M271.3 431.1h0M246.6 440.8h0M256.6 420.1h0M245.8 443.4h0M260 447.8h0M246.7 434.3h0M256.6 427.3h0M252.2 431.5h0M244.6 444.5h0M268.4 429.9h0M259.9 449.7h0M273.9 432.6h0M266.5 441.5h0M257.6 431.5h0M248.2 441.3h0M270.4 432.8h0M266.9 445.1h0M254.6 442.3h0M251.7 427h0M263.8 443.7h0M256.2 449.8h0M255 433.4h0M271 439.9h0M273.3 423.8h0M250.5 438.6h0M260.1 452.5h0M254.2 453h0M271.7 430h0M247 450h0M269.4 442.1h0M261.5 438.1h0M266.3 432.9h0M257.1 423.1h0M263.9 433.3h0M262.2 435.6h0M268.4 422h0M275.5 435.3h0M265.4 446.3h0M259.7 421.1h0M250.9 436.8h0M266.1 444.9h0M267.5 426h0M266.5 422h0M250.5 451.6h0M247 447.1h0M269 440.3h0M268 429.8h0M248.8 431.3h0M252.5 459.8h0M266.2 427.1h0M259.7 424.3h0M262.4 431.2h0M266.5 429.5h0M251.6 453.8h0M257.7 421.3h0M262.1 435h0M254.8 440.6h0M252.4 430.8h0M262.7 437.7h0M264.6 422.6h0M266.8 429.1h0M254.4 453h0M266 443.2h0M260.6 431.2h0M269.4 428.2h0M253.6 424.1h0M270.7 423.8h0M262.4 441.3h0M265.8 444.1h0M250.6 437.1h0M267.7 438.2h0M245.4 450.8h0M252.2 438.8h0M245.6 456h0M261.4 440.6h0M262.5 425.7h0M252.4 457.9h0M256.6 452.3h0M267.7 441.5h0M247.3 437.7h0M258.5 425.7h0M256.5 455.3h0M259.5 430.5h0M271.4 440.3h0M260.6 434.8h0M253.6 444.5h0M255.6 432h0M270.8 421.5h0M274.5 422.3h0M269.7 439.9h0M250.8 445.4h0M257.4 454.7h0M257.9 450.8h0M246 442.7h0M271.9 426.2h0M244.8 447.2h0M263 436.5h0M260.3 421.8h0M261.3 428.9h0M266.8 449.8h0M268.9 428.9h0M253.4 441.2h0M251.2 451.6h0M261.6 428h0M272.3 432.9h0M241.4 434.6h0M265.8 427h0M276 422.8h0M270.3 425.5h0M264.7 426.1h0M273.1 430.5h0M247.6 433.3h0M249.9 448.9h0M270.1 439.7h0M240 438h0M264.3 452.8h0M252.6 444.5h0M260.2 431.7h0M259.3 442.4h0M256.6 434.8h0M258.5 427.7h0M274.2 422.4h0M262.4 446.1h0M274.8 427.4h0M264.8 412.3h0M252.9 445.7h0M240.4 449.9h0M254.9 437.5h0M266.5 458h0M257.7 435.3h0M271.2 417.7h0M252.6 459.5h0M254.3 438h0M275.2 429.2h0M248.2 445.3h0M252.2 438.3h0M240.5 458.9h0M261.4 449.7h0M275.2 438.5h0M272.9 418.9h0M244.9 447.7h0M261.7 449.5h0M261.9 435.2h0M274 429.6h0M268.7 446.6h0M264.2 431.4h0M256.5 448.6h0M257.9 442.7h0M251.7 438.1h0M259 431.3h0M264.6 439.3h0M255.1 449.3h0M260.8 428.5h0M265.1 439.6h0M254.7 437.8h0M265.4 453.7h0M269.4 438.5h0M264.8 424.3h0M262 416.6h0M253.4 431.4h0M243.5 457.4h0M254.9 452.3h0M250.8 441h0M256.2 433h0M272.9 422h0M273.2 451.9h0M269.3 424.2h0M269.3 416.2h0M258.9 439.1h0M247.2 461.8h0M252.6 441.9h0M264.7 443.7h0M265.1 429.3h0M246 437.4h0M253.5 460.7h0M266.1 443.8h0M255.7 439.6h0M249.1 458.9h0M250.3 433.7h0M244.4 428.8h0M238.3 462.8h0M257.9 470.6h0M271.2 426.1h0M247 431.9h0M257.4 443.6h0M274 416.1h0M263.5 433.3h0M269.1 436.3h0M255.5 445h0M263.1 434.9h0M247.2 451.5h0M275.4 431.5h0M259.2 446.8h0M246 440.5h0M261.9 431.6h0M261.9 446.3h0M262.5 428.7h0M249.1 445.7h0M252.3 431.2h0M266.1 432.5h0M259.7 420.9h0M258.4 433.9h0M275.8 426.5h0M256.9 446.8h0M265.6 444.4h0M252.5 435h0M250.3 455h0M256.5 449.1h0M262.2 454.3h0M259.6 426.9h0M261 452.3h0M258.8 447.1h0M256.9 452.7h0M261.6 443.3h0M260.3 454.2h0M269.1 446h0M244.6 433.1h0M253.9 433.1h0M272.2 431.3h0M251 425.4h0M257.6 434.5h0M274.3 431.4h0M267.3 416.9h0M261.3 415.7h0M253.3 419.5h0M257.5 430h0M246.7 449.1h0M268.8 413.2h0M271.2 439.1h0M265.5 450.2h0M226.6 439.3h0M245.3 423.5h0M229.6 441.6h0M218.9 440.7h0M208.1 448.3h0M225.3 446.8h0M242.1 414.4h0M230.5 459.8h0M218 431.6h0M237.5 441.6h0M230.2 435.6h0M219.9 445.2h0M234.3 431.8h0M231.7 433.9h0M243.3 440.5h0M238.2 429.6h0M219.8 446.7h0M224.1 431.5h0M222.6 435.3h0M227.8 450.5h0M237 418.2h0M229.7 430h0M217.4 445.4h0M240.9 440.2h0M236.4 443.2h0M214.7 439.2h0M224 435.1h0M236.4 440.7h0M240 436h0M234.5 444.4h0M227.4 449.7h0M217.1 445.4h0M236.7 446.6h0M235.2 448.8h0M244.3 421.9h0M224.2 434.6h0M244.4 434.9h0M224.4 442.7h0M230 443.6h0M234.6 431.9h0M230.1 445.9h0M230.4 453.7h0M211 441.9h0M214.7 438.8h0M233.9 446h0M242.5 428.2h0M221.6 449.1h0M237.1 430.1h0M212.9 432.1h0M243 446.9h0M235.1 436.9h0M230.7 444.3h0M230.9 438.1h0M245.2 433.2h0M228.3 435.6h0M243.7 444.1h0M217.1 434.3h0M234.6 451.1h0M240.8 445.4h0M234.8 422.9h0M243 436.5h0M222.1 434.5h0M227 425.3h0M225.9 445h0M241.4 440.2h0M226.3 431.3h0M231.7 442h0M213.3 439h0M216.3 446.5h0M225.6 435.7h0M222.7 431.8h0M232.1 448.8h0M225.6 428.8h0M232.7 425.6h0M245.1 436.6h0M227.2 453.4h0M226.9 425h0M222.4 437.9h0M213 449.4h0M240.6 434.2h0M242.7 429h0M219.7 446.7h0M235 435.7h0M239.9 440.2h0M241 429.7h0M241.5 431.6h0M241.5 441.5h0M236.1 427.8h0M243.3 440.1h0M240 431.7h0M262.6 366.5h0M270.2 374.3h0M230.6 379.5h0M255 380.1h0M270.2 381h0M263 382.9h0M265 382.5h0M247.7 384.3h0M259.2 386.2h0M251.2 389.4h0M257.6 388h0M220.7 388.4h0M215.7 393.8h0M218.8 394.7h0M222.6 395.1h0M247.4 397.6h0M261.5 396.6h0M263.4 391.9h0M267.7 393.8h0M265.3 409.6h0M270 414.7h0M259.2 414.7h0M256.3 415.7h0M231.5 472.9h0M263.9 463.3h0M260.1 466.2h0" stroke="#fc7e7e" stroke-width="3" stroke-linecap="square" fill="none"/>
<path d="M317.7 395.6h0M318.3 394h0M319.5 398.8h0M315.5 407.9h0M312.8 387.6h0M301.5 401.7h0M317.2 383.1h0M306 386.5h0M310.7 405.7h0M319.4 389.5h0M317.4 392.4h0M312.9 394.7h0M310.5 404.8h0M317.3 406.2h0M315.6 401.9h0M311.5 401h0M313.2 384.2h0M318.6 404.6h0M310.2 396.2h0M309.9 415.5h0M311.7 402h0M305.3 398.9h0M305.8 391.9h0M316.7 389.3h0M319.1 394.7h0M312.4 386.8h0M316.7 395.1h0M305.3 403.9h0M315.5 410.6h0M304.5 398.6h0M313.5 408.2h0M312 400.4h0M305.8 388.4h0M311 396.4h0M318.3 396.4h0M308.6 416.2h0M302.7 405.7h0M311.7 402.5h0M317.4 404.8h0M306.5 419.4h0M313 407.2h0M319.8 401.7h0M306.7 402.2h0M313 406.2h0M305.2 406.3h0M306.4 406.5h0M308.1 406.1h0M308.9 386.7h0M316.1 385.7h0M318 401.3h0M317.5 397.6h0M306.6 404.9h0M306.1 391.8h0M306.6 408.7h0M314.3 413h0M303.1 416.9h0M308.3 384.8h0M316.7 386.7h0M304.7 407.8h0M306.7 389.2h0M303.9 405.3h0M314.7 388.6h0M310 402.8h0M311.4 385.4h0M317.8 393.3h0M313.5 411.1h0M316.6 401.1h0M309.1 391.1h0M314.8 409h0M306.7 390.5h0M314.1 408.2h0M315 388.9h0M304.5 412.7h0M319.7 407.2h0M307 418.6h0M310.6 402.8h0M317.6 402.1h0M310.8 415.8h0M306.9 391.9h0M317.7 396.1h0M305.1 400.9h0M308.3 411.1h0M308.2 413.5h0M318.3 398.4h0M319.9 401.7h0M314.5 404.8h0M310.6 413.7h0M319.8 397.9h0M308.9 384.2h0M314.5 383.5h0M317.2 394.5h0M313.3 397.9h0M319.6 397.1h0M305.3 391.3h0M309.5 402h0M308.7 385.3h0M312.4 383.8h0M309.2 413.4h0M310.7 384.2h0M317.7 385.2h0M305.1 396.8h0M313.7 388.2h0M303.6 404.3h0M315.9 383.3h0M311.4 384.3h0M304 401.7h0M313 386.5h0M313.9 378.5h0M318.5 393.7h0M307.6 401.2h0M318.4 403.6h0M306.5 408.7h0M305.9 409.9h0M307.4 392.9h0M311.4 414.2h0M307.4 412.2h0M310.2 397h0M313.7 390.9h0M306.5 389.4h0M309.9 395.4h0M312.9 405.4h0M315.4 394.6h0M315.1 389.7h0M317.8 390.4h0M320.2 405h0M301.4 406.5h0M313.9 395.5h0M305 405.6h0M318.9 392.7h0M307.2 391.8h0M310.5 383.7h0M317.6 398h0M316.8 393.6h0M304 406.5h0M303.3 405.5h0M311.7 406.4h0M304.2 402.8h0M310.1 385.6h0M316.7 402.1h0M306.1 407.4h0M304.8 417.1h0M304.4 408h0M312.7 398.7h0M312 413.3h0M304.7 408.6h0M304.8 403.8h0M308.1 409h0M313 399.8h0M316.8 392.9h0M314.5 391.1h0M316.1 394.2h0M312.6 389.2h0M312.6 413.1h0M304.8 394.6h0M314.3 391.6h0M307.8 405.5h0M304.2 406.5h0M320.2 385.4h0M318.5 386.9h0M315.6 400.7h0M307.4 392.7h0M317.6 406h0M310.3 380.2h0M306.2 392.7h0M310.9 385.1h0M319.3 396.1h0M312 385.6h0M305.9 401.5h0M313.1 398.7h0M317.3 391.7h0M320 391.5h0M308.4 391.5h0M316.9 385.8h0M304.9 398.5h0M305.3 394h0M315.2 403.1h0M319.9 398h0M309.8 387.4h0M319.3 406.6h0M312.4 380.2h0M303.5 415.4h0M319 388.8h0M306.2 402.9h0M306 402.7h0M311.7 382.7h0M310.2 400.6h0M312.3 402.3h0M307.3 410.1h0M315.9 381.5h0M317.6 391.9h0M316.1 389.1h0M320.1 390.5h0M319.4 396h0M309.3 405.4h0M308.5 389.5h0M305.6 394.7h0M306.2 389.4h0M304.5 411.6h0M308.5 389.1h0M308.7 409.9h0M319.4 401.3h0M307 407.2h0M312.6 395.5h0M304.4 390.6h0M310.8 410h0M320.4 386.5h0M307.5 417.4h0M319.6 384.9h0M314.3 404.1h0M305.5 411.2h0M305.3 411.4h0M316.9 405.3h0M310.3 386.2h0M307 408.4h0M306.6 390h0M319.1 394.6h0M312.9 386.1h0M313 413.4h0M310.8 408.2h0M315.7 401.7h0M303.7 413.3h0M308.4 393.2h0M316.1 396.1h0M314.7 406.7h0M304.3 408.6h0M309.2 415.7h0M303.9 398.1h0M311.4 387.2h0M310.9 387.8h0M305.8 394h0M313.5 386.1h0M306.2 402.3h0M315 411.9h0M308.5 389.9h0M310.9 405.3h0M314.8 402.1h0M306.7 384.7h0M304.7 413.9h0M309 399.6h0M306 396.9h0M311.9 382.5h0M315.3 385.1h0M308.8 405.1h0M306.6 415.5h0M308.6 418.3h0M309.8 394.8h0M301.3 411.8h0M305.2 397.4h0M313.6 388.3h0M306.7 409.2h0M307.4 414.7h0M310.2 387.9h0M317.4 410h0M308.9 391.5h0M307.6 418.5h0M306.8 390.2h0M316.1 386.8h0M309.3 388.3h0M313.1 408.9h0M306.1 396h0M312.6 411.9h0M317.1 395.7h0M311.3 393.6h0M312.5 395.8h0M305.3 396.6h0M301.8 403.7h0M305.6 416.6h0M308.5 416.3h0M315.8 402.4h0M318.5 399.2h0M308.2 410.6h0M309.7 417.8h0M310.9 389.3h0M312.7 415.7h0M309.7 390.1h0M304 405.3h0M318 404.8h0M305 396.9h0M320 392.7h0M310.4 404.7h0M312.4 393.5h0M298 395.7h0M313.6 391.3h0M310 406.4h0M317 396.3h0M303.8 413.1h0M321.4 385.9h0M302 393.3h0M305.9 412.5h0M298.9 404.9h0M304.7 394.7h0M305.4 397.4h0M311 396.5h0M318.2 413h0M300.4 407.4h0M315.5 400.2h0M316.7 400.4h0M312.4 410.1h0M308 387.5h0M319.5 378.8h0M317.5 396.7h0M310.7 399.2h0M309 385.6h0M306.6 402.4h0M314.9 396.8h0M310.2 403.5h0M300.2 416.3h0M307.1 394h0M309.9 380.6h0M315.7 415.3h0M317.6 395.7h0M312.3 425.2h0M310.5 402.9h0M307.1 412.2h0M308.4 396.3h0M305.9 424.4h0M306.2 383h0M310.7 421.2h0M306.8 402.1h0M309.8 395.4h0M288.7 389.4h0M299.2 389h0M314.4 377.2h0M291.6 408.1h0M296.3 413.4h0M307.8 421h0M320.1 402.4h0" stroke="#0000c0" stroke-width="3.2" stroke-linecap="round" fill="none"/>
<line x1="206.9" y1="446.3" x2="275.5" y2="433.7" stroke="#000" stroke-width="1.5"/>
<line x1="289" y1="412.1" x2="320.1" y2="392.3" stroke="#000" stroke-width="1.5"/>
<path d="M202.5 349.9H330.2V477.5H202.5Z" fill="none" stroke="#1c1c1c" stroke-width="1.25"/>
<text x="197.5" y="462.2" text-anchor="end" class="tk">7.2</text>
<text x="197.5" y="434.8" text-anchor="end" class="tk">7.5</text>
<text x="197.5" y="407.5" text-anchor="end" class="tk">7.8</text>
<text x="197.5" y="380.2" text-anchor="end" class="tk">8.1</text>
<text x="197.5" y="352.8" text-anchor="end" class="tk">8.4</text>
<text x="220.7" y="489.4" text-anchor="middle" class="tk">3</text>
<text x="257.2" y="489.4" text-anchor="middle" class="tk">4</text>
<text x="293.7" y="489.4" text-anchor="middle" class="tk">5</text>
<text x="330.2" y="489.4" text-anchor="middle" class="tk">6</text>
<path d="M199 459.3H202.5M199 431.9H202.5M199 404.6H202.5M199 377.2H202.5M199 349.9H202.5M220.7 477.5V481.3M257.2 477.5V481.3M293.7 477.5V481.3M330.2 477.5V481.3M239 477.5V479.7M275.5 477.5V479.7M312 477.5V479.7" stroke="#1c1c1c" stroke-width="1.2" fill="none"/>
<text x="266.4" y="500.7" text-anchor="middle" class="tt">ln Body Mass (mg)</text>
<text transform="translate(183.6 413.7) rotate(-90)" text-anchor="middle" class="tt">ln Gaster Segment Length (μm)</text>
<text x="291.3" y="451.5" class="st">Q R<tspan dy="-2.2" font-size="4.9">2</tspan><tspan dy="2.2"> = 0.11</tspan></text>
<text x="291.3" y="456.7" class="st">Q p = 0.0001</text>
<text x="291.3" y="468.3" class="st">W R<tspan dy="-2.2" font-size="4.9">2</tspan><tspan dy="2.2"> = 0.02</tspan></text>
<text x="291.3" y="473.5" class="st">W p = 0.0002</text>
<path d="M437.4 405.9h0M429.9 431.5h0M442.5 416.2h0M438.3 411.9h0M438.3 421.4h0M426.7 432.4h0M434.1 429.6h0M445.9 423.6h0M422.6 421.3h0M423.8 431.2h0M438.4 418.9h0M443.7 415.5h0M430.4 431.2h0M424.6 428.9h0M434.3 417.9h0M432.8 436.3h0M429.9 423.8h0M440.4 408.8h0M430.6 409.9h0M425.1 430.7h0M434.9 419.5h0M434.7 403h0M440 417.1h0M439.3 429.9h0M442.7 417.3h0M440.4 427.2h0M435.9 415.4h0M445.1 403.2h0M431.5 431.2h0M441 413.2h0M426.9 424.4h0M436.9 424.2h0M431.5 407.6h0M431.2 424.2h0M429.3 417.4h0M429.7 435.7h0M443.7 423.7h0M439.1 430.7h0M440.7 424.9h0M444.2 400.7h0M441.2 396.5h0M423.8 416.9h0M445.2 413.7h0M440.3 410.4h0M435 414.4h0M430.7 436.7h0M439.3 415.1h0M442.4 420.7h0M444 407.2h0M422.9 428.2h0M450.3 402.2h0M436.3 410.8h0M429.9 421h0M422.7 421.8h0M422.3 419.6h0M432.9 429.2h0M424.6 413.8h0M435.2 411.3h0M440.5 408.5h0M437.6 428.4h0M449.5 415.9h0M424.6 425.9h0M427.3 431.2h0M433 405.2h0M427.8 425.8h0M442.5 405.2h0M448 399h0M434.6 406h0M436.4 405.9h0M433.8 420.5h0M432.2 433h0M444.1 417.6h0M447.5 403.1h0M442.5 406.5h0M427.4 435.7h0M422.7 411.6h0M436.4 426.7h0M442.2 409.8h0M433.5 423.8h0M439.4 413.3h0M429 435h0M425.3 423.6h0M430.2 421.9h0M433 429h0M446.9 408.5h0M441.4 423.5h0M432 433.8h0M437.5 424.9h0M426 423.4h0M445.8 407h0M433.3 415.1h0M440.9 403.2h0M437.5 404h0M434.7 433h0M449.5 409.2h0M437.6 430.8h0M437.6 426.7h0M425 434.9h0M428.4 423.7h0M426.5 412.6h0M433.5 408.3h0M431.7 434.2h0M445.8 417.4h0M427 409h0M422.5 431.4h0M449.6 400.9h0M444.6 419.9h0M428.8 405.8h0M438.8 425.3h0M442.3 416.3h0M440 407.2h0M442 402.9h0M431.3 429.6h0M427.1 422.9h0M435.3 419.7h0M440.1 401.1h0M427.3 411h0M429.1 427.7h0M436.8 423.1h0M428.1 427.2h0M448.7 414.7h0M439.4 419.5h0M439.9 402.8h0M435.5 401.1h0M444.6 417.3h0M440.6 404.9h0M422.2 428h0M444.9 395.2h0M435.7 425.8h0M430.4 431.9h0M422.4 421.5h0M433.1 411.9h0M442.5 403.2h0M439.1 430.5h0M438.6 430.8h0M444.7 412.8h0M425.5 427.6h0M446.7 403.7h0M434.7 404.8h0M440.3 421.1h0M433.8 411.5h0M427.5 435.2h0M441 397.7h0M422.6 416.6h0M434.4 432.5h0M441.6 399.8h0M434 433.1h0M441.9 397.4h0M427.7 415.7h0M446.2 418.2h0M438.8 419.3h0M437.6 404.1h0M424.1 438.6h0M442.1 405.8h0M432.9 416h0M429.2 432h0M424.6 423.6h0M437.9 418.6h0M436.8 432.3h0M441.3 429.5h0M435.5 434h0M432.5 423.9h0M438.6 403h0M432.7 426h0M434 423.4h0M422.5 417.7h0M431.6 408.6h0M439.1 424h0M439.5 419.5h0M446.5 418.9h0M425.7 413.5h0M442.3 407.3h0M440.7 405.8h0M433.3 412.7h0M440.6 426.4h0M437.7 420.3h0M446.9 414h0M443.3 426.9h0M424.4 433.1h0M431.8 430h0M428.4 411.5h0M442 410.4h0M429.6 417.8h0M448.2 413.2h0M443.3 428.3h0M423.2 415.1h0M431.6 427h0M424.5 413.8h0M445.4 401.6h0M433.2 415.5h0M431 415.8h0M426.4 433.5h0M431.9 422.7h0M443.4 409.9h0M421.1 416h0M436.3 415.5h0M443.4 407.6h0M429.7 434.2h0M435 427.3h0M448.5 405.5h0M420.9 428.8h0M442.4 399.2h0M428.6 411.2h0M443.1 425.4h0M441.1 400.7h0M424.8 427.2h0M422.6 414.5h0M436.3 424.9h0M421.7 419.1h0M447.4 417.1h0M437.8 416.1h0M441.6 406.9h0M445.7 408.9h0M429 411.1h0M441.3 398.3h0M429.6 430.6h0M432.5 407.9h0M440.3 433.4h0M426 434.5h0M432.6 436.9h0M433.2 429.8h0M424.8 421.2h0M442 419.3h0M433.1 438.5h0M448.9 412.2h0M436.8 416h0M444.9 419.2h0M426.9 417.1h0M433.3 423.9h0M429.7 424.4h0M428.2 408.7h0M432.5 423.9h0M446.2 410.3h0M437.7 427.9h0M434.7 416.7h0M447.5 410.7h0M431.1 431.2h0M443.1 413.6h0M428.7 408.7h0M447 414.8h0M433.6 428.6h0M450.1 397h0M432.9 432.5h0M447.6 417h0M436 433.2h0M437 399.4h0M429.1 428.9h0M425.4 414.9h0M441.3 421.5h0M430.1 409.9h0M430.2 417.3h0M433.1 409.7h0M442.2 398h0M440.8 425.4h0M422.7 424h0M423.1 414h0M435.4 433h0M443.7 426.7h0M433.2 418.5h0M440 417.4h0M434.7 420.5h0M443.2 403.5h0M436.3 427.7h0M442.2 428.8h0M435.6 435.2h0M422.6 434.5h0M422.6 424h0M424.7 435h0M420.8 417.6h0M446.1 401.7h0M445.2 409.1h0M444.2 404.4h0M427.9 438h0M426 419.1h0M444.9 391.9h0M431.2 447.1h0M435.3 411.2h0M441.7 423.1h0M428.7 417.6h0M434 426.5h0M442.8 406.1h0M444.8 401.4h0M430.6 419.7h0M433.6 397.7h0M439.4 398.5h0M423 412.7h0M447.6 409h0M438.3 412.3h0M430.5 415.7h0M436.1 398.5h0M444.4 391.9h0M441.1 414.8h0M446.8 406.2h0M444.4 398.6h0M423.2 411.9h0M451.8 417.3h0M433.2 418.3h0M443.8 394.9h0M447.5 404.4h0M421.7 433.4h0M451.2 429.9h0M428.8 440.4h0M437.2 419.9h0M434.2 420.1h0M440.6 411.2h0M450.3 415.1h0M431.4 402.3h0M425 430h0M442.7 399.3h0M451 422.1h0M445 396h0M434.5 392.6h0M437.5 410.9h0M428.5 413.8h0M443.7 405.9h0M430 428.9h0M435.2 434.8h0M420.1 426.3h0M440.2 410.8h0M444.9 398.9h0M451.1 403.9h0M417.8 439.8h0M417.3 410.2h0M432 423.2h0M442.2 412.1h0M430.6 428.9h0M443.2 422.2h0M432 418.8h0M450 402h0M422.5 421.7h0M431.5 406.3h0M437.8 402.3h0M438.2 416.6h0M421.5 426.9h0M444 426.4h0M437.4 416.5h0M426.2 426h0M440 427.3h0M441.6 419.4h0M416.7 430.5h0M451.5 405.4h0M439.9 416.6h0M419.5 438.1h0M425.6 420.5h0M434 409.6h0M445.5 419.8h0M445.8 399.6h0M430.4 414.9h0M428.8 425.2h0M421.3 438.6h0M438 407.2h0M439.2 415.9h0M425.5 439.2h0M431.2 425.7h0M431.7 408.4h0M442.6 419.3h0M433.6 420.6h0M440.9 423.5h0M432.3 404.5h0M432.1 422.7h0M434.4 420.7h0M435.2 411.5h0M430.8 420.3h0M433.6 439.2h0M426 423.1h0M443.3 411.5h0M419.6 449.9h0M429 423.6h0M437.7 413.4h0M438.5 411.7h0M430.5 418.4h0M432.8 421.9h0M434.2 418.9h0M432.6 420.4h0M435.4 416.8h0M431.3 415.4h0M442.6 417.6h0M442.9 411.5h0M446.7 405.6h0M443.3 427.4h0M446.9 418.4h0M451.9 392.8h0M442.5 402.2h0M451.4 427.4h0M431.7 414.9h0M433.1 432.9h0M427.9 416.7h0M435.4 432.2h0M431.8 414.8h0M447.1 402h0M435.6 417.5h0M445.3 423.8h0M432.1 414.5h0M450 395.5h0M416.5 420.6h0M395.9 436.8h0M410.1 426h0M421.8 428h0M387.9 433.1h0M405.7 430h0M401.8 422.4h0M391.8 413.5h0M410.6 413.8h0M412.8 425.3h0M416.4 414.2h0M407.6 415.6h0M404.8 426.4h0M400.4 434h0M405.7 413h0M400.8 439.7h0M394.1 437.3h0M405.1 429.6h0M418.2 409.1h0M421.2 419.2h0M411.3 415.3h0M403.3 413.7h0M388 436.2h0M413.1 410.5h0M389.8 431.2h0M416 415.6h0M400.6 415.9h0M386.6 418.1h0M412.3 436.5h0M393.9 439h0M420.5 429.5h0M390.8 423.3h0M392.5 420.7h0M396.4 417.2h0M420.4 425.5h0M418.5 404.4h0M406.2 424.8h0M420.2 431h0M411.5 413.1h0M410.9 446.3h0M385.8 434h0M417.9 400.7h0M391 419.3h0M400.9 425.3h0M417.6 418.3h0M414.3 433.5h0M406.8 420.3h0M388.5 433.2h0M397 430.3h0M402.2 439.7h0M406.2 425.1h0M403.7 408h0M386.1 419.4h0M420 419.3h0M392.9 445.3h0M411.3 437.2h0M408.2 442.6h0M401.7 422.4h0M403.7 412.6h0M412.4 416.9h0M418.2 442.7h0M420.3 430.4h0M418.5 429.3h0M404.1 418.8h0M417.8 429.6h0M402.7 419h0M393.7 429.7h0M383.2 432.9h0M391.3 429.4h0M412 434.6h0M411.7 408.8h0M402.8 421.6h0M414.4 425h0M413.1 425.7h0M391.2 436.2h0M387.7 422.9h0M395.4 416.6h0M412.1 414h0M404.2 422.6h0M386.7 420h0M398.2 431.7h0M403.5 415.9h0M397.8 417.1h0M394 430h0M416.7 423.4h0M393.4 436.4h0M382.9 434.4h0M416.6 433.1h0M399 424.1h0M438.6 357h0M429.1 376.2h0M446.6 375.7h0M439.5 380h0M443.3 380h0M427.2 383.9h0M433.3 383.9h0M418.4 390h0M411.3 391.3h0M430.4 472.9h0M408.5 451.9h0M416.7 452.5h0M436.7 456.3h0M427.2 449h0M433.3 449h0M440.5 451.9h0M402.4 443.3h0" stroke="#fc7e7e" stroke-width="3" stroke-linecap="square" fill="none"/>
<path d="M490.9 363.6h0M485.8 371.4h0M490.9 368.3h0M494.2 378.4h0M487 371.8h0M487.4 370.7h0M489 378.6h0M488.5 380.3h0M486.2 356.8h0M488.9 376h0M482.4 372.3h0M482.6 380.3h0M487.7 378.5h0M484.7 385.5h0M484.6 361.1h0M490.5 374.4h0M486 385.3h0M495.3 363.9h0M487.6 386.7h0M482.4 378.3h0M483.1 369.4h0M490.8 362.8h0M488.6 374h0M482.2 374.6h0M493.8 380.9h0M483.3 360.1h0M490 373h0M483.9 390.2h0M484.4 385.1h0M490.2 382.7h0M492.2 382.8h0M487 370.2h0M493.2 355h0M481.8 378.4h0M491.9 381.5h0M489.1 360.2h0M486.1 366.6h0M487.2 360.3h0M485.6 374.9h0M484.1 364.3h0M487.6 363h0M492.9 368.9h0M492.8 369.4h0M488.5 361.5h0M482.6 386.5h0M485.7 382.7h0M488.8 386.5h0M487.7 389.2h0M486.2 356.2h0M495.1 375.1h0M484.3 381.7h0M482.8 367.5h0M487 370.6h0M491.1 382.5h0M492.7 380.1h0M483.7 362.1h0M490 356.9h0M493.7 373.4h0M481.6 370.5h0M485.3 382.1h0M492.3 382.7h0M482.5 384h0M490 362.6h0M482.8 373.4h0M480.1 377.2h0M482.8 363.2h0M482.5 379.1h0M480.9 377.9h0M482.1 362.8h0M489.2 354.5h0M491.9 383.5h0M492.3 362.5h0M482 378h0M486.7 356.2h0M481.2 384.9h0M494.6 366.8h0M488.7 381.7h0M488.1 382h0M490.4 384.7h0M489.6 359h0M486.1 385.3h0M488.9 374.3h0M488.8 359.7h0M488.3 364.2h0M487.4 367h0M484.4 381.6h0M481.8 378h0M491.5 375.6h0M488.7 388.4h0M494.6 372h0M490.7 380.6h0M493.5 376h0M484.1 358.5h0M484.5 361.8h0M491.1 358.4h0M491.4 357.4h0M491.7 357.2h0M483.4 377.2h0M484.3 368.7h0M488.4 365.8h0M492.7 365.6h0M492.6 360.7h0M484.7 357.5h0M492 365.5h0M482.7 369.5h0M488.7 386.4h0M480.5 375.5h0M483.4 385.7h0M486.9 385.8h0M485.7 388.4h0M491.2 368.4h0M480.6 382h0M487.1 372.3h0M490.8 356.9h0M487.1 388.9h0M483.2 375.2h0M493.6 376h0M483.7 382h0M484.9 377.2h0M484 364.2h0M487.7 382.8h0M492.4 365.8h0M492.1 367.3h0M490.7 369.4h0M479.5 377.7h0M487.6 359.6h0M485.8 375.5h0M486.8 390.9h0M489.1 364.2h0M490.3 377.5h0M482.3 384.2h0M494.3 371.2h0M485.2 377.8h0M493.7 370.4h0M485.3 371.2h0M492.4 381.7h0M486.9 362.1h0M490.4 386.6h0M481.1 369.4h0M482.8 387.9h0M483.6 370.9h0M488 386.3h0M485.2 380.5h0M486.9 366.3h0M487.6 377.9h0M481.4 359.5h0M488.1 390h0M482.1 367.8h0M493.6 377.1h0M486.8 366.1h0M487.6 365.4h0M488.9 365.9h0M491.7 380.9h0M482.3 376.7h0M491.2 357.6h0M488.3 375h0M489.2 371.3h0M481.7 387h0M490.1 378.1h0M489.9 372.5h0M487.8 362.6h0M483.6 361.6h0M494.5 362h0M489.7 367.9h0M489.6 367.1h0M485.6 364.8h0M489.4 373.5h0M483.4 393.1h0M479.3 374.1h0M486.1 380.7h0M483.4 373.6h0M494.4 385.8h0M493.9 386.3h0M496.4 360.2h0M486.8 375.1h0M492.5 362.5h0M485.4 390.3h0M486.1 368.4h0M477.9 379.1h0M487.3 357.2h0M488.7 360.3h0M492.9 357.9h0M482.3 360.1h0M484.3 380.6h0M488.6 374.5h0M467.6 402h0M487.2 402.7h0M468.8 376.6h0M472.3 384.3h0M488.5 396.6h0M490.4 396.6h0M488.1 393.2h0" stroke="#0000c0" stroke-width="3.2" stroke-linecap="round" fill="none"/>
<line x1="383.4" y1="432.4" x2="451.7" y2="407.8" stroke="#000" stroke-width="1.5"/>
<line x1="464.3" y1="377.2" x2="498.2" y2="366.4" stroke="#000" stroke-width="1.5"/>
<path d="M378.8 349.9H506.4V477.8H378.8Z" fill="none" stroke="#1c1c1c" stroke-width="1.25"/>
<text x="373.8" y="480.7" text-anchor="end" class="tk">7.2</text>
<text x="373.8" y="466.5" text-anchor="end" class="tk">7.3</text>
<text x="373.8" y="452.3" text-anchor="end" class="tk">7.4</text>
<text x="373.8" y="438.1" text-anchor="end" class="tk">7.5</text>
<text x="373.8" y="423.9" text-anchor="end" class="tk">7.6</text>
<text x="373.8" y="409.7" text-anchor="end" class="tk">7.7</text>
<text x="373.8" y="395.4" text-anchor="end" class="tk">7.8</text>
<text x="373.8" y="381.2" text-anchor="end" class="tk">7.9</text>
<text x="373.8" y="367" text-anchor="end" class="tk">8.0</text>
<text x="373.8" y="352.8" text-anchor="end" class="tk">8.1</text>
<text x="397" y="489.7" text-anchor="middle" class="tk">3</text>
<text x="433.5" y="489.7" text-anchor="middle" class="tk">4</text>
<text x="469.9" y="489.7" text-anchor="middle" class="tk">5</text>
<text x="506.4" y="489.7" text-anchor="middle" class="tk">6</text>
<path d="M375.3 477.8H378.8M375.3 463.6H378.8M375.3 449.4H378.8M375.3 435.2H378.8M375.3 421H378.8M375.3 406.7H378.8M375.3 392.5H378.8M375.3 378.3H378.8M375.3 364.1H378.8M375.3 349.9H378.8M397 477.8V481.6M433.5 477.8V481.6M469.9 477.8V481.6M506.4 477.8V481.6M415.3 477.8V480M451.7 477.8V480M488.2 477.8V480" stroke="#1c1c1c" stroke-width="1.2" fill="none"/>
<text x="442.6" y="501" text-anchor="middle" class="tt">ln Body Mass (mg)</text>
<text transform="translate(359.4 413.9) rotate(-90)" text-anchor="middle" class="tt">ln Femur Length (μm)</text>
<text x="384.1" y="359" class="st">Q R<tspan dy="-2.2" font-size="4.9">2</tspan><tspan dy="2.2"> = 0.04</tspan></text>
<text x="384.1" y="364.2" class="st">Q p = 0.0001</text>
<text x="384.1" y="376.4" class="st">W R<tspan dy="-2.2" font-size="4.9">2</tspan><tspan dy="2.2"> = 0.12</tspan></text>
<text x="384.1" y="381.6" class="st">W p = 0.0001</text>
<path d="M618.3 421.1h0M621.9 428.6h0M616.3 409.9h0M613.9 405.3h0M600.3 426.7h0M612.7 404.9h0M605.8 437.9h0M616 416.8h0M605.3 404.3h0M600.5 416.7h0M608.6 438.2h0M615.8 412.2h0M620.3 413.7h0M621.8 406.4h0M610.9 403.8h0M603.5 431.8h0M616.4 426.4h0M607.4 432.7h0M612 414.1h0M619.7 432.4h0M618.5 406.7h0M603.5 435.1h0M621.3 422.2h0M617.7 413.3h0M598.6 418.1h0M606.4 417h0M616 428.6h0M600.1 414.8h0M616.3 416.4h0M604.6 433.8h0M602 429.1h0M623.6 421.5h0M611.6 412.2h0M615.3 432.2h0M624 416.8h0M625 421.1h0M608.5 416.2h0M608.2 420.2h0M606.5 433.5h0M598.5 428.5h0M604.8 422.4h0M611.1 404.8h0M609.3 416.4h0M608.7 432.8h0M604.7 414.7h0M615.7 412.5h0M600.2 416.9h0M611.9 414.4h0M614.1 402.1h0M610.4 418.6h0M610.7 413.1h0M619.4 424h0M611.9 427.3h0M610.5 425.4h0M612.4 405h0M614.8 407.8h0M609.2 430.3h0M612.9 429.2h0M609 414.6h0M600.9 412.2h0M608.8 436.5h0M622.2 412.5h0M609.4 427h0M617.1 430.8h0M615.8 413.1h0M620.5 418.2h0M608.6 423h0M618.7 402.6h0M598.3 431.7h0M623.2 418.2h0M604.7 418.4h0M597.9 428h0M613.9 415.8h0M611.6 435.5h0M616.4 403.4h0M603.5 410.6h0M609.4 432.4h0M617.4 405.6h0M624.4 415.2h0M616.6 407h0M623.5 423.4h0M617.6 432.8h0M612.2 422h0M626.3 411h0M620.8 408.9h0M612.4 432h0M601.7 419.9h0M597.2 424.9h0M599.7 434.4h0M618.6 409.8h0M599.4 423.2h0M600.3 424.1h0M615.1 430.4h0M599.5 421.7h0M603.3 417.2h0M620.4 422.7h0M620.6 420h0M612.9 438h0M624.2 412.2h0M608.6 428.5h0M603.8 422.8h0M615.5 423.4h0M612.3 433.9h0M608.7 415.7h0M623.7 412.8h0M621.1 408.2h0M608.6 438.7h0M616.1 423.7h0M609.8 434.3h0M611.3 437.7h0M616.2 422h0M611.7 412h0M618.7 405.9h0M623.9 410.9h0M600.3 413.4h0M599 428.9h0M618.6 423.7h0M617.6 419.8h0M604.5 414.4h0M620.2 432.6h0M612.4 408.6h0M615.1 432.9h0M614.7 432.9h0M607.9 417h0M614.7 423.2h0M616.2 414.2h0M609.5 415.8h0M609.9 418.4h0M615.4 409.3h0M618.1 429.4h0M602.9 410h0M599.2 422.5h0M614.4 424.1h0M611.9 402.7h0M611.6 412.3h0M610.2 430h0M601.8 412.8h0M599.3 439.3h0M613.5 408h0M603.8 430.4h0M621.9 416.1h0M610.5 404.7h0M611.5 437.6h0M613.9 425.2h0M606.3 432.5h0M611.2 413.6h0M620.1 405.6h0M608.2 426.1h0M618.3 434.1h0M621.5 420.3h0M621 428.6h0M606.1 433.2h0M602.4 417.2h0M621.7 410.8h0M606 414h0M614.4 435.8h0M606.9 412.7h0M614.7 417.4h0M613.5 437h0M610.7 404.3h0M620.9 427.1h0M612 433.4h0M617.6 423.2h0M610 429.9h0M602 422.5h0M625.7 408.2h0M604.6 408.4h0M614.7 411.5h0M610.7 413.2h0M623.6 423.7h0M618.5 433.3h0M624.1 415.1h0M617.9 420.5h0M624.2 412.1h0M611.8 429.6h0M618.8 423.5h0M599.4 419.1h0M617.2 417.3h0M611.5 425.2h0M609.2 417.8h0M600.6 430.3h0M620 415.5h0M622.1 413.6h0M601.5 435h0M607 408.8h0M622.6 404.1h0M610.5 423.4h0M603.5 421.3h0M602.7 425.4h0M610 431.8h0M613.4 439.3h0M605.6 434.2h0M619.8 426.6h0M621.3 411.5h0M618.7 407.9h0M612.4 423.7h0M607.3 406h0M618 404.2h0M617.9 402.8h0M618.4 419.7h0M607.2 405.9h0M603.4 410.8h0M600.7 426.3h0M609.1 407h0M618.2 424.2h0M611.1 410.6h0M620.4 425.8h0M602.5 430h0M609.8 423.5h0M622.6 421.9h0M623 426.6h0M622 425.7h0M608.9 419.2h0M603.6 440h0M611.1 431h0M618.3 410.8h0M603.8 418.8h0M622.1 407.9h0M618.1 414.6h0M615.5 415.1h0M617.3 423h0M605.6 418.4h0M611.4 406.9h0M597.1 428.4h0M617.4 434.3h0M615.2 410.4h0M623.2 417.7h0M617.8 433.5h0M602.9 436.6h0M608.8 420h0M611.4 410.3h0M607.8 422.3h0M616.6 412.9h0M607.5 410.7h0M609.1 412.5h0M608.7 432.6h0M609.4 439.9h0M617.9 424.6h0M611.2 411.5h0M601.4 414.5h0M617.1 416.3h0M610.5 402.4h0M602.1 424.5h0M616.4 402.1h0M617.4 426h0M603.6 421.5h0M600.5 421h0M611.7 415h0M616.9 423.7h0M607.6 409.3h0M615.9 427.6h0M620.3 424.5h0M609.5 433.2h0M618.8 422.5h0M611.2 415h0M606.8 452.3h0M597.4 436.6h0M627 410.7h0M622.1 400.8h0M609.3 424.2h0M601.7 415.2h0M599.6 415.1h0M603.6 415.8h0M618.4 428.3h0M606.7 421.9h0M599 441.6h0M604.4 417.7h0M601.5 404.8h0M609.1 428.9h0M598.7 453.4h0M627.2 402h0M610 419.6h0M624.3 411.6h0M618.5 433h0M601.9 428h0M605 426.1h0M620 387.5h0M617.6 428.5h0M617.9 417.5h0M615.6 410.8h0M595.2 426.6h0M609.8 426.5h0M614.8 422h0M587.9 432.8h0M621.1 410h0M615.1 427.5h0M603.4 402h0M614 424.3h0M618.4 404.6h0M619.3 419.6h0M613.1 441.6h0M613.1 414.1h0M621.5 410.6h0M610.1 416.8h0M607.2 432.8h0M604.8 410.4h0M617.3 416.9h0M604.4 426h0M604.9 416.8h0M602.3 415.6h0M606.4 437h0M614 406.7h0M607.4 388.5h0M610.6 417.3h0M619.6 413.7h0M603.5 434.6h0M606 412.6h0M600.5 415.5h0M625.6 417.2h0M618.7 435.1h0M626 414.8h0M627.3 418.9h0M614.5 424.2h0M613.2 432.4h0M588.3 426.9h0M613.6 426.2h0M597.7 414h0M616.8 444.2h0M589.7 431.6h0M612 412.3h0M598.7 406.5h0M593.7 429.6h0M612.6 421.6h0M600.1 419.4h0M614.6 413.5h0M605.1 435.7h0M619.7 426.2h0M617 425.3h0M593.9 416.6h0M613.6 413.9h0M606 418.6h0M606.3 439.4h0M614 419.3h0M612.2 405.7h0M599.7 433.6h0M622 419.1h0M620.6 406.5h0M602.9 410.9h0M610.2 423.4h0M613.1 409.8h0M604.2 411.2h0M606.1 448.1h0M610.5 432.2h0M615.4 438.8h0M594.5 418.1h0M613.2 409.9h0M604.3 426.7h0M603.9 437.5h0M611.7 424.2h0M618.5 415.1h0M610.9 416.2h0M610.6 409.8h0M606.6 432h0M605.7 431.7h0M613.8 421.5h0M611.1 421.9h0M617.6 425.5h0M626 422h0M611.8 404.2h0M596.1 413.8h0M599.5 433.8h0M616.5 423.2h0M614.2 417.4h0M618.1 428.3h0M619.7 405.5h0M614.5 429.1h0M611.5 420.9h0M610.9 436.7h0M604.7 422.8h0M590.3 431.6h0M597.4 407.6h0M595.5 438.3h0M578.2 440.4h0M589.4 426.9h0M593.8 425.2h0M574.1 414.6h0M574.3 419.6h0M581.5 425.5h0M560.3 425.8h0M573.8 420.8h0M581.7 414.2h0M594.9 400.1h0M584.2 423.7h0M593.1 414.7h0M585.2 421.2h0M568.3 413.9h0M580.4 416.1h0M580.2 416.2h0M576.8 427.7h0M564.9 414.3h0M589 413.4h0M595.8 426.9h0M581.9 425.7h0M578.7 423.4h0M567.7 431h0M582.1 419.1h0M562.4 420.2h0M593 405.9h0M591.2 413.8h0M596 416h0M597.4 432.3h0M576 418.7h0M570.7 438.1h0M575.8 416.6h0M595.2 412.4h0M595.4 423.8h0M566.6 422.7h0M596.2 404.3h0M588.9 408.5h0M576.4 428h0M582.8 422.5h0M571.6 416.9h0M589.4 409.7h0M590.8 437.4h0M590.4 421.8h0M587.4 408.7h0M589.4 414.5h0M574.4 422.6h0M586.7 421.8h0M589.4 424.4h0M584.2 425.4h0M579.2 427.2h0M572.1 420.9h0M591.3 418.1h0M572.3 416.4h0M576.7 420h0M596.9 418.5h0M596.3 405.7h0M582.2 418.3h0M596.7 425.3h0M573.1 413.7h0M592.5 414h0M588.1 418h0M595.2 420h0M566.3 416.6h0M590.5 425.5h0M581.6 419.2h0M579.6 429.1h0M592.4 408.7h0M577 417.8h0M584.7 431.5h0M573.9 415.2h0M576 420.5h0M564.7 429.9h0M593.7 406.5h0M562.9 421.9h0M593.6 417.8h0M571.3 413.5h0M577.5 426.1h0M583.3 419.7h0M586.5 415.4h0M566.3 429.3h0M595.8 408.6h0M582.2 419.2h0M579.9 411.8h0M569.4 404.3h0M581 429.5h0M576.5 423.3h0M561.7 418.2h0M617.5 389h0M622.6 392.4h0M621.6 398.2h0M626 401.4h0M594.4 402.9h0M599.4 471.5h0M584.5 448.5h0M602.6 454.8h0M606.4 452.9h0M615.4 451.3h0M621.1 448.5h0M574 435.1h0M577.8 434.7h0" stroke="#fc7e7e" stroke-width="3" stroke-linecap="square" fill="none"/>
<path d="M664.2 382.6h0M664.8 383.3h0M657.4 391.7h0M660.5 384.7h0M661.1 382.3h0M669.4 381h0M668.2 390.8h0M667.4 381.5h0M657 393.4h0M653.8 393.5h0M664.2 396.5h0M668 379h0M663.3 400.3h0M668 394.6h0M664.1 392.2h0M661.1 384.9h0M660.9 382.6h0M660.8 403.3h0M670.8 391.6h0M666.4 387.4h0M662.3 392.9h0M669.3 377.8h0M668.4 385.8h0M663.3 395.2h0M668.7 399.6h0M663.3 393.3h0M655.6 393.1h0M667.1 388.4h0M662.2 394.3h0M663.2 385h0M653.1 394.4h0M667.1 390.3h0M667.2 398.7h0M665.7 380.2h0M659 383h0M659 382.5h0M670.3 398.3h0M654.1 392.4h0M666.6 388.7h0M659.2 381.4h0M654.1 389.6h0M664.1 400.7h0M661.8 388.3h0M672.1 382h0M670 384.5h0M665.3 399h0M657.1 397.8h0M665.2 393h0M668.4 382.1h0M667.3 390.2h0M656.1 389.9h0M672.9 386.3h0M669.2 382.6h0M661.3 396.7h0M659.2 384.5h0M658.7 391.3h0M670.7 385.6h0M670 397.6h0M661.3 383.2h0M655.3 392.2h0M669.7 378.3h0M657.9 403.4h0M660.2 401.7h0M657.5 389.4h0M663 383.2h0M672.2 385.2h0M663.3 394.8h0M667.6 384.9h0M654.9 398.9h0M662.6 386h0M670.8 381.6h0M657.8 386.9h0M669.7 397.7h0M666.5 379.3h0M660.1 381.2h0M660.9 397.9h0M657.9 388.5h0M660.9 399.5h0M662.7 391.7h0M663.2 396.7h0M656.4 386.6h0M671.6 389.6h0M660.4 383.9h0M672.8 390.1h0M661.3 387.8h0M669.3 384.3h0M665.9 377.3h0M670.6 383.6h0M665.3 398.6h0M665.7 389.3h0M663.7 390.8h0M656.6 398.1h0M671.1 394.6h0M669.4 391.6h0M669.2 391.1h0M670.4 396.8h0M661.8 393.8h0M658.5 385.3h0M660.3 383.5h0M670.5 395.6h0M659.5 380.5h0M661.6 399.1h0M662.1 402.3h0M663 385.5h0M665.2 387.1h0M667.2 399.9h0M666.8 397.5h0M662.4 380h0M665.7 390.6h0M667.1 394.8h0M660.2 397.6h0M665.9 398.9h0M656.7 401h0M667.8 380.2h0M660.1 391.1h0M665.9 383.1h0M662.3 385.5h0M665.5 388.1h0M668.4 396.3h0M661.6 396.3h0M654.9 392.6h0M669.8 381h0M654.3 399.1h0M659.4 381.5h0M658.9 402.8h0M665.7 395.2h0M655.7 398.1h0M665 389.5h0M670.6 384.9h0M656.1 398.5h0M658.4 381.6h0M670.6 391.2h0M658.9 404.3h0M670.2 396h0M662 385.1h0M662.1 395.2h0M660.1 387.5h0M653.8 395.7h0M655.9 399.1h0M670.5 382.3h0M656.8 389.5h0M670.3 393.1h0M666 380.8h0M667.8 379.2h0M658.3 399.8h0M659.2 401.7h0M670.3 382.4h0M663.4 380.7h0M666.4 397.2h0M665.1 384.5h0M665.9 401.5h0M656.2 393.8h0M667.8 396.1h0M662.6 385.6h0M667.7 382h0M662.7 391.7h0M668.4 388.5h0M666 382.8h0M666.2 400.9h0M659.6 392.3h0M669.4 398.9h0M656.1 390.5h0M668.8 382.1h0M662.7 404h0M664.4 381.5h0M654.4 385.9h0M664.5 395h0M669.2 386.4h0M665.1 396.3h0M663.6 394.7h0M671.3 393.3h0M668.6 388.8h0M665.9 391.5h0M663.2 380.2h0M671 382.7h0M667.2 384.6h0M658.3 394.4h0M656.1 385h0M661.9 403.8h0M666.8 382.4h0M669.5 396h0M665.8 382.3h0M664.6 394.3h0M661.9 385.2h0M655.7 389.6h0M665.3 391.1h0M659.5 390.8h0M664.2 395h0M659.4 402.3h0M672.4 393.9h0M662.6 392.1h0M656.7 385.5h0M662 378.7h0M673.4 389.4h0M659.6 390.2h0M664.1 385.4h0M654.9 393.4h0M650.6 396.3h0M660.2 373.8h0M670.2 383.7h0M658.9 383.5h0M662.6 396h0M663.2 392.1h0M667.1 395.3h0M667.3 390.6h0M673.5 388.2h0M664.7 390.7h0M659.5 394.5h0M649 392.1h0M662.8 388.8h0M654.7 387.9h0M668.9 379.3h0M667.4 390.4h0M661.5 379.1h0M664 398.8h0M657.4 377.3h0M664 375.3h0M672.1 376.2h0M659.6 393.7h0M667 384.7h0M660.3 354.3h0M664.5 416.6h0M660.3 410h0M664.1 410.9h0M642.1 390.9h0M644 397.6h0M648.3 398.5h0M670.6 374.3h0" stroke="#0000c0" stroke-width="3.2" stroke-linecap="round" fill="none"/>
<line x1="559.5" y1="425.7" x2="627.7" y2="417.4" stroke="#000" stroke-width="1.5"/>
<line x1="641.5" y1="392.3" x2="673" y2="387.7" stroke="#000" stroke-width="1.5"/>
<path d="M554.7 349.9H682.3V477.9H554.7Z" fill="none" stroke="#1c1c1c" stroke-width="1.25"/>
<text x="549.7" y="480.8" text-anchor="end" class="tk">6.8</text>
<text x="549.7" y="459.5" text-anchor="end" class="tk">7.0</text>
<text x="549.7" y="438.1" text-anchor="end" class="tk">7.2</text>
<text x="549.7" y="416.8" text-anchor="end" class="tk">7.4</text>
<text x="549.7" y="395.5" text-anchor="end" class="tk">7.6</text>
<text x="549.7" y="374.1" text-anchor="end" class="tk">7.8</text>
<text x="549.7" y="352.8" text-anchor="end" class="tk">8.0</text>
<text x="572.9" y="489.8" text-anchor="middle" class="tk">3</text>
<text x="609.4" y="489.8" text-anchor="middle" class="tk">4</text>
<text x="645.8" y="489.8" text-anchor="middle" class="tk">5</text>
<text x="682.3" y="489.8" text-anchor="middle" class="tk">6</text>
<path d="M551.2 477.9H554.7M551.2 456.6H554.7M551.2 435.2H554.7M551.2 413.9H554.7M551.2 392.6H554.7M551.2 371.2H554.7M551.2 349.9H554.7M572.9 477.9V481.7M609.4 477.9V481.7M645.8 477.9V481.7M682.3 477.9V481.7M591.2 477.9V480.1M627.6 477.9V480.1M664.1 477.9V480.1" stroke="#1c1c1c" stroke-width="1.2" fill="none"/>
<text x="618.5" y="501.1" text-anchor="middle" class="tt">ln Body Mass (mg)</text>
<text transform="translate(535.4 413.9) rotate(-90)" text-anchor="middle" class="tt">ln Tibia Length (μm)</text>
<text x="560.1" y="359.2" class="st">Q R<tspan dy="-2.2" font-size="4.9">2</tspan><tspan dy="2.2"> = 0.01</tspan></text>
<text x="560.1" y="364.4" class="st">Q p = 0.1424</text>
<text x="560.1" y="378.6" class="st">W R<tspan dy="-2.2" font-size="4.9">2</tspan><tspan dy="2.2"> = 0.02</tspan></text>
<text x="560.1" y="383.8" class="st">W p = 0.0002</text>
<path d="M95.2 593.7h0M81.2 592.2h0M88 569.8h0M77.6 576.5h0M76.1 605.9h0M91.7 584.9h0M76.1 605.6h0M87.3 603.8h0M95.4 596.3h0M94.5 589.1h0M88.6 569.4h0M82.7 594.2h0M75 573.2h0M83 606.7h0M79.3 569.7h0M71.9 574.4h0M97.9 582.4h0M91.5 593.4h0M87.6 593.1h0M94.7 573.9h0M68 587.5h0M80.7 603.5h0M77.5 602.7h0M76.9 588.3h0M92.7 566.8h0M99.8 574h0M76.9 603h0M90.5 602h0M91.1 595.5h0M74.5 583.5h0M78.5 587.9h0M84.5 580.9h0M76.5 591.5h0M73.8 604.5h0M92.5 583.9h0M82.8 595.6h0M73.1 590h0M88 584.9h0M78.9 598.9h0M73.8 574.8h0M77 576h0M95.3 579.2h0M83.2 609.6h0M75.5 605.1h0M87.5 605.6h0M80.7 572h0M83.8 565.2h0M73.9 596.6h0M79.9 594h0M72.7 578h0M83.1 582.6h0M83 589.8h0M76.6 576.8h0M77.3 598.8h0M84.3 609.5h0M73.1 580.4h0M81.6 571.1h0M76.2 593.4h0M82 564.9h0M76.8 584.8h0M89.5 598.5h0M84 602.1h0M74.6 592.4h0M67.2 596.8h0M89.3 592.4h0M75.3 592h0M86.2 596.5h0M75.4 571.2h0M83.5 597.8h0M85.7 590.7h0M73.3 604.9h0M81.8 606.2h0M92 595.2h0M85.4 586h0M91.6 578.4h0M94.4 599.3h0M89.4 600.2h0M76.6 603.3h0M69.1 583.2h0M75 582.3h0M78.6 582.2h0M82.9 564.8h0M83.1 588.1h0M90.6 563.4h0M90.5 564.9h0M72.2 572h0M84.3 577.3h0M94.2 580.9h0M87.7 580.7h0M92.8 576.8h0M90.5 568.8h0M89.8 600h0M80.5 585.4h0M94.4 593.3h0M93.2 577.2h0M85.9 585.9h0M78.6 582.6h0M73.1 578.6h0M84.8 565.9h0M93.2 576.6h0M95.1 586.6h0M76.9 607.8h0M78.3 587.8h0M73.5 588.3h0M76.2 605.1h0M82.3 583.3h0M79.2 582h0M83.1 602.9h0M78.1 608.4h0M77.6 576.7h0M91.8 593.4h0M93.6 584.2h0M84.6 574h0M75.3 588.9h0M82.3 593h0M90.2 605.3h0M87.2 571.2h0M82.5 576.9h0M76.4 591.2h0M95 565.3h0M92.4 583.2h0M83 574.3h0M83.6 577.1h0M79.8 605.3h0M74.4 571.3h0M92.7 582.2h0M79.2 573.5h0M76.4 591.2h0M92.1 579.1h0M91.2 586.7h0M95.2 580.6h0M94.6 590.5h0M87.8 584.3h0M93.1 588.8h0M85.4 596h0M88 582.9h0M82.1 568.5h0M97.6 586.2h0M78.6 576.2h0M73.3 605.7h0M88 599h0M72.3 596.4h0M90.4 573.2h0M82.6 574.5h0M94.9 574.7h0M70 589.2h0M94.1 587h0M82.9 610.3h0M74.3 603.4h0M87.2 601.2h0M84.5 593.4h0M89.5 593.1h0M74.6 594.5h0M85.7 592.4h0M84.9 574.7h0M84.3 575.4h0M91.3 570.6h0M81 584.5h0M82 577.5h0M92.2 584.6h0M81.2 602.1h0M78.7 595h0M95.8 583.2h0M81.4 606.1h0M88.3 585.6h0M79.7 610h0M82.9 583.9h0M85.9 605.3h0M87 581.8h0M84.5 598.1h0M85.6 570.5h0M94.1 574h0M76.1 571.3h0M97.1 578.1h0M90.7 578.6h0M79.7 603.9h0M96.7 583.5h0M88.1 563.1h0M88.9 585.4h0M76.7 573.3h0M78.1 584.5h0M82.8 572.5h0M91.2 574.5h0M79.2 594.9h0M75.5 605.1h0M86.1 565.1h0M84.3 581.4h0M88 570.5h0M78.4 605.6h0M73.6 594.2h0M87.9 568.8h0M82.6 582.5h0M81.9 572h0M76.5 573.5h0M93.3 578.9h0M77.2 604.4h0M97.1 588.3h0M92.6 597.7h0M88.4 577.1h0M72.8 586.1h0M81 608.9h0M75.2 578.5h0M81.3 574.1h0M92.2 568.9h0M88 599.7h0M83.4 572.9h0M75.7 587.6h0M74.1 584.4h0M89.2 598.5h0M87.4 590.1h0M80.1 594.3h0M89.5 603.1h0M76.6 577.4h0M87.5 603.8h0M76.9 587.2h0M91.9 596.2h0M81.1 596.3h0M93.8 596.9h0M97.2 581.7h0M80.9 590.1h0M90.9 567.1h0M80.1 579.6h0M91.9 595.6h0M93.7 585.7h0M96.8 573.1h0M94.3 588.1h0M87.5 583.2h0M70.5 589.5h0M87.1 577.9h0M71.3 594.5h0M94.3 583.7h0M87.3 577.6h0M85.2 608.9h0M81 601.2h0M94.4 592.7h0M80.9 593.5h0M87.6 578.1h0M89.1 582.9h0M85.5 565.4h0M74.4 572.8h0M84.3 574.1h0M99.1 577.9h0M83.1 597.7h0M93.6 599.1h0M75.8 587.1h0M93.6 597.9h0M82.8 577.5h0M96.9 583.5h0M88.8 593.1h0M89.8 579h0M88.1 564.7h0M85.8 581.9h0M76.1 597.8h0M81.1 593.9h0M74.2 578h0M82.1 595.8h0M72 578.2h0M75 583.9h0M81.7 564.2h0M89.2 593.7h0M71.6 581.7h0M83.5 581.8h0M93.8 583.4h0M91.3 600.5h0M84.5 570.7h0M81.3 599.3h0M78 574.9h0M79.9 585.8h0M70.1 590.7h0M79.9 589h0M91.5 581.9h0M88.7 568.8h0M85.2 582.1h0M73.5 588.6h0M79.8 575.7h0M86 604.9h0M82 570.2h0M79.3 604h0M75.3 584.8h0M73.1 604.3h0M78.8 597.3h0M73.1 595.8h0M68.8 592.8h0M94.8 596.5h0M96.1 578.5h0M92.5 565h0M91.7 584.5h0M90.5 602.1h0M97.3 583.9h0M75.9 578.7h0M82.3 609.3h0M90.6 575.4h0M80.5 609.6h0M91.1 588.5h0M85.3 593.5h0M87.7 571.7h0M86.2 579.2h0M82.5 574.7h0M80.6 570.7h0M91.4 596.5h0M73 574.8h0M88.2 595.6h0M87.1 581h0M90.1 580.6h0M87.5 605.4h0M90.5 565.8h0M91.6 598.3h0M69.4 595.8h0M72 586.3h0M92.1 590.4h0M85.8 602.2h0M97.9 590.2h0M80.6 570h0M91.3 585.7h0M93.8 581.8h0M85 587.6h0M82.4 606h0M71.6 584.5h0M76.5 584.6h0M79.7 602.5h0M76.2 577.9h0M83.9 609.5h0M75.5 593.9h0M95.9 586h0M76.8 591.6h0M76.3 594h0M90.5 567h0M84.7 584.9h0M91.2 569.9h0M94.9 577.1h0M78.4 595.8h0M71.8 598.3h0M92.3 593.6h0M77.6 594.7h0M79.6 591.2h0M73.7 598.2h0M86.1 572.4h0M81.8 582.5h0M90 579.9h0M94 566.8h0M78.3 597.2h0M93.4 572.4h0M90.8 606.3h0M82.9 596.1h0M93.1 589.8h0M93.8 587.2h0M86.1 578.9h0M73.8 594.7h0M84 578.5h0M72.6 596.8h0M91.7 603.4h0M87.1 563.3h0M88.7 589.3h0M83.7 577.5h0M70.9 588.5h0M80.1 575.3h0M70.7 586.1h0M92.3 573.3h0M72.2 584.6h0M90.9 572h0M83.5 588.1h0M73.9 589.1h0M70.6 573.7h0M78.7 580.6h0M87.2 587h0M97.2 589.4h0M96 587.9h0M69.6 573.5h0M86.3 603.1h0M76.6 568.4h0M69.3 608.9h0M93.9 587.1h0M77.9 577.4h0M84.2 591.8h0M85.9 570.2h0M86.2 569.2h0M82.5 585.7h0M98.8 594.2h0M63 608.1h0M74.8 590.8h0M78.7 580.8h0M97.3 574.3h0M74.2 609.7h0M69.2 570.7h0M74.8 587.6h0M87.4 583.3h0M96.8 537.7h0M71.4 571.8h0M98.3 590.4h0M99.5 602.4h0M88.5 570.6h0M85.3 566.8h0M80.8 592.7h0M95.4 587.6h0M81.9 589.3h0M72.5 602.9h0M81.5 585.6h0M68.9 593.8h0M81.6 602h0M96.9 580.5h0M88.8 581.9h0M89.3 609.9h0M93.9 600.2h0M75.4 589.9h0M82.4 597.5h0M92.6 568.3h0M86.8 599.8h0M89.5 600.9h0M66.4 585h0M88.5 618h0M84.7 570.1h0M92.6 584.1h0M74.6 580.3h0M92.1 558.9h0M93 575.8h0M75.3 584.8h0M87.6 563h0M96.1 597.8h0M83.5 587.3h0M78.6 584.6h0M73.3 586.9h0M92.8 593.8h0M81.2 599.2h0M64.8 594.4h0M85 608.6h0M74.6 612.5h0M82.2 595.6h0M81.7 618.4h0M89.7 588.9h0M84.8 564h0M72.1 568.6h0M74 617h0M71.6 595.4h0M87.1 585.4h0M83.3 573.3h0M82.7 579.8h0M79.9 576.8h0M71.2 599.9h0M81.8 582.9h0M83.5 582.7h0M82 594.5h0M70.8 571.3h0M99 589.6h0M89.3 592.7h0M81.4 590.7h0M92.1 567.9h0M92.1 597.9h0M88.8 590.1h0M79.4 574.4h0M83.7 583.5h0M83.1 564.9h0M83.8 598.6h0M86.3 581.7h0M75.2 595.6h0M85.7 577.8h0M71.2 593.1h0M95.2 602.9h0M82.6 575.1h0M85.7 600.7h0M87 577.7h0M81.4 570.5h0M76.2 597.8h0M65.5 568.1h0M89 588h0M89.9 583.2h0M83.8 572.6h0M71.7 569.1h0M83.2 568.5h0M99.1 603.8h0M87.3 581.8h0M93.7 596h0M88.7 594.5h0M98.6 576.4h0M50.2 595.5h0M53.3 569.8h0M54.1 583.3h0M66.1 590h0M54.6 586.6h0M65.7 578.8h0M44.2 578.1h0M46 585.4h0M38.3 588h0M51.4 594.2h0M40.2 587.8h0M38.3 597.6h0M59.1 587.8h0M51.9 585.2h0M40.1 579h0M52.1 587.1h0M53.6 589.8h0M40 588.2h0M31.8 597h0M66.9 582.2h0M38 589.4h0M37.2 587.8h0M44.4 592.3h0M61.2 587.2h0M60.7 580.2h0M52.6 594.7h0M62.2 593.4h0M36.2 573.9h0M38.6 586.6h0M53.8 593.4h0M45.8 588.8h0M61.9 582.1h0M44.2 585.3h0M54.5 586.4h0M41.8 592h0M38.3 600h0M67.3 590h0M65.9 579.1h0M43.6 581.1h0M55.4 586h0M39.5 586.7h0M43.3 579.7h0M36.8 597.1h0M65.9 578.5h0M63 564h0M65.7 578.2h0M59.9 598.7h0M59.2 584.5h0M48.8 586.8h0M53.6 582.6h0M38.7 600.5h0M56.2 574.1h0M55.1 589.3h0M36.1 589.4h0M36.4 589.6h0M65.7 575.1h0M47 585h0M65.5 581.5h0M44.3 589.2h0M67.4 592.5h0M66.6 589h0M46.7 585h0M62.8 589.4h0M63.4 593.3h0M37 574.8h0M44 583.7h0M62.1 579.2h0M35 586.5h0M67.4 583.2h0M61.7 584.5h0M59.6 592.3h0M45.3 591.7h0M66.8 584.5h0M57.2 598.1h0M54.5 588.1h0M39.1 586.4h0M65.9 585.5h0M33.2 584.2h0M40 572.6h0M55.3 583.5h0M64.7 575.2h0M49.5 591h0M66.4 581.3h0M53 583h0M46.7 597.6h0M51.8 584h0M55.5 572.6h0M66.8 586.5h0M59.2 585.7h0M63.4 585.3h0M83.3 555.7h0M92.2 555.5h0M73.3 560.3h0M76.1 641.2h0M56.3 627h0M70.4 627.6h0M79.5 632.3h0M89.4 628.4h0M82.7 622.3h0M45.9 616.2h0M31.3 609.6h0M90.9 614.4h0M69.5 614.7h0" stroke="#fc7e7e" stroke-width="3" stroke-linecap="square" fill="none"/>
<path d="M135.5 538h0M130.4 553h0M142.4 553.3h0M136.8 538.4h0M126.8 544.8h0M129.3 542.9h0M133.3 556.1h0M139.1 547.8h0M140.5 548.1h0M137.1 550.2h0M143.4 546.7h0M134.6 554.2h0M138.3 550.4h0M131 551.7h0M140.8 538.2h0M138.3 548.6h0M134.1 561.1h0M143.8 550.1h0M137.2 544.2h0M145.1 542.3h0M133.9 547.9h0M128.5 546.1h0M133.5 545.5h0M142.9 549.4h0M132.8 551.7h0M141.5 555.5h0M129.7 553.9h0M130 536.4h0M126 556.1h0M144.1 545.7h0M139.5 558.9h0M142.7 537.9h0M126.9 546.6h0M130.1 547.7h0M136.7 542.9h0M128.7 541.8h0M131.4 559h0M126.7 550.3h0M128.2 547h0M135.2 549.6h0M144.3 557.3h0M141.2 543h0M130 551.6h0M141.8 549.5h0M143.3 548.4h0M128.5 542h0M136.2 553.4h0M138 545h0M130.1 554.5h0M143.5 546.2h0M126.3 556.3h0M141 558.5h0M141.6 554.6h0M129 537.5h0M126 544.1h0M136.7 547.1h0M138.5 550h0M133.9 538.7h0M130.1 552h0M130.3 542.7h0M133.2 541.9h0M138.9 546.5h0M133.6 553.2h0M140.7 550.6h0M126.7 542.6h0M130.2 550.9h0M126.9 547.5h0M131.5 558.5h0M143.9 542.7h0M129.9 539.7h0M136.5 541.5h0M140.4 552.9h0M135.7 543.2h0M135.1 546.3h0M141 553.6h0M127.9 540.1h0M139.6 536.2h0M126.4 554.6h0M128.8 556.5h0M139.7 550.3h0M135.5 545.2h0M132.4 551h0M135.7 542.8h0M143.8 548.3h0M144.2 548.2h0M130.3 540.2h0M123.9 548.3h0M134 552.2h0M133.3 536.5h0M128.7 554.1h0M137.3 545.8h0M136.3 545.9h0M135.8 540h0M143.3 555.7h0M136.8 559.1h0M140.3 558.2h0M136.3 558.3h0M132.5 561.7h0M138.1 546.7h0M130.1 549.7h0M124.2 551.7h0M133.7 540.9h0M145 547h0M134.7 547.2h0M131.5 550.8h0M142.9 542.8h0M133.3 551h0M131.8 548.8h0M130.6 559.5h0M141.7 537.1h0M132.5 543.3h0M128.9 553.5h0M140 556.1h0M128.8 543.9h0M142.6 554h0M130.6 540.1h0M130.4 537.7h0M139.1 550.9h0M140.1 553.3h0M126.1 548.7h0M127.6 549.6h0M142.4 546h0M136.2 540.9h0M130.3 553.1h0M136.2 559.7h0M144 547.8h0M132.4 554.4h0M133 556.6h0M128.6 540.7h0M140.4 541h0M143.6 554.3h0M142.8 547h0M134.5 551.2h0M142.9 544.7h0M129.3 551.9h0M142.1 540.7h0M139.3 555.4h0M127 542.3h0M131.3 561.2h0M137.5 541.8h0M142.1 541.4h0M139.6 554h0M142.4 536.3h0M130.2 549.5h0M135.5 549.4h0M132.4 547.6h0M140.1 547.5h0M130 559.2h0M139.9 549.2h0M132.9 537.9h0M142.8 557.7h0M142.1 559.3h0M132 559.1h0M133.7 558.2h0M129.7 555.9h0M144.2 551.5h0M139.8 548h0M131.5 548h0M141.3 541.1h0M141.5 553.2h0M129.6 545.2h0M138.7 547.9h0M136.9 545.8h0M130.3 539.1h0M128.4 556.9h0M130 556.6h0M128 543.3h0M133.2 560.5h0M126.8 540.4h0M134.6 535.8h0M136.2 550.4h0M135.6 555.9h0M139.5 544.8h0M141.7 546.5h0M127.6 547.5h0M133.7 558.9h0M143.7 553.7h0M136.9 545.3h0M144.6 555h0M130.3 548.6h0M138.2 558.2h0M134.9 535.8h0M132.9 557.2h0M141 552.6h0M126.7 544.2h0M136.2 535.9h0M143.6 550.7h0M129.4 552.3h0M140.8 538.7h0M124.7 553.1h0M140.5 547h0M141.5 554.6h0M139.9 539.1h0M131.1 559.3h0M136.9 538.8h0M133.5 539.3h0M127.5 542.4h0M127.6 553.8h0M139.3 553.4h0M133.9 548.1h0M129.7 553.1h0M130.9 539.1h0M133.9 541.1h0M137.4 548.6h0M132 541.3h0M140 560.1h0M139.1 549.6h0M137.9 546.6h0M135 544.3h0M131.1 542.1h0M133.3 556.7h0M132.2 535.6h0M141.8 543.8h0M131.4 554.9h0M138.9 559.7h0M134.1 548.3h0M142.8 556.5h0M136.5 549.4h0M137.1 555.5h0M126.7 538.1h0M136.9 563h0M124.1 536.1h0M130.8 562h0M137 547h0M130.4 535.8h0M134 542.2h0M123.8 548.8h0M131.2 548.1h0M138.3 546h0M138.8 538.1h0M142.7 537.5h0M133.8 575.9h0M131.2 573.8h0M138.1 568h0M137.4 573.7h0M134 575.4h0M132.3 563.5h0M137 560.7h0M134.4 572.9h0M131.4 571.6h0M132.6 570.2h0M137.7 571.9h0M133.7 581.6h0M133.3 578.3h0M135.5 579.8h0M133.2 560h0M133.6 572.8h0M132.8 570h0M133.9 578.8h0M138.1 572.2h0M137.2 571.9h0M134.3 569.1h0M138.3 563.1h0M137.8 566.7h0M137.1 561.1h0M130.8 570.8h0M134.6 580h0M133 568.2h0M137.4 563.3h0M135.5 574.8h0M134.5 560.1h0M133.3 578.4h0M133.7 562.3h0M137.8 578h0M134.5 581.1h0M136 564.4h0M131.2 577.5h0M114.7 563.7h0M115.5 561.2h0M119.2 558h0M122.5 565.2h0M129.7 585h0M135.7 583.1h0M138.9 588.3h0M131.9 577.9h0M133.2 572.2h0M137.6 571.8h0M138.5 566.1h0" stroke="#0000c0" stroke-width="3.2" stroke-linecap="round" fill="none"/>
<line x1="30.6" y1="593.4" x2="98.4" y2="582.4" stroke="#000" stroke-width="1.5"/>
<line x1="112.5" y1="552.7" x2="144" y2="549.2" stroke="#000" stroke-width="1.5"/>
<path d="M26 523.3H154V650.7H26Z" fill="none" stroke="#1c1c1c" stroke-width="1.25"/>
<text x="21" y="653.6" text-anchor="end" class="tk">7.0</text>
<text x="21" y="632.4" text-anchor="end" class="tk">7.2</text>
<text x="21" y="611.1" text-anchor="end" class="tk">7.4</text>
<text x="21" y="589.9" text-anchor="end" class="tk">7.6</text>
<text x="21" y="568.7" text-anchor="end" class="tk">7.8</text>
<text x="21" y="547.4" text-anchor="end" class="tk">8.0</text>
<text x="21" y="526.2" text-anchor="end" class="tk">8.2</text>
<text x="44.3" y="662.6" text-anchor="middle" class="tk">3</text>
<text x="80.9" y="662.6" text-anchor="middle" class="tk">4</text>
<text x="117.4" y="662.6" text-anchor="middle" class="tk">5</text>
<text x="154" y="662.6" text-anchor="middle" class="tk">6</text>
<path d="M22.5 650.7H26M22.5 629.5H26M22.5 608.2H26M22.5 587H26M22.5 565.8H26M22.5 544.5H26M22.5 523.3H26M44.3 650.7V654.5M80.9 650.7V654.5M117.4 650.7V654.5M154 650.7V654.5M62.6 650.7V652.9M99.1 650.7V652.9M135.7 650.7V652.9" stroke="#1c1c1c" stroke-width="1.2" fill="none"/>
<text x="90" y="673.9" text-anchor="middle" class="tt">ln Body Mass (mg)</text>
<text transform="translate(7.2 587) rotate(-90)" text-anchor="middle" class="tt">ln Tarsus Length (μm)</text>
<text x="30.1" y="532.7" class="st">Q R<tspan dy="-2.2" font-size="4.9">2</tspan><tspan dy="2.2"> = 0</tspan></text>
<text x="30.1" y="537.9" class="st">Q p = 0.3346</text>
<text x="30.1" y="551.8" class="st">W R<tspan dy="-2.2" font-size="4.9">2</tspan><tspan dy="2.2"> = 0.02</tspan></text>
<text x="30.1" y="557" class="st">W p = 0.0001</text>
<path d="M254.4 619.9h0M253.6 619.6h0M244.3 626.7h0M264.9 614.6h0M255.8 597.6h0M259.8 596.7h0M269.8 589.9h0M249 622.9h0M258 618.2h0M243.9 613.1h0M251.6 597.6h0M252.8 599.8h0M257.5 614.7h0M249.5 602.9h0M259 593.3h0M262.2 606.9h0M245.2 610.6h0M272.7 593.6h0M247.1 623.6h0M251.5 602.3h0M265.1 586.3h0M256.8 597.4h0M243.3 614.9h0M252.2 603.9h0M240.9 622.7h0M268.6 606.1h0M259 607.4h0M259.2 613.4h0M254.1 601.2h0M257.7 613.3h0M264.9 595.8h0M247 607.3h0M248 618.5h0M252.2 607.2h0M249.5 599h0M263.4 605.1h0M254.3 594.8h0M264.3 585.2h0M240.4 621h0M267.2 603.6h0M264.8 606.8h0M241.4 629.7h0M267.1 607.2h0M261.9 596.8h0M251.4 623h0M268.8 587.5h0M251.9 618.1h0M248 623.8h0M243.7 607.1h0M248.6 602.5h0M263.7 606.2h0M261.2 597.4h0M248.7 600.7h0M272.5 595.9h0M264.6 613.2h0M255 592.9h0M263.2 598.3h0M261.1 596h0M254.1 623.2h0M247.8 614.5h0M253.6 595.9h0M259.5 614.9h0M261.1 608.8h0M257 604.9h0M260.4 602.4h0M262.3 610.4h0M252.5 609.7h0M250.6 617.4h0M242.9 623.7h0M267.4 598.7h0M259.5 616.5h0M269.9 599.3h0M268.9 604.2h0M254.2 624.4h0M258.1 599.8h0M272.1 595.9h0M262.1 594.4h0M241.3 615.3h0M269 601h0M256.1 601.6h0M272.6 595h0M248.6 623.9h0M251.8 604.4h0M253.8 608.5h0M252.4 598.3h0M253.1 616.8h0M248.5 601.4h0M248.5 616h0M263.7 600.3h0M242.4 620.5h0M258.3 619.9h0M259.3 604.1h0M263.1 607.5h0M256.6 597h0M251.4 625.4h0M265.8 614.1h0M261.9 606.7h0M252.3 622.5h0M259.3 598.5h0M249.1 626.2h0M258.3 605.8h0M251.4 599.6h0M259.7 613.8h0M262.4 601.6h0M255.8 604.2h0M245.2 616.2h0M255.6 605.5h0M248.6 623.9h0M263 600.1h0M253.8 595.8h0M261.6 608.2h0M268.6 595.4h0M263.7 594h0M248.7 603.4h0M271.2 600.6h0M258.6 592.5h0M265.8 594.6h0M256 594.6h0M258.7 608.4h0M261.9 596.1h0M260.6 597.5h0M258.7 589.3h0M262.5 610.7h0M250.6 605.2h0M263.5 599.2h0M264.1 598.8h0M257.7 619.9h0M271.7 603.7h0M249.3 621h0M248.8 616.9h0M253.6 617.2h0M264.2 606.5h0M252.8 606.9h0M246.5 616.4h0M267.1 601.6h0M248.4 605.3h0M244.2 616h0M264.2 588.5h0M245.8 607.4h0M249.8 604.6h0M258.9 608.3h0M263 592.5h0M267.8 594.9h0M265 601.8h0M262.8 597.2h0M270.4 602.5h0M250 618.1h0M262.1 603.4h0M272.8 600.5h0M267.2 595.8h0M256.2 622.2h0M254.6 606h0M252.7 603.1h0M250.9 608.9h0M264.2 615.9h0M272.4 599.3h0M267.7 603.4h0M259.3 619.2h0M246.8 619.2h0M249.8 621.8h0M260.5 612.1h0M260.6 607.2h0M246.2 606.4h0M241.7 617.9h0M246.4 604.8h0M267.4 592.6h0M260.5 595.7h0M256.8 608h0M264.7 588h0M260.5 609.6h0M263.1 606.5h0M252.5 596.4h0M257.3 615h0M257.5 611.3h0M254.5 598.1h0M251 605.2h0M263.8 605.7h0M260.3 600.6h0M257.8 598.1h0M262.5 599.2h0M241.5 619h0M255.4 624.8h0M260.7 592.2h0M254.1 608.3h0M256.3 621h0M272.3 593.4h0M257.2 597.3h0M266.1 610.2h0M254.9 603.5h0M259 599.2h0M268.6 592.6h0M255 622.3h0M254.1 600.2h0M259.4 615.8h0M260.1 590.5h0M254.9 614.8h0M251.1 618.2h0M269.7 590.2h0M262.5 589.8h0M247.2 612.2h0M259.6 611.6h0M261 603.9h0M263.8 602.4h0M251.9 621.6h0M252.4 601h0M252.6 613.6h0M248.5 600.1h0M264.3 604.1h0M250.2 622.3h0M270.1 604.2h0M266.7 595.2h0M257.6 606.3h0M244.9 612.2h0M265.7 614.8h0M269.6 597.9h0M259 620.1h0M262.5 604.8h0M253 595.8h0M266.8 603.3h0M248.1 621.7h0M257.7 607.4h0M266.3 608.8h0M271.6 597.4h0M255.4 614.8h0M256.8 618.9h0M243.9 619.5h0M258.1 615.8h0M243.7 617.4h0M270.3 595.6h0M270.6 585.9h0M264.5 590.9h0M266.3 587h0M251.7 602.5h0M257.4 621.6h0M257.4 600.8h0M258.6 614h0M255.7 613.6h0M263.2 604.4h0M255.6 620.2h0M245 626.3h0M252.4 614h0M248.4 608.2h0M267.8 601h0M242.6 616.1h0M271.5 589.7h0M271.2 589.7h0M258 610.1h0M247.9 621.6h0M245.3 613.5h0M257.6 611.2h0M260.1 601.2h0M269.8 599h0M258.1 594.5h0M258.9 613.5h0M256.7 613.5h0M254.7 602.4h0M253.4 610.1h0M257.3 620.6h0M249.7 604h0M247.3 612.8h0M245.8 602.9h0M262.2 599.2h0M262.3 594.8h0M272.9 598.5h0M249.3 605.2h0M261.7 600.3h0M248.2 610.1h0M233 630.5h0M258.1 603.5h0M270.5 597.4h0M264.6 607h0M258.5 595.5h0M267.3 617.4h0M265.7 603.9h0M252.2 620.2h0M262 588.3h0M244.9 610.6h0M256.6 600.6h0M249.1 614.6h0M260.3 601.1h0M251.5 630.2h0M269.6 593h0M261.1 615.3h0M259.9 600.2h0M254.9 608.7h0M253.7 614.4h0M248.6 599.4h0M263.6 608.7h0M260.7 595.3h0M268.2 605.6h0M255.5 607.2h0M245 613.5h0M260.2 608.3h0M254.4 605h0M252 617.9h0M269.9 614.3h0M251.9 616.9h0M249.2 627h0M264.4 608.2h0M247.1 618.7h0M253.9 605.7h0M247.8 616.6h0M259.3 604.9h0M249.7 596h0M256.1 613.7h0M245.5 612.1h0M272.2 597.7h0M255.9 620.2h0M252.5 608.9h0M250.4 610.2h0M237 622.2h0M254.2 615.6h0M267.4 590.1h0M251.9 612.8h0M254.7 599.7h0M249.1 602.9h0M253.9 617.7h0M241.1 626.1h0M250.9 616.2h0M264.3 592h0M248.4 606.7h0M248.9 602.2h0M259.1 591.3h0M269.3 617h0M246.8 604.3h0M270.4 597.3h0M245.6 619.5h0M272.2 593.5h0M243.3 608.5h0M245 625.5h0M255.7 624.9h0M264.4 603.4h0M230.6 628.8h0M245.2 630.5h0M265 600.8h0M258.6 607.7h0M258.5 596.1h0M254.1 612.6h0M268.3 591.6h0M264.9 584.3h0M242.1 617.7h0M250.4 610.4h0M252.7 593.2h0M241.1 604.8h0M260.9 589.9h0M243.6 621.7h0M268.4 603.6h0M264.7 611.2h0M254.8 608.2h0M265.5 611.6h0M240.9 634.6h0M256.3 612h0M268.5 585h0M259.3 597.7h0M250.8 610.7h0M256 604.3h0M266.3 615.8h0M273.2 589.7h0M260.3 610.5h0M263 598.2h0M250.9 602.8h0M250.1 625.1h0M250.2 622.5h0M263.6 603.3h0M259 612.8h0M254.4 610.1h0M262.1 591h0M242.9 624.5h0M252.8 600h0M267.2 595.8h0M248.5 625.3h0M254.2 609.2h0M247.8 598.5h0M260.3 621.6h0M214.5 619.6h0M214 617h0M219.7 616.8h0M237.4 594h0M229.2 600.5h0M232.7 615.6h0M216.9 618.4h0M221.7 621h0M224.5 624.5h0M226.7 610.4h0M210.6 623.6h0M218.6 614.8h0M227.2 624h0M216.5 618.5h0M214.9 627h0M227.8 618h0M236.6 616.3h0M214.6 619h0M221.7 618.6h0M241 613.8h0M236.7 627.7h0M233.6 608h0M229.4 604.5h0M241 598.8h0M228.4 625.5h0M207.7 618.5h0M217.3 623.6h0M222.9 610.8h0M231.3 615.6h0M234.2 610.5h0M236.3 613.1h0M219.7 605.2h0M241.4 611.7h0M210.3 625h0M239.6 592.9h0M229.3 612.6h0M234.4 595.9h0M236.5 601.1h0M217.5 617.7h0M225.1 619.6h0M228.4 615.7h0M237.3 582.8h0M239.9 601.6h0M219.3 610.6h0M208.7 621.1h0M211.6 617.5h0M206.9 629.8h0M222.7 611h0M213.4 618.3h0M235.5 604.7h0M231 618.7h0M240.2 617.4h0M238.8 612.5h0M240.3 625.2h0M232.2 606.9h0M209.5 621.5h0M223.2 612.9h0M229.9 601.8h0M215.7 611.2h0M214.5 621.6h0M231.1 606.5h0M220.5 605.2h0M236.6 616.2h0M221.8 620.7h0M232.5 593.8h0M224 599.9h0M239.7 613.2h0M210.8 625.4h0M223.6 609.8h0M222.3 612.3h0M236.1 601.9h0M222.2 606.3h0M229.4 613.9h0M221.2 618.1h0M232.3 611.5h0M241.1 597.4h0M226.4 610.4h0M238.5 604.8h0M219.8 621.6h0M222.4 613.3h0M229.6 619.3h0M215.1 616.7h0M219.6 626.8h0M212 624.7h0M237.2 601.8h0M224.4 605.4h0M211.5 623.9h0M239.2 612.9h0M220.7 615.7h0M235.2 612.8h0M268.7 563.1h0M263.7 566.9h0M256.4 571.2h0M260.9 575h0M253.9 579.7h0M258.6 579.7h0M230.3 647.5h0M245.4 644h0M231.2 640.3h0M261.5 625.7h0M248.6 634.6h0M239.7 631.8h0" stroke="#fc7e7e" stroke-width="3" stroke-linecap="square" fill="none"/>
<path d="M305.5 553.9h0M312.7 548.6h0M307 554.8h0M297.7 556.8h0M300.4 560.2h0M301.3 553.3h0M308.9 557.3h0M301 550h0M315 550.2h0M303.9 555.8h0M316.7 542.5h0M315.6 544.3h0M305.5 559.4h0M306 559.8h0M313.1 547.5h0M307.6 554.4h0M317 544.5h0M299.6 555.8h0M319.5 544.2h0M315.5 549h0M304.5 559.6h0M300.9 550h0M308 558.4h0M302.8 549.1h0M311.2 552.5h0M309.3 544.1h0M316.7 549.3h0M317.5 542.8h0M317.6 550.7h0M303.9 561.3h0M299.8 556.7h0M299.1 558.9h0M303.1 557.3h0M314.2 551.1h0M299.5 556.2h0M308.7 547.4h0M313.4 540h0M307.6 543.1h0M312.9 546.8h0M315.4 549.2h0M305.8 549.5h0M307.5 554.6h0M301.6 553.5h0M309 542.2h0M306.3 549.7h0M311.9 557.3h0M302.7 554.5h0M312.2 548.6h0M319.5 546.2h0M313.5 551.4h0M314.8 540.3h0M308.6 548.5h0M310.5 542.2h0M304.2 548.4h0M311.3 549.4h0M312 547.9h0M311.2 545.6h0M308.1 557.4h0M304.8 547.4h0M302.6 560h0M314.8 551.1h0M299.4 557h0M315.1 550.1h0M313 555.2h0M312.9 547.1h0M303.3 559.6h0M307.2 545.5h0M309.2 554h0M314.5 542h0M304 560.2h0M311.9 553.4h0M300.4 550.2h0M304.5 558h0M305.5 559.4h0M306.1 557.3h0M308.2 558.4h0M311.3 541.5h0M310 550.3h0M317.8 543.8h0M309 556.1h0M319 544.8h0M296.2 552.1h0M304.2 559.2h0M303 553.4h0M312.1 546h0M313.7 551.4h0M305.4 543.9h0M314 549.1h0M307.1 556.6h0M305.5 552.5h0M304.9 546.5h0M312.6 557.7h0M315.5 552.6h0M310.2 543.1h0M315.8 545.7h0M301.1 560.6h0M314.7 548.1h0M318.3 549.1h0M310.6 544.1h0M310.1 554.5h0M309.9 557.3h0M312.2 554.9h0M300.5 557.7h0M316 544h0M301.5 548.8h0M311.6 552.4h0M313.7 543.2h0M300.2 550.1h0M303.2 551h0M312.2 552.8h0M298.5 555.3h0M312.5 555.4h0M315.1 546.3h0M310 556.7h0M310.1 547.8h0M314.2 544.3h0M314.3 547.3h0M309.4 546.7h0M308.8 555.9h0M317.2 551.3h0M313.2 541.1h0M317.9 546.7h0M304.9 549.1h0M308.7 545.9h0M307.5 549.6h0M299.6 556.5h0M312.8 547.8h0M309.3 551.2h0M308.3 540.4h0M303.4 546.3h0M302.7 559.1h0M311.4 551h0M308.2 540.4h0M316.1 543.8h0M307.2 546.6h0M313.6 553.2h0M317.8 542.5h0M312.2 542.7h0M305.8 552.4h0M308.2 558.4h0M314 545h0M300.5 555.6h0M310 549h0M310.9 554.5h0M311.3 544.2h0M308.8 549h0M298.1 556.4h0M311.5 556.4h0M310.2 545.7h0M307.6 546.9h0M306.4 547.4h0M307.8 550h0M302.5 540.2h0M312.9 536.2h0M305.7 553.4h0M306.5 555.5h0M312.2 545.6h0M315.4 547.7h0M310.8 543.3h0M306.7 545.1h0M304.9 544h0M319.7 540.2h0M319.2 549.3h0M299.4 548.8h0M301.5 553.5h0M301.1 545.8h0M289.8 573.1h0M288 554.8h0M294.2 564.2h0M299.9 563.7h0M310.6 562.3h0M318.8 538.1h0M313.9 538.1h0" stroke="#0000c0" stroke-width="3.2" stroke-linecap="round" fill="none"/>
<line x1="200.8" y1="587" x2="328.5" y2="587" stroke="#222" stroke-width="1" stroke-dasharray="1.3 1.5"/>
<line x1="205.9" y1="626.1" x2="273.7" y2="595.9" stroke="#000" stroke-width="1.5"/>
<line x1="287.3" y1="561" x2="318.9" y2="543.4" stroke="#000" stroke-width="1.5"/>
<path d="M200.8 523.2H328.5V650.7H200.8Z" fill="none" stroke="#1c1c1c" stroke-width="1.25"/>
<text x="195.8" y="653.6" text-anchor="end" class="tk">-8</text>
<text x="195.8" y="637.7" text-anchor="end" class="tk">-6</text>
<text x="195.8" y="621.7" text-anchor="end" class="tk">-4</text>
<text x="195.8" y="605.8" text-anchor="end" class="tk">-2</text>
<text x="195.8" y="589.9" text-anchor="end" class="tk">0</text>
<text x="195.8" y="573.9" text-anchor="end" class="tk">2</text>
<text x="195.8" y="558" text-anchor="end" class="tk">4</text>
<text x="195.8" y="542" text-anchor="end" class="tk">6</text>
<text x="195.8" y="526.1" text-anchor="end" class="tk">8</text>
<text x="219" y="662.6" text-anchor="middle" class="tk">3</text>
<text x="255.5" y="662.6" text-anchor="middle" class="tk">4</text>
<text x="292" y="662.6" text-anchor="middle" class="tk">5</text>
<text x="328.5" y="662.6" text-anchor="middle" class="tk">6</text>
<path d="M197.3 650.7H200.8M197.3 634.8H200.8M197.3 618.8H200.8M197.3 602.9H200.8M197.3 587H200.8M197.3 571H200.8M197.3 555.1H200.8M197.3 539.1H200.8M197.3 523.2H200.8M219 650.7V654.5M255.5 650.7V654.5M292 650.7V654.5M328.5 650.7V654.5M237.3 650.7V652.9M273.8 650.7V652.9M310.3 650.7V652.9" stroke="#1c1c1c" stroke-width="1.2" fill="none"/>
<text x="264.6" y="673.9" text-anchor="middle" class="tt">ln Body Mass (mg)</text>
<text transform="translate(184.4 587) rotate(-90)" text-anchor="middle" class="tt">PC1</text>
<text x="205.9" y="531.7" class="st">Q R<tspan dy="-2.2" font-size="4.9">2</tspan><tspan dy="2.2"> = 0.27</tspan></text>
<text x="205.9" y="536.9" class="st">Q p = 0.0001</text>
<text x="205.9" y="550.8" class="st">W R<tspan dy="-2.2" font-size="4.9">2</tspan><tspan dy="2.2"> = 0.25</tspan></text>
<text x="205.9" y="556" class="st">W p = 0.0001</text>
<path d="M442 564.3h0M448.2 564.2h0M433.6 566.8h0M430.6 559.7h0M439.9 557.8h0M432.3 561.2h0M427.7 555.1h0M441.8 566.1h0M435.4 551.6h0M432.9 564.3h0M438 563.7h0M428.4 560.2h0M424.4 565h0M439.7 549.4h0M437.9 567.3h0M425.7 558.5h0M432.6 567h0M442.8 559.6h0M450.2 561.1h0M450.7 563.4h0M425.7 555.2h0M444.8 560.6h0M424.4 564.8h0M433.2 548.9h0M450.6 552.3h0M443 561.4h0M443.9 566.7h0M441.4 552.5h0M432.7 549.2h0M436.7 565.8h0M426.1 564.3h0M428.7 567.7h0M423.2 553.6h0M446.1 559.7h0M440.8 554.9h0M421.9 556.7h0M447.4 550.6h0M448.8 565.3h0M439.8 569h0M435.2 560.4h0M441.7 566.5h0M428.5 554.4h0M434.6 553.9h0M430.8 560.9h0M435.1 567.3h0M444.5 551.5h0M438.2 552.6h0M445.9 553.6h0M445.2 550.7h0M428.9 566.6h0M448.8 556.3h0M441.5 557.1h0M446.8 548.9h0M424.7 558.9h0M431.2 560.2h0M446.7 562.4h0M431 552.2h0M438.7 561.7h0M442.3 567.3h0M448.4 559.1h0M450.2 559.8h0M446.9 563.7h0M430.8 562.9h0M445.5 555.1h0M425 566.7h0M443 560.1h0M443.7 549.3h0M448.3 555.1h0M434.5 559.7h0M439.1 552.2h0M424.6 553.6h0M438.7 557.5h0M427.1 560.5h0M423.1 560.6h0M446 562.7h0M435.9 548.5h0M435.8 563.6h0M441.4 549.2h0M437 563.8h0M448.6 561.2h0M427.9 565.1h0M433.5 565.4h0M448.2 560.5h0M442.4 564.8h0M429.3 562.9h0M444 549.1h0M434.3 552.3h0M442.5 552.1h0M441.3 566.4h0M427.3 558.2h0M447.4 560.4h0M446.8 558.4h0M429.2 562h0M432.7 553.8h0M425.3 565.9h0M450.9 557.6h0M433.4 562.9h0M425.8 557.9h0M438.5 549.6h0M445.2 554.2h0M437 552.8h0M425 557.3h0M432.9 564.9h0M433.4 560.9h0M427.4 565.3h0M437.1 561.9h0M437.2 556.6h0M443.9 555.6h0M448 557.1h0M426.8 563.9h0M449.4 553h0M441.8 565.4h0M445.7 551.8h0M439.5 551.4h0M421.6 555.6h0M444.6 555.7h0M436.4 554.2h0M441.1 551.8h0M448.8 560.6h0M444.8 558.3h0M435.9 550.1h0M434.4 565.2h0M425 555.7h0M445.8 564.6h0M422.9 553.5h0M439 557.5h0M448.7 558.4h0M436.2 560.5h0M435.6 548.8h0M441.2 562.3h0M437.3 561.5h0M421.1 559.4h0M449.5 560.5h0M428.2 551.5h0M437.1 547.5h0M449.5 562.7h0M428.8 549.8h0M442.4 551.9h0M438.8 553h0M436.1 558.8h0M449.5 557.8h0M430.8 552h0M433.5 557.3h0M442.1 561.9h0M448.8 555.1h0M440.2 553.4h0M440.7 554.6h0M436.5 547.7h0M431.3 555.9h0M429.5 553.2h0M426.2 550.2h0M420.3 557.5h0M436.2 566.8h0M422.4 562.4h0M431.6 562.3h0M434.2 558.6h0M428.1 556h0M437.8 569.3h0M421 565.3h0M433.9 560.7h0M429.7 554.1h0M433.5 560.1h0M440.5 554.6h0M445.1 550.4h0M448.9 562.9h0M437 563.6h0M431.6 563h0M443.4 556.3h0M445.8 567.4h0M431.5 571.3h0M450.7 558h0M422.5 563.6h0M443.5 561.2h0M436.3 551h0M442.1 562.2h0M432.8 563.4h0M439.3 545.2h0M430.6 567.5h0M430.6 555h0M438.4 562.5h0M450.5 559h0M425.6 571.6h0M445.2 557.7h0M433.2 569.8h0M428.3 560.3h0M448.9 570.8h0M424 565h0M441.6 554.9h0M430.4 561.5h0M434.6 563.3h0M440.5 562.8h0M433.5 555.3h0M424.8 558.5h0M443.7 555h0M426.2 550.7h0M430.4 544.1h0M434.6 566.8h0M450.7 554.7h0M434.4 553.8h0M447.1 546.7h0M445.8 559.7h0M440.7 560.2h0M413.5 561.9h0M425.5 562.3h0M439.3 563.1h0M439.3 554.3h0M430.1 562.2h0M445.6 560.8h0M447.8 563.4h0M426.1 558.7h0M438.8 557.4h0M432.9 570h0M443.6 567.8h0M450.3 562.3h0M431 555h0M432.4 552.7h0M436.3 562.3h0M434 555.4h0M441.7 556.5h0M429.9 576.9h0M435.6 575.4h0M433.6 571.3h0M428.5 580.5h0M442.9 578.6h0M440.6 595.6h0M440.2 579.3h0M443.5 583h0M429.7 585.8h0M436.6 578.3h0M447.7 580.9h0M435.3 586.8h0M438 579.2h0M432.4 581.4h0M438 593.4h0M439.4 578.7h0M431.6 574.6h0M439.2 578.9h0M429.3 579h0M440.9 582.4h0M437.1 582.2h0M432.1 581.6h0M444.2 579.9h0M443.7 574.5h0M431.4 576.1h0M429.6 587h0M430.8 581.4h0M435.7 588.1h0M437.2 587.4h0M437.4 577.1h0M437.1 591.9h0M431.1 578h0M433 586.5h0M440.3 583.5h0M435.4 589.3h0M440.1 592.8h0M444.2 584.1h0M443.1 585.2h0M440.8 587.3h0M429.3 582h0M433.7 575.1h0M440.6 572.8h0M434.8 576.4h0M432.9 586.2h0M430.6 584.4h0M436.6 589.9h0M438.6 579.1h0M429 589.5h0M442.3 580.4h0M434.3 584.2h0M436.7 585.7h0M432.7 586.6h0M438.5 585.2h0M439.7 584.9h0M438.5 588.6h0M432.3 592.2h0M443.6 586.5h0M431.8 576h0M441.1 588.6h0M436.8 584.4h0M440.5 579h0M440.7 572.4h0M443.4 589.8h0M443.9 590.1h0M438.3 593.1h0M443.9 578.3h0M436.9 580.8h0M434.4 585.2h0M442 577.7h0M432.7 580.1h0M432.6 582.6h0M435.2 580h0M437.5 588.7h0M436.2 588.2h0M421.9 592.6h0M436.3 585.6h0M442.3 576.2h0M425.9 578.6h0M441.9 589.7h0M441.3 581.4h0M430.6 583.8h0M442.4 590.5h0M432.5 584.3h0M444.1 582.8h0M432.5 577.1h0M439.3 595.4h0M442.8 592.1h0M400.8 552.3h0M405.8 562.6h0M384.5 560h0M385.9 563.9h0M417 554h0M415.9 558.4h0M389.4 560.6h0M402.1 564.7h0M397.2 561.4h0M395.2 557.8h0M394.9 560.4h0M403.1 561.2h0M391.9 565.7h0M402.4 559.9h0M418.5 558.4h0M419.1 563.4h0M403.5 562h0M405.9 558.7h0M392.4 564.9h0M403.7 565.2h0M412.8 565.6h0M417.9 551.8h0M415.2 559.6h0M398.9 564.8h0M405.6 558.4h0M386.8 560.7h0M391 557.9h0M401 556.9h0M411.4 554.6h0M386.8 564h0M417.4 555.2h0M399.9 559.1h0M411.2 555.2h0M413.6 555.5h0M413.2 553.3h0M414.6 552.2h0M403.8 557.2h0M396.5 571.8h0M401.9 551.6h0M389.2 563.6h0M406.9 553.3h0M411.8 562.3h0M396.1 558.5h0M398.3 556.7h0M388.1 562.8h0M393.2 562.1h0M392.8 563.4h0M393.5 562.9h0M396.1 567.3h0M385.5 563.3h0M393.1 608.5h0M394.4 618.5h0M395.3 624.2h0M397.4 628.5h0M390.2 634.2h0M405.4 625.1h0M421.8 622.9h0M426.2 610.4h0M426.6 628.4h0M423.3 636.1h0M426.2 638.8h0M422.4 643.1h0M429.6 646.9h0M432.8 626.1h0M435.6 626.1h0M437.1 614.7h0M437.5 617.6h0M442.3 622.7h0M440 630.4h0M445.1 630.4h0M445.1 633.3h0M437.1 637.4h0M450.4 586.4h0M417.3 589.8h0M409.5 590.7h0M395.5 579.4h0M405.4 578.2h0M428.1 600.2h0M434.7 600.2h0M423.3 539.1h0M384.6 552.3h0" stroke="#fc7e7e" stroke-width="3" stroke-linecap="square" fill="none"/>
<path d="M482.9 548.4h0M485.7 553h0M492.4 584.6h0M484.9 555.7h0M491.1 562h0M486.3 594.3h0M493.2 576.7h0M485.3 584.1h0M481.5 548.9h0M487.8 592.1h0M484.1 550.1h0M479.4 590.7h0M478.7 581.1h0M479.3 581h0M479.3 552.5h0M489.9 545.3h0M490.2 582.1h0M486.9 577h0M483.2 591.1h0M491.2 583h0M478.4 559.1h0M487.3 591.5h0M483.6 550.7h0M482.1 559.4h0M482.5 583.9h0M486.8 579.2h0M492.8 572.3h0M479.8 557.3h0M477.5 564.3h0M492.7 563.8h0M476.3 576.3h0M494.4 574h0M482.2 576.6h0M495.1 563.4h0M489.9 549.8h0M482.7 564.4h0M483.1 556.8h0M492.7 560.3h0M484.8 574.1h0M491.6 573.2h0M480.3 590h0M493.6 560.7h0M483.1 589.6h0M485.8 566.6h0M490.7 570.9h0M481 570.8h0M478.4 580.1h0M477.2 563.1h0M489.3 566.1h0M490.1 582.4h0M482.4 583.8h0M480.8 560.4h0M478.3 587h0M475.3 573.9h0M488.7 577h0M490.2 551.8h0M478.7 586.3h0M484.6 549.3h0M494.2 567.5h0M484.8 594.3h0M485 591.4h0M490.5 557.3h0M479 586.3h0M491.5 567h0M477.1 582.5h0M483.3 561.9h0M490.3 555.7h0M482.2 588.4h0M478.6 586.6h0M485.9 547.4h0M487.4 548.9h0M484.8 570.5h0M490.7 570.6h0M486.2 578.9h0M483 569.2h0M485.2 587.5h0M490.1 581.3h0M486.3 559.4h0M487.1 554.7h0M476.4 585.3h0M478.3 569.2h0M476.9 567.7h0M486.3 585.5h0M478 560.7h0M485.3 545.6h0M481.3 586.5h0M490.3 572.3h0M489.8 570.9h0M483.5 585.2h0M494.9 567.2h0M486.7 553.7h0M474.6 568.1h0M490.2 559.8h0M484 568.7h0M490.7 549.9h0M486 581.8h0M493.2 575.5h0M476.8 563.4h0M481.2 592.1h0M485 563.5h0M481 576.2h0M490.7 563.6h0M487.3 563.4h0M482.7 582.7h0M480.5 567.6h0M485.7 592.8h0M483 556.7h0M479.7 575.6h0M482.6 552.7h0M489.9 572h0M479.7 556.4h0M485.4 591h0M494.4 563.6h0M475.9 577h0M485.1 557.2h0M490.9 561.5h0M483.3 588.4h0M481 557.9h0M478.5 580.2h0M481.1 576.2h0M476.4 568.4h0M477.5 568.3h0M481.1 555h0M484.9 543.9h0M485.1 556.6h0M482.8 552.3h0M482.2 551.6h0M490.1 572.5h0M479.7 573.9h0M483.5 564.3h0M476.4 559.7h0M489.9 545.7h0M475.2 572.7h0M488.8 575.7h0M483.2 583.8h0M485.9 558.3h0M477.1 567.2h0M489.1 562.5h0M485 580.7h0M484 585.1h0M486.6 570.2h0M487.8 569.7h0M491.8 588.9h0M485.8 546.9h0M494 572.1h0M494.1 556.2h0M482.8 586.2h0M477.7 569.7h0M476.6 575h0M476.4 561.8h0M481.2 554.5h0M485.3 556.8h0M483.1 592.8h0M475.3 591.9h0M493.1 559.5h0M477.8 561h0M479.1 567.8h0M488 582.2h0M482.2 551.2h0M481.1 584.6h0M481 566.9h0M485.6 564.4h0M482.6 581.5h0M480.5 560.2h0M492 550.5h0M482.2 575.4h0M482.9 593.7h0M489.9 547.8h0M482.5 561.9h0M491.3 580.1h0M493.1 555.4h0M489 594.9h0M491.1 576.1h0M483.9 554.9h0M477.2 571.1h0M491 560h0M488.8 549.1h0M492.4 559.9h0M482.8 560.4h0M489.1 557.7h0M484.3 560.9h0M486.9 577.1h0M477.8 574.4h0M479.1 556.3h0M484.3 595.7h0M486.8 580.7h0M480.6 576.6h0M482.5 560.6h0M488.2 565.9h0M487.2 565.6h0M479.4 571.5h0M485.2 591.7h0M486 549.7h0M482.6 570.6h0M477.5 590.7h0M475.5 580.4h0M485.8 562.8h0M480.7 555.6h0M484.1 570.1h0M484.6 566.1h0M476.4 574.7h0M491.4 575.7h0M483.8 584.1h0M483.1 575.6h0M479.3 560.6h0M482.4 555.8h0M480.6 579.1h0M486.2 571.3h0M488.7 568.6h0M491.1 552.8h0M488.2 583.4h0M491.9 558.3h0M486.2 549.6h0M490.5 564.3h0M481.4 586.3h0M493.7 579.4h0M490 550.7h0M476.9 576.9h0M482.6 585.4h0M476.9 583.9h0M490.6 547.1h0M486.9 574.7h0M482.2 591h0M482.2 590.5h0M480.1 560.9h0M481.7 595.4h0M484.6 566.9h0M483.6 557.8h0M485 583.1h0M486.4 548h0M493.1 557h0M481.3 580.4h0M477.6 580.3h0M491 578.1h0M485.7 549.3h0M485.6 576.7h0M479 565.8h0M480.1 589.2h0M482.1 566.1h0M491.7 578.2h0M484.1 590.3h0M481.2 579.7h0M484 575.5h0M484.7 569.8h0M488.3 577.7h0M474.2 577.2h0M490 557.8h0M486.6 567.5h0M492.3 555.3h0M481.8 564.3h0M493.3 566h0M484.7 578.6h0M487.1 593.9h0M476.7 577.7h0M484 569.7h0M487 579.8h0M474.9 571.5h0M477.8 558h0M482.8 591.1h0M490.2 583.3h0M480.4 583.1h0M483.2 576.4h0M483.2 566.2h0M487.2 549.7h0M486.3 572.2h0M486.8 561.4h0M494.6 563.5h0M481.3 570.4h0M489.1 579.8h0M488.9 581.4h0M486.1 553.8h0M481.7 589.3h0M478.6 563.2h0M480.1 578.6h0M488 588.3h0M484.9 571.7h0M492.1 556.9h0M493.6 561.6h0M477.3 587.5h0M478.6 575.3h0M487.1 547.2h0M488.3 577.3h0M492.5 559.1h0M477.5 580.6h0M489.4 553.4h0M494.7 560.7h0M488.3 529.4h0M489.9 575.3h0M492.7 562.4h0M489.2 556.3h0M480.4 596.5h0M482.6 590.9h0M486.3 581.7h0M491.3 553.8h0M491.7 565.1h0M486.2 565.5h0M484.5 565.6h0M484.6 562.2h0M483.7 604h0M487.7 586h0M482.3 572.2h0M485.8 573.7h0M473.3 582.6h0M474.1 584.5h0M488 567.3h0M484.5 570.8h0M473.5 598.8h0M480.5 591.4h0M484.4 582.6h0M479.7 585.2h0M492.9 566.5h0M485.4 555.4h0M486.6 560.9h0M482.3 556h0M489.5 575.7h0M491.9 557.8h0M486.2 584.1h0M490.2 562h0M490.1 567.6h0M492.9 548.9h0M474.2 578.9h0M484.6 565.5h0M487.5 563.7h0M493 578.5h0M491.2 550.5h0M464.5 570.3h0M465.5 563.7h0M470.2 556.1h0M476.9 551.4h0M483.9 599.6h0M484.8 597.7h0M491 543.4h0M486.7 543.8h0" stroke="#0000c0" stroke-width="3.2" stroke-linecap="round" fill="none"/>
<line x1="377.2" y1="565.7" x2="505.2" y2="565.7" stroke="#222" stroke-width="1" stroke-dasharray="1.3 1.5"/>
<line x1="382.2" y1="566.5" x2="450" y2="565.3" stroke="#000" stroke-width="1.5"/>
<line x1="464.3" y1="559.2" x2="495.2" y2="569.3" stroke="#000" stroke-width="1.5"/>
<path d="M377.2 523.2H505.2V650.6H377.2Z" fill="none" stroke="#1c1c1c" stroke-width="1.25"/>
<text x="372.2" y="653.5" text-anchor="end" class="tk">-4</text>
<text x="372.2" y="632.3" text-anchor="end" class="tk">-3</text>
<text x="372.2" y="611" text-anchor="end" class="tk">-2</text>
<text x="372.2" y="589.8" text-anchor="end" class="tk">-1</text>
<text x="372.2" y="568.6" text-anchor="end" class="tk">0</text>
<text x="372.2" y="547.3" text-anchor="end" class="tk">1</text>
<text x="372.2" y="526.1" text-anchor="end" class="tk">2</text>
<text x="395.5" y="662.5" text-anchor="middle" class="tk">3</text>
<text x="432.1" y="662.5" text-anchor="middle" class="tk">4</text>
<text x="468.6" y="662.5" text-anchor="middle" class="tk">5</text>
<text x="505.2" y="662.5" text-anchor="middle" class="tk">6</text>
<path d="M373.7 650.6H377.2M373.7 629.4H377.2M373.7 608.1H377.2M373.7 586.9H377.2M373.7 565.7H377.2M373.7 544.4H377.2M373.7 523.2H377.2M395.5 650.6V654.4M432.1 650.6V654.4M468.6 650.6V654.4M505.2 650.6V654.4M413.8 650.6V652.8M450.3 650.6V652.8M486.9 650.6V652.8" stroke="#1c1c1c" stroke-width="1.2" fill="none"/>
<text x="441.2" y="673.8" text-anchor="middle" class="tt">ln Body Mass (mg)</text>
<text transform="translate(360.9 586.9) rotate(-90)" text-anchor="middle" class="tt">PC2</text>
<text x="466" y="622.8" class="st">Q R<tspan dy="-2.2" font-size="4.9">2</tspan><tspan dy="2.2"> = 0.02</tspan></text>
<text x="466" y="628" class="st">Q p = 0.016</text>
<text x="466" y="642.1" class="st">W R<tspan dy="-2.2" font-size="4.9">2</tspan><tspan dy="2.2"> = 0</tspan></text>
<text x="466" y="647.3" class="st">W p = 0.8161</text>
<path d="M610.6 594.2h0M616.5 588.8h0M615.9 570.5h0M608.7 602.7h0M602 568.7h0M616.9 570.3h0M619.8 583.5h0M603.6 560h0M616.9 587.9h0M616.1 600.2h0M613.5 603.4h0M610.3 580.1h0M616.1 559.3h0M604.4 558.4h0M620.9 562.3h0M603.6 551.2h0M599.7 571.2h0M612.6 607.5h0M599.5 570.7h0M607.3 611.6h0M602.8 552.1h0M606.2 588.6h0M614.7 574h0M607.6 588.1h0M615.9 575.2h0M601.7 607.3h0M597.2 588.2h0M604.6 602.8h0M610.9 598.8h0M611.3 586.8h0M610.1 565h0M612.1 554.1h0M603.3 550.2h0M599.7 598.1h0M605.4 544.7h0M599.1 583h0M602.8 572.1h0M603.5 587.2h0M610.3 581h0M604.1 549.3h0M617.9 601.9h0M604.7 601.5h0M597.1 573h0M610 593.6h0M609.7 565.9h0M618.1 579.5h0M608 555.6h0M597.5 572.6h0M601.4 591.6h0M603.4 552h0M608.2 566.2h0M599.4 600.5h0M602.3 600.7h0M609.2 559.5h0M606.5 604.8h0M610.9 561.8h0M603.4 605.7h0M617.6 591.4h0M615.5 597.9h0M602.4 567.3h0M616 576.9h0M618.1 562.5h0M602.3 558.6h0M605.4 553.8h0M605.4 612h0M598.9 596.3h0M609.2 546.8h0M602.3 549.9h0M607.6 592h0M601.4 586.6h0M614 573.4h0M604.5 594.2h0M605.9 551.5h0M606 559h0M598.6 575.1h0M613.1 558.8h0M599 574.3h0M600.7 600.5h0M617.5 584.7h0M608.4 562.9h0M610.9 588.3h0M603.1 556.6h0M605.3 597.3h0M610.4 569.3h0M609.9 589h0M617.5 571.3h0M603.8 601h0M604.6 553.8h0M615.5 585.9h0M611.9 583.3h0M607.8 595.5h0M599.4 556.1h0M605 588.1h0M604.5 549.1h0M603.9 574.1h0M614.6 585.1h0M605.2 586.8h0M603.1 573.3h0M608.5 574.9h0M615.3 599h0M606.4 581.2h0M615.6 551.8h0M610.5 591.3h0M607.7 604.8h0M608.9 571.8h0M614 551.4h0M611.4 602.3h0M616.6 552.8h0M610.2 602.1h0M603.8 583.9h0M611.7 595.9h0M602.2 604.7h0M611.3 569.6h0M606.7 590.6h0M606.2 594.1h0M605.3 563.1h0M612.1 573h0M615.3 572.3h0M598.7 560.2h0M609.8 553.2h0M601.9 570.7h0M614.6 561.9h0M597.6 575.3h0M609.1 608.1h0M606 552.2h0M600.9 571.5h0M603.9 607.8h0M607.9 579.3h0M607.7 570.6h0M600 593h0M618.2 573.9h0M618.2 593.1h0M606.1 613.4h0M616.2 570.7h0M616.5 585h0M605.2 553.9h0M612.1 598.2h0M606.9 557.5h0M612.5 585.8h0M619 560.3h0M604.9 567.3h0M610.5 560.3h0M605.6 585.3h0M612.4 563.7h0M610.2 573.9h0M618.8 589.2h0M614.6 579.4h0M617 585.4h0M605 588.7h0M598.2 577.6h0M603.5 574.9h0M601 602.6h0M613.4 569.3h0M606.4 556.8h0M609.7 608.6h0M615.4 555.5h0M611.7 577.2h0M611.2 578.7h0M613.3 557.8h0M610.4 591.5h0M610 596.9h0M611.5 579.3h0M620.1 575.8h0M605.4 578.9h0M613.4 605.2h0M617 584.2h0M613.8 588.7h0M600.6 569.5h0M612.3 563.5h0M608.4 571.4h0M602 590.2h0M608.3 573.2h0M602.1 604.3h0M607.2 593.8h0M607 556.8h0M596.1 571.7h0M605.1 551.8h0M604.5 558.8h0M614.3 559.1h0M608.2 576.8h0M604.5 568.4h0M604.3 572.1h0M607.5 592h0M604.6 560.3h0M611 564.6h0M610.5 547.8h0M597.3 606.2h0M598.7 603h0M613.3 571.7h0M616.4 601h0M613.4 586.4h0M595.7 589.4h0M613 591.8h0M612.7 590.4h0M612.3 600.2h0M613.9 567.5h0M614.4 583.8h0M616.4 587.5h0M607.6 567.3h0M603.2 578.9h0M607.5 547.5h0M618.9 582.7h0M606.3 568.8h0M606.5 562.8h0M596.2 585.4h0M611.7 573.4h0M606.3 592h0M600.9 564.2h0M599.2 589h0M599.2 584.1h0M599.4 585.4h0M614.8 585h0M602 598.2h0M601.6 602.8h0M611.7 589.3h0M620.3 571.8h0M610.7 574.4h0M616.2 552h0M615.5 574.4h0M609.3 551.4h0M611.6 592.9h0M606.3 608h0M611.7 582.2h0M602 591.5h0M600.4 565.9h0M608.9 578.8h0M596.9 588.7h0M608.3 601h0M602.5 594.6h0M607.6 544.5h0M620.9 581.7h0M615.8 600.6h0M599.5 575.6h0M619.5 581.4h0M614.7 585.4h0M614.8 580.6h0M617.1 560.5h0M604.4 566.6h0M601.3 585.3h0M610.4 584h0M620.7 565.1h0M601 568.8h0M600.3 591.3h0M611.8 568.7h0M621.2 568.9h0M600.9 559h0M618.9 580.9h0M598.4 571.9h0M620.2 569.2h0M618.3 577.1h0M601.6 568.2h0M617.4 582.5h0M606.8 580.1h0M605.4 574.1h0M611.7 571.6h0M609.2 568.9h0M606.5 612.7h0M606.3 549.3h0M617.9 568.7h0M601.3 588.5h0M618.6 580h0M609.1 594.8h0M600.8 588.6h0M613.9 611.2h0M599.7 589h0M606.3 589h0M608.2 592.3h0M611.7 578.2h0M610 561.8h0M617.6 566.6h0M613.3 549.2h0M602.7 590.7h0M612.9 572.1h0M601 593h0M596.7 579.1h0M615.1 555h0M615 569.7h0M610 553.6h0M603.2 587.2h0M602.5 555h0M603.7 554.9h0M609.4 583.4h0M606.2 553.4h0M614.8 563h0M613 548.1h0M596.7 596.6h0M618.3 591.9h0M613 583.2h0M613.8 590.4h0M612.9 559.4h0M611.5 573h0M600.4 601.4h0M602.5 551.2h0M604.2 549.8h0M620.1 575.9h0M613.5 586.5h0M597.8 589.6h0M619.9 571.2h0M598.6 574.9h0M599.5 560.7h0M616.9 584h0M609 555.8h0M601.3 579h0M618.2 575.5h0M613.1 578.2h0M612.4 566.3h0M605.7 602.2h0M607.6 609.4h0M609.2 564.3h0M620.7 565.5h0M615.7 583.7h0M611.3 596.3h0M601.6 597.2h0M599.7 581.4h0M600.5 605.7h0M613.9 589.1h0M610.9 601.3h0M614.4 548.1h0M605.9 594.6h0M618.4 581.1h0M598.6 585.2h0M613.8 586.2h0M600.1 566.1h0M611.8 602h0M609.5 587.5h0M602.6 550.5h0M614 576.7h0M612.5 590.9h0M608.3 581.5h0M600 553.1h0M611.3 574.9h0M614.7 556.5h0M607 592.3h0M612.2 601h0M607.4 601.9h0M614.5 573.3h0M610.7 568.8h0M603.9 560.4h0M619 563.1h0M605.7 578.3h0M607.4 577.6h0M617.1 589.6h0M619.4 577.4h0M609.1 611.8h0M606.1 591.9h0M610.3 595.2h0M601.4 572.3h0M610.5 554.1h0M604.2 571.1h0M597.5 597.5h0M601.6 587.4h0M612.3 547.1h0M605.5 600.9h0M599 567.6h0M619.9 586.5h0M611.1 600.2h0M610.4 582.8h0M603.4 603.7h0M601.3 589.4h0M617.9 571h0M615.1 603.2h0M598 579.8h0M613.2 594.1h0M599.4 577.6h0M601.8 577.1h0M617.2 556.1h0M597.8 586h0M596.4 563.9h0M603 595.1h0M613.8 577.2h0M611 589.9h0M608.1 563.7h0M616.3 563.9h0M603.4 596.8h0M613 584.5h0M605 557.5h0M608.8 546h0M604.3 589.6h0M610.6 586.7h0M602.3 586.9h0M605.6 562.2h0M604.3 586.4h0M611.8 556.3h0M617.9 557.2h0M614.8 556.9h0M610.4 600.1h0M610.2 600.4h0M607.2 572h0M618.6 575.6h0M607.2 606.4h0M617.9 587.1h0M603.6 577.8h0M610 584.8h0M603.3 604h0M618.1 574.6h0M609.3 570.5h0M602.6 615.2h0M612.7 574.3h0M601.6 562.3h0M596.1 573.7h0M602.6 576.5h0M603 570.5h0M605.4 605.9h0M620.6 553.9h0M609 576.5h0M604.9 538h0M609.1 556.4h0M614.1 609h0M619.3 592.8h0M603.7 561.7h0M610 529.6h0M609.6 588.2h0M598.6 571.7h0M613.6 587.9h0M619.7 558.5h0M596.2 609.2h0M605.7 580.1h0M610.3 565.6h0M608 590.2h0M601.1 572.9h0M609.1 573.1h0M608.5 574.4h0M598.3 587.1h0M594.6 612.6h0M605.8 587.5h0M609.3 563.3h0M607.1 587.1h0M606.2 573h0M610.8 577.1h0M607.9 579.5h0M613.2 560h0M614.7 554.8h0M609 584.1h0M605.9 583.5h0M621.1 568.6h0M604 571.4h0M606 548.7h0M609.3 622.9h0M604 570.8h0M614.3 546.9h0M621.9 571.8h0M615.7 570.8h0M603.3 584.4h0M604.4 590.1h0M615.9 597.7h0M597.2 545.6h0M607.5 588.4h0M599.9 548.6h0M605.1 570.5h0M624.4 582.5h0M605.9 590.4h0M607.7 582.8h0M619.6 585.2h0M608 573.4h0M610.1 559.8h0M607.5 600.2h0M603.2 584.7h0M601.2 575.1h0M603.5 622.6h0M601 560.9h0M613 578.2h0M603.6 605.5h0M604.8 573.6h0M620.5 549.5h0M600.5 561.2h0M605.2 589.2h0M594.6 631.6h0M603.7 603.1h0M598 587.3h0M609 582.3h0M625.2 570.8h0M612.7 579.6h0M612.4 600.1h0M598.2 583.1h0M596.3 575h0M611.2 604.3h0M601.2 602.2h0M607.1 587.6h0M602.8 567h0M604.6 557h0M604.6 604.6h0M613.2 584.9h0M608.2 582.3h0M601.4 569.5h0M609 583.1h0M611.1 568.4h0M606.5 612.3h0M610.1 590h0M610.9 552.6h0M605.5 555.9h0M596.5 562.5h0M605.9 605h0M603.1 585.6h0M609.9 550.7h0M608.7 580h0M609.5 589.9h0M605.4 579.3h0M604.4 585.3h0M607.5 598.4h0M600.2 613.7h0M597.6 575.2h0M604.5 583.7h0M596.2 557.9h0M604.3 640.2h0M606.4 629.1h0M611.4 573.4h0M612.5 598.6h0M612.5 601.6h0M606.7 605.4h0M603.8 593h0M610.6 639.3h0M605.3 576.8h0M612.9 614.1h0M622.6 562.6h0M612.5 615.9h0M609.1 584.6h0M595 581.9h0M609.5 580.6h0M621.6 590.7h0M597.6 569.9h0M606.2 578.4h0M614.2 605.7h0M613.5 587.7h0M606 587.6h0M605.2 637.5h0M596 584.3h0M609.2 543.6h0M598.8 601.5h0M598.9 583.1h0M612.5 574.7h0M602 556.3h0M593 530.4h0M603.7 565.9h0M600.5 597.4h0M614.5 584.8h0M610.9 594.4h0M601.5 623.5h0M613.8 536.3h0M612.2 532.4h0M616.1 622.7h0M613.5 579.8h0M605.3 584h0M602.5 527.9h0M610.9 606h0M610.8 593.8h0M622.7 606.4h0M611.6 588.6h0M604.1 562.3h0M619.2 565.9h0M596.2 576.9h0M599.9 584.7h0M607.5 559.2h0M612.5 573.3h0M605.2 596.3h0M594.1 579.3h0M611.5 574.7h0M606.8 568.9h0M606.8 559.8h0M591.9 577.4h0M613.9 561.2h0M611.9 570.4h0M609.8 588.3h0M606.7 598.3h0M617.9 541.8h0M608.2 583h0M602 599h0M611.2 574h0M604.5 619.2h0M594.7 588h0M598.6 581.3h0M610.5 604.5h0M626.3 549.9h0M607.9 563.4h0M566.7 602h0M574.4 574.5h0M590.4 605.6h0M587.4 579.2h0M563.9 588.1h0M572.7 571.6h0M562 601.8h0M559.1 619h0M587.9 606.1h0M576.8 567h0M590 581.2h0M582.8 552h0M595.2 576.2h0M566.5 600.7h0M586.8 596.2h0M592.5 589.9h0M584.3 581.1h0M569.8 589h0M562.7 601.2h0M594 593.9h0M575.3 599.8h0M577.8 590.9h0M587.4 598.4h0M588.8 561.2h0M577.4 589.2h0M568.4 589.6h0M594.8 581.5h0M558.4 590.1h0M557.9 606.6h0M576.7 601.8h0M567.6 569.1h0M582.3 583.5h0M581.7 621.6h0M585 597.9h0M577 591.7h0M559.2 594.9h0M585.5 595.9h0M577.8 608.5h0M574.6 570.6h0M577.4 594.3h0M579.5 571.7h0M594.4 596.8h0M581.8 598h0M590.4 605.7h0M580.3 590.2h0M582.1 594.6h0M592.8 592.7h0M588.3 602.3h0M575.6 590.6h0M596.5 571.4h0M575 590.3h0M594.8 587h0M585.4 608.6h0M585 608h0M570 593.8h0M593 598.9h0M567.3 607.3h0M577.1 572.6h0M566.3 597.1h0M562.4 612h0M571.7 612.5h0M592.3 587.6h0M582.5 584.7h0M585.7 585.3h0M570.3 603.9h0M560.9 590.3h0M563.7 592.6h0M582.5 591.8h0M564.4 597.2h0M590.5 581.7h0M593.6 582.5h0M595.3 584.5h0M561.2 607.6h0M580.8 625.3h0M590 576.7h0M595.9 626.4h0M587.3 602.8h0M570.4 587.7h0M587.3 593.7h0M572.5 615.6h0M583.8 579.2h0M565.8 598.4h0M563.8 595.7h0M565.4 594.2h0M592.6 606.1h0M578.7 565.2h0M561 594.4h0M559.3 605.6h0M591.5 611.1h0M575.8 608.9h0M594.3 581.6h0M575.2 577.4h0M588.8 588.4h0M562.7 570.3h0M590.9 584.3h0M564.1 613.6h0M575.4 609.8h0M593.2 584.1h0M585.5 597.1h0M581.2 596.2h0M588.6 588.6h0M585.5 599.9h0M562.6 606.1h0M573.2 609.2h0M562.7 596.5h0M583.4 588.4h0M584.3 572.9h0M575.5 584.4h0M590.8 599.2h0M580.1 590.5h0M616.4 528.3h0M618.3 532.5h0M580 549.1h0M611.3 648.8h0M604.1 630.8h0M610.1 631.4h0M606.5 623.2h0M581.4 621.9h0M563.8 616.2h0M619.2 617.6h0M588 617.6h0" stroke="#fc7e7e" stroke-width="3" stroke-linecap="square" fill="none"/>
<path d="M659.7 597h0M663.3 615.3h0M661.5 570.5h0M655.7 611.7h0M668.7 597.6h0M664.7 567.7h0M666 606.8h0M670.2 603.3h0M666.2 566.1h0M656 592.5h0M661.7 579.5h0M655.5 609.2h0M661 589.5h0M664.4 608.4h0M666.6 573.1h0M667.4 572.4h0M669.6 576.3h0M655.9 605.5h0M660 587.4h0M656.5 596.4h0M662.9 606.3h0M658.7 582.2h0M664.7 593.7h0M658.6 599.1h0M656.5 574.9h0M660.6 610h0M669.5 566.4h0M657.5 599.9h0M654.8 570.3h0M664.6 588.1h0M657.2 597.9h0M653.1 597.4h0M663.7 599.2h0M656.6 568.8h0M658.3 591.3h0M667.8 612.3h0M671.7 592.6h0M659.4 573.6h0M666.8 606.6h0M662.7 610.5h0M670.3 592.9h0M659.1 570.5h0M659.9 562.4h0M657.7 559.7h0M658.8 590.9h0M658.7 564.3h0M661.5 613h0M651.1 581.3h0M656.6 609h0M666.4 573.8h0M662.2 557.8h0M655.5 593.8h0M663.5 576.1h0M658.5 558.6h0M668.4 595h0M665.7 600.9h0M660.6 558h0M671.6 586.1h0M658.3 576.1h0M654.9 601.4h0M664.7 608.3h0M667.6 586.4h0M658.1 563.7h0M665.3 610h0M667.7 589.3h0M662.2 602.7h0M667.7 562.3h0M651.8 600.1h0M655 579h0M658.6 564.3h0M659.9 553.4h0M666.7 563.3h0M656 569.4h0M663.6 577.1h0M656.5 573.3h0M652.1 586.9h0M657.8 565.9h0M655.8 601.1h0M666.1 562h0M666.1 605.8h0M667.2 592.2h0M658.9 557.7h0M663.7 582.7h0M656.7 588.5h0M658.9 570.4h0M655.9 588.8h0M659.8 571.2h0M663.2 603.9h0M662.3 559.7h0M654.7 589.3h0M665.7 564.3h0M667.3 605h0M665.3 589.8h0M668 583.5h0M668.5 566h0M657.6 609.2h0M659.5 610h0M653.1 574.2h0M656.8 581.3h0M666.3 567.5h0M665.8 582.1h0M671.8 585.7h0M650.7 590.8h0M667.7 573.5h0M659.8 597.8h0M664.2 558.3h0M662.5 595.3h0M658.3 612.6h0M659.6 567.4h0M663.6 567.8h0M665.1 593.1h0M671.1 589.9h0M667.8 567h0M655.3 573.9h0M671.8 577.4h0M664.7 601.5h0M657 592.8h0M655.3 605.6h0M671.6 590.6h0M657.5 591.1h0M654.5 580.8h0M658.9 567.8h0M662.8 573.8h0M655.4 584.8h0M665.2 578.1h0M661.7 574.1h0M652.1 582.6h0M666.2 583h0M662.8 585h0M671.4 598.7h0M667 585.6h0M660.5 586.4h0M666.2 571h0M661.9 591.2h0M655 559.1h0M663.9 611.9h0M664 563.3h0M664.6 612.2h0M669.3 604.4h0M663.4 567h0M667 556.7h0M659.3 603.3h0M659.8 567.4h0M656.4 589.2h0M654.9 593h0M665.1 593.9h0M660 609.8h0M659.2 564.3h0M672.2 570.3h0M669.4 597h0M660.3 590.4h0M663.2 565.5h0M657.3 603.8h0M654.3 600h0M662.5 559.3h0M662.7 562.9h0M666.3 586.2h0M671.6 595h0M670.2 570.6h0M670.9 574.5h0M652.3 602.8h0M667.1 598.2h0M665 585.4h0M669.5 597.4h0M654.8 578.2h0M671 574.9h0M657.6 581.7h0M654.8 610.6h0M670.1 603h0M663.7 601.3h0M663.8 606.6h0M652.1 574.7h0M659 582.2h0M661.8 551.2h0M660.2 576.3h0M656.3 598.9h0M653.4 587h0M666.2 554.9h0M659.9 566.8h0M669.2 577.5h0M665.2 556.8h0M654.4 592.1h0M662.3 571.8h0M655.4 568.4h0M658.9 591.8h0M663.8 581.9h0M666.8 603.3h0M662.3 558h0M650.1 588.1h0M665.3 563.6h0M665.7 574.9h0M662.9 573.4h0M665.6 587.2h0M658.8 576.1h0M660.5 589.8h0M660.4 576.2h0M663.5 605.2h0M669.6 584.7h0M669.5 569.4h0M654.6 577.8h0M658.7 577.9h0M666.5 584.5h0M670.2 576h0M669.4 586.9h0M659.5 575.4h0M662.5 587.3h0M658.9 612.4h0M671.6 571.4h0M669.8 582.9h0M665.8 574.1h0M655.1 596.8h0M652.5 600.5h0M651.3 589.8h0M666.9 560.9h0M662 605.2h0M652.9 576.8h0M661.4 590.3h0M651.8 596.1h0M657 556.1h0M663.6 565.5h0M671.5 566.3h0M670.7 596.8h0M669.7 594.3h0M669.8 565.1h0M657.7 597.9h0M659.9 594.7h0M669.9 600.5h0M664 578.5h0M660.7 577.2h0M662.8 591.6h0M660.4 595.2h0M667.6 573.8h0M664.7 597.8h0M663.6 559.7h0M662.4 565.6h0M662.9 578.3h0M665.5 570.6h0M663.4 582.2h0M659.9 578.5h0M658.4 591.9h0M653.1 565.5h0M661.8 588.1h0M662.6 583.7h0M659.6 606.5h0M667.1 569.3h0M654.9 573.5h0M652.1 580h0M663.8 574.3h0M663.3 615.2h0M670 565.3h0M668.2 606.2h0M663.1 585.5h0M658.2 578.7h0M665.9 590.7h0M669.9 572.3h0M664.2 567.3h0M668.2 581h0M670.5 593.1h0M651.8 589.8h0M661.7 574.4h0M657.2 596.6h0M661.7 594.4h0M655 579.8h0M670.7 584.3h0M662.5 579.2h0M664.8 608h0M659.4 552.7h0M668.3 585.2h0M664.5 609.8h0M652.8 568.8h0M667.2 572.7h0M660.8 581h0M665.2 551.3h0M659.8 607.8h0M651.1 586.5h0M662.8 578.4h0M664.3 589h0M670.5 589.9h0M653.7 582.1h0M656.3 595.9h0M671.5 575.2h0M658.6 586.7h0M655.9 580.4h0M657.5 599.6h0M667.5 593.6h0M670.8 578.8h0M659.9 583.6h0M663.2 602.1h0M663.6 585.1h0M656.4 592.8h0M670.2 577.9h0M650.8 591.3h0M665.4 603.3h0M670.7 570.2h0M668.2 582.4h0M664.3 575.9h0M660.3 602.8h0M669.3 564.7h0M666.1 587.9h0M666.2 598.2h0M659.9 562.8h0M659.9 593.2h0M662.6 607.1h0M657.5 600.7h0M657.2 563.2h0M663.5 611.7h0M669.1 567.1h0M664.9 568.8h0M653.8 582.6h0M660.9 565.5h0M670.4 584.7h0M658.1 603.4h0M661.2 575.4h0M661.4 602.1h0M667.1 568.5h0M665.6 589.3h0M651.5 574.2h0M659.5 605.8h0M661.9 601.5h0M668.9 594.4h0M666.3 588.2h0M669.3 599.7h0M652.9 577.3h0M663.6 579h0M671 589h0M664.7 562.4h0M655.7 563.3h0M652 589.7h0M667 576.9h0M666.4 590.4h0M664.9 589.3h0M667.1 552.5h0M670 581.3h0M668.1 588.9h0M664.4 565.7h0M662.9 582.1h0M657 558.6h0M666.3 557h0M654.1 569.8h0M671.3 566.5h0M663.2 574.2h0M656.4 591.4h0M658.6 607.2h0M658.9 584.1h0M665 588.5h0M659.4 584.8h0M652.9 581.2h0M665.1 568.5h0M667.1 566.2h0M666.6 580.7h0M654.2 603.3h0M672.1 592.4h0M661.8 566.2h0M666.8 563.9h0M655.6 608.2h0M666.9 564.1h0M667.9 562.2h0M653.9 583.4h0M661.6 592.8h0M662.9 578.3h0M667.1 600.5h0M653.5 601.4h0M655.3 561h0M664.7 603.9h0M653.8 599.1h0M654.1 600.1h0M661 573.2h0M667 593.2h0M659.6 602.6h0M666.8 604.4h0M665.4 587.5h0M667 589h0M660.5 583.2h0M658.7 615.5h0M671 593.5h0M655.9 553.3h0M661.7 591.3h0M664.5 567.1h0M664 590.6h0M660.4 594.4h0M658.7 578.4h0M656.6 556.9h0M660.3 567.6h0M663.5 594.4h0M650.5 580h0M658.7 596.7h0M667.3 552.2h0M648.8 585h0M669.1 579.6h0M664.6 592.7h0M670.4 603.5h0M663.5 595.5h0M660.6 599.9h0M648.1 594.7h0M664 595.6h0M667 587.2h0M657.4 604.7h0M655.3 592.7h0M664.1 569.6h0M663.4 589.2h0M665.1 541.7h0M662.8 585.4h0M654.6 576.7h0M658.2 570.4h0M661.2 535.3h0M655.5 593h0M665.4 567.2h0M663.3 608.1h0M668.4 593.6h0M659.8 550.7h0M658.9 589.6h0M667.1 594.4h0M654.9 584.9h0M667 560.7h0M668.8 596.2h0M657.5 608.6h0M665.6 561.7h0M661.3 592.7h0M670.1 584h0M661 562h0M659.4 577.6h0M665.7 566.4h0M658.3 565.9h0M665.3 579h0M655.1 596.9h0M656.7 542.9h0M663.3 548.5h0M640.8 573.1h0M641.9 587.3h0M648.5 613.4h0M666.1 623.8h0M664.2 628h0M646.2 583.1h0M650.4 576.9h0" stroke="#0000c0" stroke-width="3.2" stroke-linecap="round" fill="none"/>
<line x1="553.4" y1="586.9" x2="681" y2="586.9" stroke="#222" stroke-width="1" stroke-dasharray="1.3 1.5"/>
<line x1="558.7" y1="596.6" x2="626" y2="581.9" stroke="#000" stroke-width="1.5"/>
<line x1="639.9" y1="597.4" x2="670.8" y2="584.1" stroke="#000" stroke-width="1.5"/>
<path d="M553.4 523.2H681V650.6H553.4Z" fill="none" stroke="#1c1c1c" stroke-width="1.25"/>
<text x="548.4" y="653.5" text-anchor="end" class="tk">-2</text>
<text x="548.4" y="621.7" text-anchor="end" class="tk">-1</text>
<text x="548.4" y="589.8" text-anchor="end" class="tk">0</text>
<text x="548.4" y="558" text-anchor="end" class="tk">1</text>
<text x="548.4" y="526.1" text-anchor="end" class="tk">2</text>
<text x="571.6" y="662.5" text-anchor="middle" class="tk">3</text>
<text x="608.1" y="662.5" text-anchor="middle" class="tk">4</text>
<text x="644.5" y="662.5" text-anchor="middle" class="tk">5</text>
<text x="681" y="662.5" text-anchor="middle" class="tk">6</text>
<path d="M549.9 650.6H553.4M549.9 618.8H553.4M549.9 586.9H553.4M549.9 555.1H553.4M549.9 523.2H553.4M571.6 650.6V654.4M608.1 650.6V654.4M644.5 650.6V654.4M681 650.6V654.4M589.9 650.6V652.8M626.3 650.6V652.8M662.8 650.6V652.8" stroke="#1c1c1c" stroke-width="1.2" fill="none"/>
<text x="617.2" y="673.8" text-anchor="middle" class="tt">ln Body Mass (mg)</text>
<text transform="translate(537.1 586.9) rotate(-90)" text-anchor="middle" class="tt">PC3</text>
<text x="625.2" y="623.1" class="st">Q R<tspan dy="-2.2" font-size="4.9">2</tspan><tspan dy="2.2"> = 0.02</tspan></text>
<text x="625.2" y="628.3" class="st">Q p = 0.026</text>
<text x="625.2" y="642.5" class="st">W R<tspan dy="-2.2" font-size="4.9">2</tspan><tspan dy="2.2"> = 0.02</tspan></text>
<text x="625.2" y="647.7" class="st">W p = 0.0005</text>
</svg>
</body></html>
